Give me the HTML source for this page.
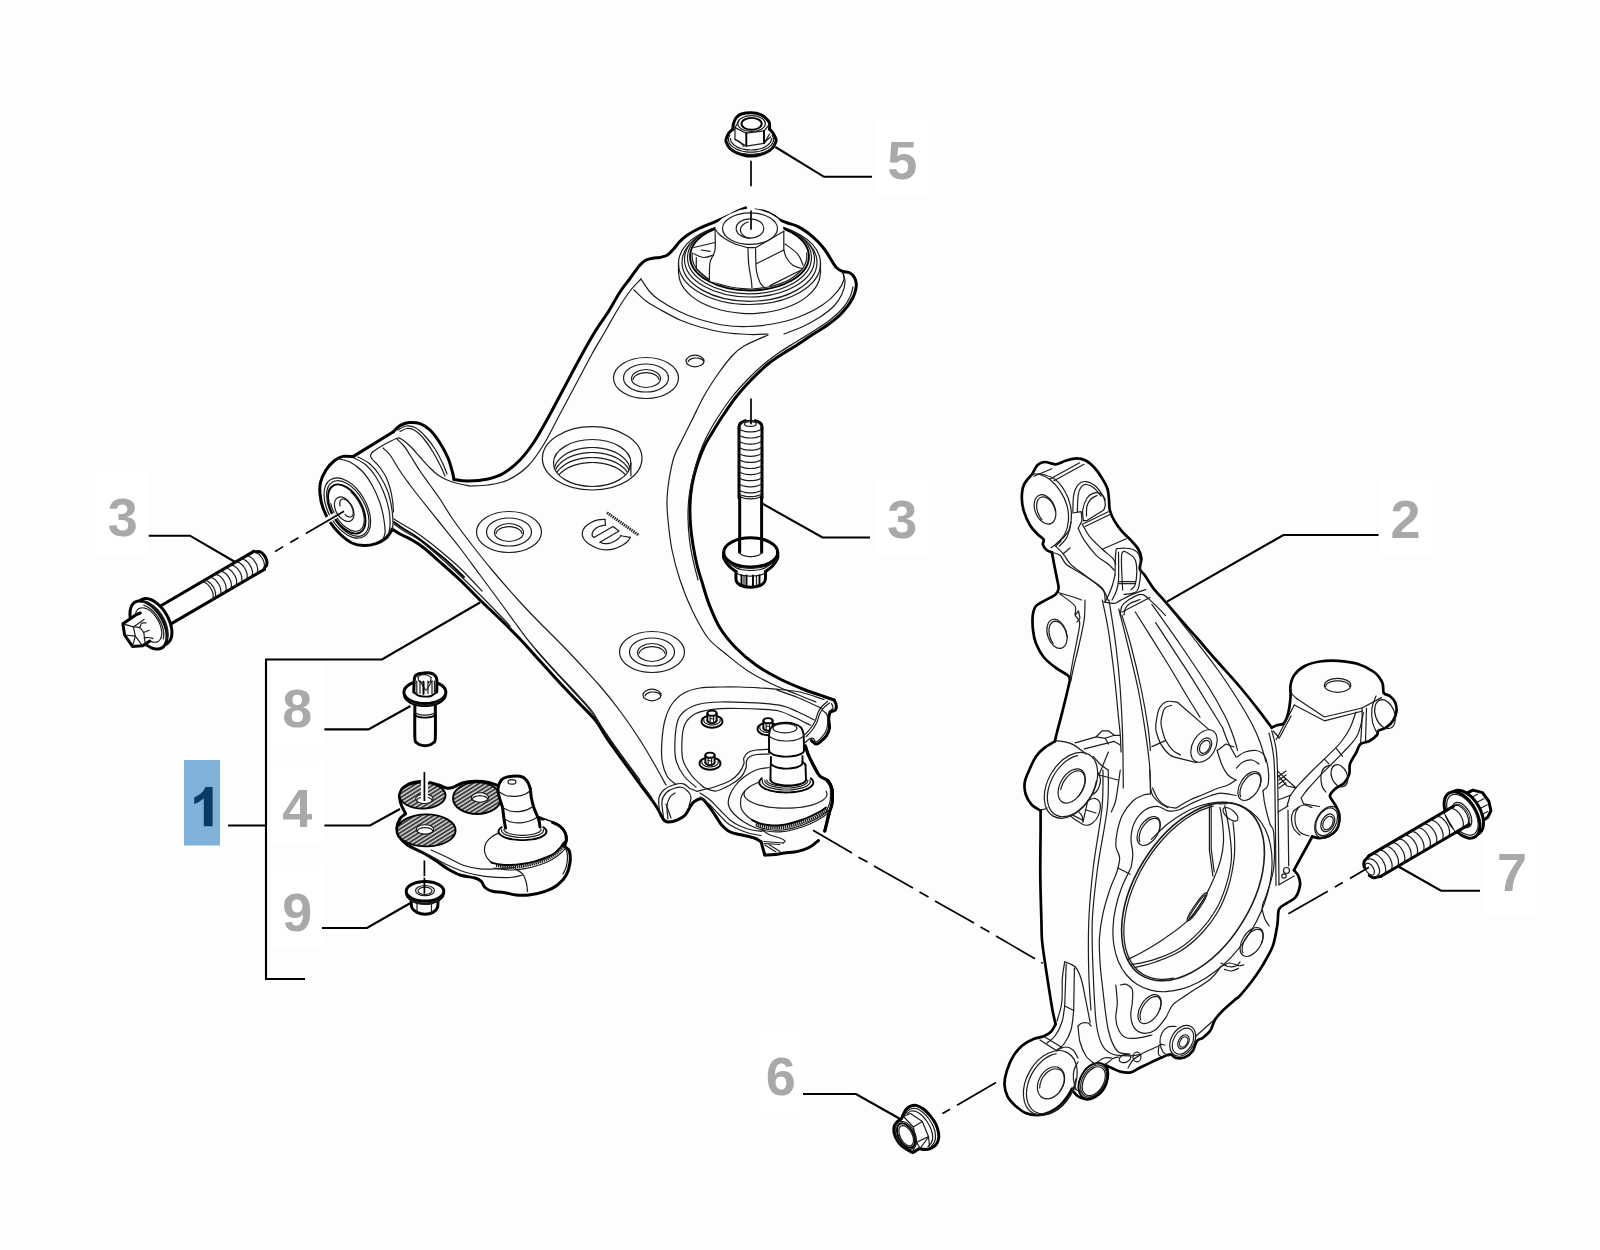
<!DOCTYPE html>
<html><head><meta charset="utf-8">
<style>
html,body{margin:0;padding:0;background:#fdfdfd;}
body{width:1600px;height:1250px;overflow:hidden;font-family:"Liberation Sans",sans-serif;}
svg{display:block;position:absolute;left:0;top:0;}
.o{fill:none;stroke:#000;stroke-width:3;stroke-linejoin:round;stroke-linecap:round;}
#p_knuckle .o{stroke-width:2.7;}
.m{fill:none;stroke:#000;stroke-width:1.9;stroke-linejoin:round;stroke-linecap:round;}
.t{fill:none;stroke:#1c1c1c;stroke-width:1.2;stroke-linejoin:round;stroke-linecap:round;}
.l{fill:none;stroke:#000;stroke-width:2.1;stroke-linejoin:miter;stroke-linecap:butt;}
.a{fill:none;stroke:#000;stroke-width:1.7;stroke-linecap:butt;}
.wf{fill:#fdfdfd;}
.n{font-family:"Liberation Sans",sans-serif;font-weight:bold;font-size:54px;fill:#a9a9a9;text-anchor:middle;}
.bx{fill:#ffffff;}
</style></head><body>
<svg width="1600" height="1250" viewBox="0 0 1600 1250">
<g id="p_labels">
<rect class="bx" x="875" y="114" width="53" height="83"/>
<rect class="bx" x="96" y="472" width="53" height="83"/>
<rect class="bx" x="875" y="474" width="53" height="83"/>
<rect class="bx" x="1379" y="474" width="53" height="83"/>
<rect class="bx" x="271" y="663" width="53" height="83"/>
<rect class="bx" x="271" y="762" width="53" height="83"/>
<rect class="bx" x="271" y="866" width="53" height="83"/>
<rect class="bx" x="1485" y="833" width="53" height="83"/>
<rect class="bx" x="754" y="1030" width="53" height="83"/>
<rect x="184" y="760" width="36" height="85.5" fill="#7fb1d9"/>
<text class="n" x="902.2" y="178.6">5</text>
<text class="n" x="122.8" y="536.4">3</text>
<text class="n" x="902.2" y="538.4">3</text>
<text class="n" x="1405.5" y="538.4">2</text>
<text class="n" x="297.3" y="727">8</text>
<text class="n" x="297.3" y="826.6">4</text>
<text class="n" x="297.3" y="931">9</text>
<text class="n" x="1512" y="891">7</text>
<text class="n" x="780.8" y="1095">6</text>
<path d="M212.6 826.3H203.8V798.2C201 800.8 197.8 802.8 194.2 804V797.2C196.2 796.5 198.4 795.2 200.7 793.4C203 791.6 204.6 789.4 205.5 787H212.6Z" fill="#083a66"/>
<g class="l">
<path d="M872 176.8H824L775.4 147"/>
<path d="M148.7 535.7H190L236 562.5"/>
<path d="M870 537.5H822.5L762.5 503.7"/>
<path d="M1378.5 535H1283.4L1167 601.6"/>
<path d="M324.4 729.4H368.5L410.5 706"/>
<path d="M324.4 825.5H370L400 809"/>
<path d="M322 928H367L410.5 903"/>
<path d="M1480 890.7H1441L1397.5 866"/>
<path d="M803 1094H856L902 1120"/>
<path d="M228 825.5H266"/>
<path d="M305 979H266V659.5H382L480 602.5"/>
</g>
</g>
<g id="p_arm">
<path class="o" d="M745.6 207.8C744.7 208.2 742.6 208.8 740 210C737.4 211.2 734 213.1 730 215C726 216.9 721 219.1 716 221.3C711 223.5 704.8 225.7 700 228C695.2 230.3 690.8 232.8 687.5 235C684.2 237.2 682.3 239 680 241.3C677.7 243.6 675.9 246.5 673.8 248.8C671.7 251.1 669.8 253.6 667.5 255C665.2 256.4 662.2 257 660 257.5C657.8 258 656.3 257.6 654 258C651.7 258.4 648.3 258.8 646 260C643.7 261.2 642.7 261.9 640 265C637.3 268.1 633.3 274 630 278.5C626.7 283 623.8 286.2 620 292C616.2 297.8 611.5 306.7 607.5 313C603.5 319.3 600.6 322.5 596 330C591.4 337.5 585.3 348.3 580 358C574.7 367.7 569.3 378 564 388C558.7 398 553 409 548 418C543 427 538.7 435 534 442C529.3 449 525 454.8 520 460C515 465.2 509.3 469.8 504 473C498.7 476.2 494 477.7 488 479C482 480.3 473.7 480.9 468 481C462.3 481.1 456.3 479.8 454 479.5"/>
<path class="o" d="M755.6 210C757 210.2 761 210.5 763.8 211.3C766.6 212.1 769.8 213.6 772.5 215C775.2 216.4 777.5 218.7 780 220C782.5 221.3 784.6 221.9 787.5 223C790.4 224.1 794.2 224.7 797.5 226.3C800.8 227.9 804.2 230 807.5 232.5C810.8 235 814.6 238.4 817.5 241.3C820.4 244.2 822.7 246.9 825 250C827.3 253.1 829.4 257.1 831.3 260C833.2 262.9 834.4 265.6 836.3 267.5C838.2 269.4 840.2 270.4 842.5 271.3C844.8 272.2 848 272 850 273C852 274 853.4 275.7 854.4 277.5C855.4 279.3 856.1 281.7 856.3 283.8C856.5 285.9 856.1 287.7 855.6 290C855.1 292.3 854.4 294.8 853 297.5C851.6 300.2 849.7 303.4 847.5 306.3C845.3 309.2 843.3 311.9 840 315C836.7 318.1 832.5 321.4 827.5 325C822.5 328.6 815.4 332.8 810 336.3C804.6 339.9 799.3 343.5 795 346.3C790.7 349.1 788.5 350.1 784 353C779.5 355.9 773.3 359.7 768 364C762.7 368.3 757.3 373.5 752 379C746.7 384.5 741 390.7 736 397C731 403.3 726 411 722 417C718 423 715 428 712 433C709 438 706.5 441.7 704 447C701.5 452.3 699 458.7 697 465C695 471.3 693.2 478.3 692 485C690.8 491.7 690.2 498.3 690 505C689.8 511.7 690 518.3 690.5 525C691 531.7 691.9 538.3 693 545C694.1 551.7 695.5 558.8 697 565C698.5 571.2 700 575.5 702 582C704 588.5 706 596.3 709 604C712 611.7 715.5 620.7 720 628C724.5 635.3 730 641.8 736 648C742 654.2 748.7 659.8 756 665C763.3 670.2 772 674.9 780 679C788 683.1 796.7 686.6 804 689.5C811.3 692.4 819 694.8 824 696.5C829 698.2 832.3 699.4 834 700"/>
<path class="o" d="M834 700C834.4 700.8 836 703.1 836.2 704.8C836.5 706.5 836.5 708.8 835.5 710C834.5 711.2 831.3 710.8 830.2 712.3C829.1 713.8 828.8 716.4 828.7 719C828.6 721.6 829.9 725.2 829.5 728C829.1 730.8 828 733.3 826.5 735.6C825 737.9 822.2 740.3 820.5 741.7C818.8 743.1 817.5 744.2 816 744C814.5 743.8 812.2 741.1 811.4 740.5"/>
<path class="o" d="M454 479.5C453.7 478.2 453.4 475.6 452.4 472C451.4 468.4 450.1 462.8 448 458C445.9 453.2 443 447.7 440 443C437 438.3 433.3 433.2 430 430C426.7 426.8 423.5 424.8 420 423.6C416.5 422.4 412.3 422.3 409 422.6C405.7 422.9 402.7 424 400 425.6C397.3 427.2 394.2 430.9 393 432"/>
<path class="o" d="M393 432L353 456.6"/>
<path class="o" d="M353 456.6C351.3 456.6 346.2 455.7 343 456.4C339.8 457.1 336.8 458.7 334 461C331.2 463.3 328.2 466.5 326 470C323.8 473.5 321.6 478 320.6 482C319.6 486 319.6 489.7 320 494C320.4 498.3 321.3 503.3 323 508C324.7 512.7 327.2 517.7 330 522C332.8 526.3 336.3 530.5 340 534C343.7 537.5 348 541.1 352 543C356 544.9 360 545.5 364 545.6C368 545.7 372.3 544.9 376 543.6C379.7 542.3 383.3 540.3 386 538C388.7 535.7 391 531.3 392 530"/>
<path class="o" d="M392 529C393.3 529.8 396.7 532.2 400 534C403.3 535.8 408 537.7 412 540C416 542.3 419.3 544.3 424 548C428.7 551.7 434 556.7 440 562C446 567.3 453.3 573.7 460 580C466.7 586.3 473.3 593.5 480 600C486.7 606.5 493.3 612.5 500 619C506.7 625.5 513.3 632 520 639C526.7 646 533.3 653.7 540 661C546.7 668.3 553.3 675.8 560 683C566.7 690.2 574 697.7 580 704C586 710.3 591.3 715 596 721C600.7 727 603.3 733.2 608 740C612.7 746.8 618.7 754.7 624 762C629.3 769.3 634.7 776.7 640 784C645.3 791.3 652.3 800.5 656 806C659.7 811.5 660.6 814.6 662 817C663.4 819.4 663.4 819.7 664.5 820.5C665.6 821.3 666.4 822.1 668.6 822C670.8 821.9 674.9 820.9 677.6 819.8C680.3 818.7 683 817.3 685 815.3C687 813.3 688.1 810 689.6 807.8C691.1 805.5 692 803.3 694 801.8C696 800.3 699.4 798.3 701.7 798.8C704 799.3 705.5 802 707.7 804.8C710 807.5 713 812 715.2 815.3C717.5 818.6 718.7 821.6 721.2 824.4C723.7 827.2 726.7 830.2 730.2 832C733.7 833.8 738.3 834 742.3 835C746.3 836 751.2 836.9 754.3 838C757.4 839.1 759.9 841.1 761 841.7"/>
<path class="o" d="M761 841.7L764.8 855"/>
<path class="o" d="M764.8 855C766.5 854.9 772 854.7 775.3 854.4C778.6 854.1 780.6 853.5 784.4 853C788.2 852.5 793.7 852.4 798 851.4C802.3 850.4 806.6 848.8 810 847C813.4 845.2 817.1 841.6 818.5 840.5"/>
<path class="o" d="M825 831C825.2 829.8 825.8 827.2 826.5 824C827.2 820.8 828.6 815.2 829.5 812C830.4 808.8 831.2 807.5 831.7 805C832.2 802.5 832.5 799.8 832.5 797C832.5 794.2 832.5 790.7 831.7 788C831 785.3 830 782.8 828 780.8C826 778.8 822 778.3 819.7 776C817.4 773.7 816.3 770.5 814.4 767C812.5 763.5 809.9 758.5 808.4 755C806.9 751.5 805.9 747.5 805.4 746"/>
</g>
<g id="p_arm2">
<path class="t" d="M641 279C642.5 281.2 646.8 288.4 650 292C653.2 295.6 655.2 297.4 660 300.6C664.8 303.8 672.5 308.3 678.8 311.3C685 314.3 690.2 316.5 697.5 318.8C704.8 321.1 714.2 323.7 722.5 325C730.8 326.3 739.2 326.7 747.5 326.5C755.8 326.3 764.2 325.5 772.5 324C780.8 322.5 789.2 320.7 797.5 317.5C805.8 314.3 815.8 309.4 822.5 305C829.2 300.6 834 295.5 837.5 291.3C841 287.1 842.9 283.2 843.8 280C844.7 276.8 843.1 273.3 843 272"/>
<path class="t" d="M634 290C636 291.8 641.7 297.8 646 301C650.3 304.2 654.3 306.3 660 309.5C665.7 312.7 673.3 317.1 680 320C686.7 322.9 692.7 324.9 700 327C707.3 329.1 715.7 331.2 724 332.5C732.3 333.8 742.7 334.2 750 334.5C757.3 334.8 765 334.1 768 334"/>
<path class="t" d="M768 335C764 336.8 750 342.5 744 346C738 349.5 736.3 351.3 732 356C727.7 360.7 722.7 367.3 718 374C713.3 380.7 708.3 388.3 704 396C699.7 403.7 695.7 412.7 692 420C688.3 427.3 685 433.8 682 440C679 446.2 676.2 450.3 674 457C671.8 463.7 670.2 472.8 669 480C667.8 487.2 667.2 493.3 667 500C666.8 506.7 667.2 511.7 668 520C668.8 528.3 670 540 672 550C674 560 676.7 570 680 580C683.3 590 687.3 600.3 692 610C696.7 619.7 702.3 630.7 708 638C713.7 645.3 719.3 648.5 726 654C732.7 659.5 740.3 666 748 671C755.7 676 764 680.2 772 684C780 687.8 788.7 691 796 694C803.3 697 812.7 700.7 816 702"/>
<path class="t" d="M853 287C852.5 288.7 851.7 293.5 850 297C848.3 300.5 846.3 304.2 843 308C839.7 311.8 835.2 316 830 320C824.8 324 817.7 328.3 812 332C806.3 335.7 801.3 338.7 796 342C790.7 345.3 785.3 348.3 780 352C774.7 355.7 769.3 359.5 764 364C758.7 368.5 753.3 373.5 748 379C742.7 384.5 737 390.7 732 397C727 403.3 722.2 410.5 718 417C713.8 423.5 710.2 429.7 707 436C703.8 442.3 701.3 448.3 699 455C696.7 461.7 694.7 469 693 476C691.3 483 689.8 490 689 497C688.2 504 687.9 510.8 688 518C688.1 525.2 688.7 533 689.5 540C690.3 547 691.6 553.3 693 560C694.4 566.7 697.2 576.7 698 580"/>
<path class="t" d="M842.5 272C842.9 273.7 845.1 278.3 845 282C844.9 285.7 843.8 290 842 294C840.2 298 837.7 302.2 834 306C830.3 309.8 825.3 313.5 820 317C814.7 320.5 808 324.2 802 327C796 329.8 787 332.8 784 334"/>
<ellipse class="t" cx="749.5" cy="263.5" rx="71" ry="41"/>
<path class="t" d="M820.5 272.5C820.2 273.9 820 278.2 818.9 281C817.9 283.8 816.4 286.6 814.4 289.2C812.4 291.8 809.8 294.3 806.9 296.6C804 298.9 800.7 301.1 797 303C793.4 304.9 789.3 306.6 785 308C780.7 309.4 776.1 310.6 771.4 311.5C766.8 312.4 761.8 313 756.9 313.3C752 313.6 747 313.6 742.1 313.3C737.2 313 732.2 312.4 727.6 311.5C722.9 310.6 718.3 309.4 714 308C709.7 306.6 705.6 304.9 702 303C698.3 301.1 695 298.9 692.1 296.6C689.2 294.3 686.6 291.8 684.6 289.2C682.6 286.6 681.1 283.8 680.1 281C679 278.2 678.8 273.9 678.5 272.5"/>
<path class="t" d="M678.5 263.5L678.5 272.5"/>
<path class="t" d="M820.5 263.5L820.5 272.5"/>
<ellipse class="t" cx="749.5" cy="262.3" rx="67.5" ry="39"/>
<ellipse class="t" cx="749.5" cy="259.5" rx="65" ry="37.5"/>
<ellipse class="t" cx="749.5" cy="257.8" rx="62" ry="36"/>
<ellipse class="m" cx="749.5" cy="256.5" rx="59.4" ry="34"/>
<path class="t" d="M806.8 252.9C806.7 254.1 807 257.8 806.5 260.2C805.9 262.6 804.9 265 803.4 267.3C802 269.5 800 271.8 797.7 273.8C795.4 275.8 792.7 277.7 789.7 279.4C786.7 281.1 783.3 282.6 779.7 283.9C776.1 285.2 772.2 286.2 768.2 287C764.2 287.8 760 288.3 755.8 288.6C751.7 288.9 747.3 288.9 743.2 288.6C739 288.3 734.8 287.8 730.8 287C726.8 286.2 722.9 285.2 719.3 283.9C715.7 282.6 712.3 281.1 709.3 279.4C706.3 277.7 703.6 275.8 701.3 273.8C699 271.8 697 269.5 695.6 267.3C694.1 265 693.1 262.6 692.5 260.2C692 257.8 692.3 254.1 692.2 252.9"/>
<path class="wf" d="M715 229L717 223L722 218.5L730 214L740 210L750 208.3L760 210L770 213.5L778 218.5L782.5 224L783.8 231L783.8 250L786.3 257.5L792.5 265L801.3 270L770 285.6L752 288.5L730 286L709.4 281L710 262.5L715 250Z"/>
<path class="t" d="M715 229C715 232.5 715.8 244.4 715 250C714.2 255.6 710.9 257.3 710 262.5C709.1 267.7 709.5 277.9 709.4 281"/>
<path class="t" d="M715 229C715.7 229.8 717.3 232.4 719 234C720.7 235.6 722.3 237.1 725 238.8C727.7 240.5 731.2 242.5 735 244C738.8 245.5 745.4 247 747.5 247.6"/>
<path class="t" d="M747.5 247.6L756 247.6L783.8 231.3"/>
<path class="t" d="M783.8 231.3L783.8 250"/>
<path class="t" d="M783.8 250L756.3 263.8"/>
<path class="t" d="M783.8 250C784.2 251.2 784.8 255 786.3 257.5C787.8 260 789.8 263.1 792.5 265C795.2 266.9 800.8 268.2 802.5 268.8"/>
<path class="t" d="M770 285.6L801.3 270"/>
<path class="t" d="M785 244C787.1 245.6 794.5 250.3 797.5 253.8C800.5 257.3 802.1 263.1 803 265"/>
<path class="t" d="M748 248.8C748.1 251.5 748.2 259.8 748.8 265C749.3 270.2 750.8 276.2 751.3 280C751.8 283.8 751.9 286.7 752 288"/>
<path class="t" d="M755.6 248.8C755.7 252.3 755.6 264.4 756.3 270C757 275.6 758.6 279.5 760 282.5C761.4 285.5 763.8 286.9 764.5 287.8"/>
<path class="t" d="M693.8 247.5L715 242.5"/>
<path class="t" d="M693.8 253.8C695.5 254.4 700.5 257.3 703.8 257.5C707.1 257.7 712.1 255.4 713.8 255"/>
<path class="t" d="M696.3 257.5L696.3 268.8L708.8 280"/>
<path class="t" d="M701.3 250L710 251.3"/>
<ellipse class="t" cx="750" cy="228.6" rx="27.5" ry="15.8"/>
<ellipse class="t" cx="750" cy="228.4" rx="13.8" ry="9.6"/>
<path class="t" d="M750.4 238.4C750 238.3 748.7 238.1 747.9 237.9C747.1 237.6 746.3 237.3 745.6 237C744.9 236.6 744.2 236.2 743.7 235.7C743.1 235.3 742.5 234.8 742.1 234.2C741.7 233.7 741.3 233.1 741.1 232.6C740.8 232 740.6 231.4 740.5 230.7C740.5 230.1 740.5 229.5 740.6 228.9C740.7 228.3 740.9 227.7 741.2 227.1C741.5 226.5 741.9 226 742.4 225.4C742.8 224.9 743.4 224.4 744 224C744.6 223.6 745.3 223.2 746.1 222.8C746.8 222.5 748 222.1 748.4 222"/>
</g>
<g id="p_arm3">
<path class="t" d="M354 458C356 459.2 362.3 461.8 366 465C369.7 468.2 373 472.3 376 477C379 481.7 381.8 487.5 384 493C386.2 498.5 388 504.7 389 510C390 515.3 390.2 520.3 390 525C389.8 529.7 388.3 535.8 388 538"/>
<path class="t" d="M358 457C360 458.2 366.3 460.8 370 464C373.7 467.2 377 471.3 380 476C383 480.7 386 486.3 388 492C390 497.7 391.2 504.8 392 510C392.8 515.2 393 519.5 393 523C393 526.5 392.2 529.7 392 531"/>
<path class="t" d="M335 460C335.7 459.8 336.5 458.7 339 459C341.5 459.3 346.2 460 350 462C353.8 464 358.3 467.2 362 471C365.7 474.8 369 479.7 372 485C375 490.3 378 497.2 380 503C382 508.8 383.2 515 384 520C384.8 525 385.3 529.5 385 533C384.7 536.5 382.5 539.7 382 541"/>
<ellipse class="t" cx="347.3" cy="508" rx="33" ry="19" transform="rotate(60 347.3 508)"/>
<ellipse class="t" cx="347.8" cy="508.5" rx="30.5" ry="17" transform="rotate(60 347.8 508.5)"/>
<ellipse class="m" cx="346.8" cy="509" rx="27" ry="15" transform="rotate(60 346.8 509)"/>
<path class="t" d="M351 491.9C351.5 492.5 353.3 494.2 354.4 495.5C355.4 496.8 356.5 498.2 357.4 499.6C358.4 501.1 359.3 502.6 360 504.2C360.8 505.7 361.5 507.3 362.1 508.9C362.7 510.4 363.1 512 363.5 513.6C363.8 515.1 364.1 516.6 364.2 518.1C364.3 519.5 364.2 520.9 364.1 522.1C363.9 523.4 363.7 524.6 363.3 525.6C362.9 526.7 362.4 527.6 361.8 528.4C361.1 529.1 360.4 529.8 359.6 530.3C358.8 530.7 357.9 531 356.9 531.2C355.9 531.3 354.9 531.3 353.8 531.1C352.7 530.9 351.5 530.6 350.3 530.1C349.2 529.6 348 528.9 346.8 528.1C345.6 527.3 344.4 526.3 343.2 525.3C342.1 524.2 340.9 523 339.8 521.7C338.8 520.4 337.7 519 336.8 517.6C335.8 516.1 334.9 514.6 334.2 513C333.4 511.5 332.7 509.9 332.1 508.3C331.5 506.8 331 504.4 330.7 503.6"/>
<ellipse class="t" cx="344.2" cy="509.2" rx="13.3" ry="8.3" transform="rotate(60 344.2 509.2)"/>
<path class="t" d="M340.1 505.9C340.1 505.6 339.9 504.7 339.8 504.1C339.8 503.6 339.8 503 339.8 502.5C339.9 502 340 501.6 340.1 501.1C340.2 500.7 340.4 500.4 340.7 500.1C340.9 499.8 341.2 499.5 341.5 499.3C341.8 499.2 342.2 499 342.5 499C342.9 498.9 343.3 499 343.8 499C344.2 499.1 344.6 499.3 345.1 499.5C345.6 499.7 346 499.9 346.5 500.3C347 500.6 347.4 501 347.9 501.4C348.4 501.8 348.8 502.3 349.2 502.9C349.7 503.4 350.1 503.9 350.5 504.5C350.8 505.1 351.2 505.7 351.5 506.3C351.8 506.9 352.1 507.6 352.3 508.2C352.6 508.8 352.8 509.5 352.9 510.1C353 510.7 353.1 511.3 353.2 511.9C353.2 512.4 353.2 513 353.2 513.5C353.1 514 353 514.4 352.9 514.9C352.8 515.3 352.6 515.6 352.3 515.9C352.1 516.2 351.8 516.5 351.5 516.7C351.2 516.8 350.8 517 350.5 517C350.1 517.1 349.7 517 349.2 517C348.8 516.9 348.4 516.7 347.9 516.5C347.4 516.3 347 516.1 346.5 515.7C346 515.4 345.3 514.8 345.1 514.6"/>
<path class="t" d="M398 430C399.3 429.3 403.2 426.4 406 426C408.8 425.6 411.8 425.8 415 427.5C418.2 429.2 421.7 432.4 425 436C428.3 439.6 432 444.3 435 449C438 453.7 441 459.8 443 464C445 468.2 446.3 472.3 447 474"/>
<path class="t" d="M400 431.5C401.2 431 404.5 428.7 407 428.5C409.5 428.3 412.2 428.8 415 430.5C417.8 432.2 421 435.4 424 439C427 442.6 430.2 447.3 433 452C435.8 456.7 439 463 441 467C443 471 444.3 474.5 445 476"/>
<path class="t" d="M470 486C467.7 485.5 460 484.1 456 483C452 481.9 449 480.8 446 479.5C443 478.2 440.7 476.9 438 475C435.3 473.1 433 471 430 468C427 465 423.3 460.7 420 457C416.7 453.3 413 448.9 410 446C407 443.1 404 440.8 402 439.5C400 438.2 400 437.7 398 438C396 438.3 393 440 390 441.5C387 443 383 445.2 380 447C377 448.8 373.3 451.6 372 452.5"/>
<path class="t" d="M372 452.5C371.8 453.1 370.4 454.8 370.5 456C370.6 457.2 371.6 458.3 372.5 459.5C373.4 460.7 374.6 461.4 376 463C377.4 464.6 379.3 466.7 381 469C382.7 471.3 384.5 473.8 386 477C387.5 480.2 388.9 484.2 390 488C391.1 491.8 391.9 496 392.5 500C393.1 504 393.3 510 393.5 512"/>
<path class="t" d="M470 486C473 485.8 481.7 486 488 485C494.3 484 501.3 483.2 508 480C514.7 476.8 522 472 528 466C534 460 538.7 452.7 544 444C549.3 435.3 554.7 424 560 414C565.3 404 570.7 394 576 384C581.3 374 587 363 592 354C597 345 601.7 337.5 606 330C610.3 322.5 614 315.5 618 309C622 302.5 626.2 296 630 291C633.8 286 639.2 281 641 279"/>
<path class="t" d="M397 439C398.2 440.2 401.8 443.3 404 446C406.2 448.7 407.3 450.8 410 455C412.7 459.2 416.7 466 420 471C423.3 476 426.7 480.3 430 485C433.3 489.7 436.3 493.5 440 499C443.7 504.5 446.7 510.3 452 518C457.3 525.7 465.3 536.3 472 545C478.7 553.7 484 560.5 492 570C500 579.5 512 593.2 520 602C528 610.8 533.3 616.2 540 623C546.7 629.8 553.3 636.2 560 643C566.7 649.8 573.3 656.8 580 664C586.7 671.2 593.3 678.2 600 686C606.7 693.8 613.3 702 620 711C626.7 720 634 730.7 640 740C646 749.3 651.7 759.5 656 767C660.3 774.5 664.3 782 666 785"/>
<path class="t" d="M383 448C384.2 449.2 387.2 451.2 390 455C392.8 458.8 396.7 466 400 471C403.3 476 406.7 480.5 410 485C413.3 489.5 415 491.7 420 498C425 504.3 433.3 514.7 440 523C446.7 531.3 453.3 539.3 460 548C466.7 556.7 473.3 566 480 575C486.7 584 494 593.8 500 602C506 610.2 510.7 616.8 516 624C521.3 631.2 526 637.7 532 645C538 652.3 545.3 660.5 552 668C558.7 675.5 565.7 683 572 690C578.3 697 584.7 703.3 590 710C595.3 716.7 599 722.7 604 730C609 737.3 614.3 745.8 620 754C625.7 762.2 632.7 771.7 638 779C643.3 786.3 649.7 794.8 652 798"/>
<path class="t" d="M394 524C395.7 525.2 400 528.5 404 531C408 533.5 413 535.5 418 539C423 542.5 428.3 547.2 434 552C439.7 556.8 445.7 562.2 452 568C458.3 573.8 465.3 580.5 472 587C478.7 593.5 485.7 600.5 492 607C498.3 613.5 507 622.8 510 626"/>
<path class="t" d="M394 519C395.3 519.8 398.7 522 402 524C405.3 526 409.7 528.2 414 531C418.3 533.8 423 537.2 428 541C433 544.8 438.3 549.2 444 554C449.7 558.8 455.7 563.8 462 570C468.3 576.2 478.7 587.5 482 591"/>
<path class="m" d="M394 522C395.7 523.2 400.3 526.6 404 529C407.7 531.4 411.7 533.5 416 536.5C420.3 539.5 425 543.1 430 547C435 550.9 440.3 555 446 560C451.7 565 461 574.2 464 577"/>
<path class="t" d="M536 650C539.3 653.7 549.3 664.8 556 672C562.7 679.2 570 686.5 576 693C582 699.5 587.3 704.7 592 711C596.7 717.3 599.3 724 604 731C608.7 738 614 744.8 620 753C626 761.2 636.7 775.5 640 780"/>
<ellipse class="t" cx="646" cy="378" rx="32.5" ry="20.5"/>
<ellipse class="t" cx="646" cy="378" rx="22.5" ry="14"/>
<ellipse class="t" cx="646" cy="378.5" rx="14.5" ry="9"/>
<path class="t" d="M633 379.5C633.1 379.3 633.3 378.5 633.6 378C633.8 377.5 634.2 376.9 634.7 376.5C635.1 376 635.6 375.6 636.3 375.2C636.9 374.8 637.5 374.4 638.3 374.1C639 373.8 639.8 373.5 640.7 373.3C641.5 373.1 642.4 372.9 643.3 372.8C644.2 372.7 645.1 372.6 646 372.6C646.9 372.6 647.8 372.7 648.7 372.8C649.6 372.9 650.5 373.1 651.3 373.3C652.2 373.5 653 373.8 653.7 374.1C654.5 374.4 655.1 374.8 655.7 375.2C656.4 375.6 656.9 376 657.3 376.5C657.8 376.9 658.2 377.5 658.4 378C658.7 378.5 658.9 379.3 659 379.5"/>
<ellipse class="t" cx="509" cy="532" rx="32.5" ry="20.5"/>
<ellipse class="t" cx="509" cy="532" rx="22.5" ry="14"/>
<ellipse class="t" cx="509" cy="532.5" rx="14.5" ry="9"/>
<path class="t" d="M496 533.5C496.1 533.3 496.3 532.5 496.6 532C496.8 531.5 497.2 530.9 497.7 530.5C498.1 530 498.6 529.6 499.3 529.2C499.9 528.8 500.5 528.4 501.3 528.1C502 527.8 502.8 527.5 503.7 527.3C504.5 527.1 505.4 526.9 506.3 526.8C507.2 526.7 508.1 526.6 509 526.6C509.9 526.6 510.8 526.7 511.7 526.8C512.6 526.9 513.5 527.1 514.3 527.3C515.2 527.5 516 527.8 516.7 528.1C517.5 528.4 518.1 528.8 518.7 529.2C519.4 529.6 519.9 530 520.3 530.5C520.8 530.9 521.2 531.5 521.4 532C521.7 532.5 521.9 533.3 522 533.5"/>
<ellipse class="t" cx="652" cy="652" rx="32.5" ry="20.5"/>
<ellipse class="t" cx="652" cy="652" rx="22.5" ry="14"/>
<ellipse class="t" cx="652" cy="652.5" rx="14.5" ry="9"/>
<path class="t" d="M639 653.5C639.1 653.3 639.3 652.5 639.6 652C639.8 651.5 640.2 650.9 640.7 650.5C641.1 650 641.6 649.6 642.3 649.2C642.9 648.8 643.5 648.4 644.3 648.1C645 647.8 645.8 647.5 646.7 647.3C647.5 647.1 648.4 646.9 649.3 646.8C650.2 646.7 651.1 646.6 652 646.6C652.9 646.6 653.8 646.7 654.7 646.8C655.6 646.9 656.5 647.1 657.3 647.3C658.2 647.5 659 647.8 659.7 648.1C660.5 648.4 661.1 648.8 661.7 649.2C662.4 649.6 662.9 650 663.3 650.5C663.8 650.9 664.2 651.5 664.4 652C664.7 652.5 664.9 653.3 665 653.5"/>
<ellipse class="t" cx="695" cy="361" rx="9" ry="5.8"/>
<path class="t" d="M688.1 361.8C688.2 361.6 688.4 361.2 688.6 360.9C688.8 360.6 689.1 360.3 689.4 360C689.7 359.7 690.1 359.5 690.5 359.2C691 359 691.4 358.8 691.9 358.6C692.4 358.5 692.9 358.3 693.5 358.2C694 358.1 694.6 358.1 695.1 358C695.7 358 696.3 358 696.9 358C697.4 358.1 698 358.1 698.5 358.2C699.1 358.3 699.6 358.5 700.1 358.6C700.6 358.8 701 359 701.5 359.2C701.9 359.5 702.3 359.7 702.6 360C702.9 360.3 703.2 360.6 703.4 360.9C703.6 361.2 703.8 361.6 703.9 361.8"/>
<ellipse class="t" cx="652" cy="695" rx="9" ry="5.8"/>
<path class="t" d="M645.1 695.8C645.2 695.6 645.4 695.2 645.6 694.9C645.8 694.6 646.1 694.3 646.4 694C646.7 693.7 647.1 693.5 647.5 693.2C648 693 648.4 692.8 648.9 692.6C649.4 692.5 649.9 692.3 650.5 692.2C651 692.1 651.6 692.1 652.1 692C652.7 692 653.3 692 653.9 692C654.4 692.1 655 692.1 655.5 692.2C656.1 692.3 656.6 692.5 657.1 692.6C657.6 692.8 658 693 658.5 693.2C658.9 693.5 659.3 693.7 659.6 694C659.9 694.3 660.2 694.6 660.4 694.9C660.6 695.2 660.8 695.6 660.9 695.8"/>
<ellipse class="t" cx="592.2" cy="458.3" rx="49.8" ry="31.7"/>
<clipPath id="bh"><ellipse cx="592.2" cy="463" rx="38.7" ry="23.5"/></clipPath>
<ellipse class="t" cx="592.2" cy="463" rx="38.7" ry="23.5"/>
<g clip-path="url(#bh)">
<path class="t" d="M554.2 471C554.3 470.2 554.5 467.7 555 466.1C555.6 464.5 556.4 462.9 557.5 461.4C558.6 460 559.9 458.5 561.5 457.2C563 455.9 564.8 454.6 566.8 453.5C568.7 452.4 570.9 451.5 573.2 450.6C575.5 449.8 578 449.2 580.5 448.7C583 448.1 585.6 447.8 588.2 447.6C590.8 447.5 593.6 447.5 596.2 447.6C598.8 447.8 601.4 448.1 603.9 448.7C606.4 449.2 608.9 449.8 611.2 450.6C613.5 451.5 615.7 452.4 617.6 453.5C619.6 454.6 621.4 455.9 622.9 457.2C624.5 458.5 625.8 460 626.9 461.4C628 462.9 628.8 464.5 629.4 466.1C629.9 467.7 630.1 470.2 630.2 471"/>
<path class="t" d="M554.2 476C554.3 475.2 554.5 472.7 555 471.1C555.6 469.5 556.4 467.9 557.5 466.4C558.6 465 559.9 463.5 561.5 462.2C563 460.9 564.8 459.6 566.8 458.5C568.7 457.4 570.9 456.5 573.2 455.6C575.5 454.8 578 454.2 580.5 453.7C583 453.1 585.6 452.8 588.2 452.6C590.8 452.5 593.6 452.5 596.2 452.6C598.8 452.8 601.4 453.1 603.9 453.7C606.4 454.2 608.9 454.8 611.2 455.6C613.5 456.5 615.7 457.4 617.6 458.5C619.6 459.6 621.4 460.9 622.9 462.2C624.5 463.5 625.8 465 626.9 466.4C628 467.9 628.8 469.5 629.4 471.1C629.9 472.7 630.1 475.2 630.2 476"/>
<path class="t" d="M554.2 481C554.3 480.2 554.5 477.7 555 476.1C555.6 474.5 556.4 472.9 557.5 471.4C558.6 470 559.9 468.5 561.5 467.2C563 465.9 564.8 464.6 566.8 463.5C568.7 462.4 570.9 461.5 573.2 460.6C575.5 459.8 578 459.2 580.5 458.7C583 458.1 585.6 457.8 588.2 457.6C590.8 457.5 593.6 457.5 596.2 457.6C598.8 457.8 601.4 458.1 603.9 458.7C606.4 459.2 608.9 459.8 611.2 460.6C613.5 461.5 615.7 462.4 617.6 463.5C619.6 464.6 621.4 465.9 622.9 467.2C624.5 468.5 625.8 470 626.9 471.4C628 472.9 628.8 474.5 629.4 476.1C629.9 477.7 630.1 480.2 630.2 481"/>
<path class="t" d="M554.2 486C554.3 485.2 554.5 482.7 555 481.1C555.6 479.5 556.4 477.9 557.5 476.4C558.6 475 559.9 473.5 561.5 472.2C563 470.9 564.8 469.6 566.8 468.5C568.7 467.4 570.9 466.5 573.2 465.6C575.5 464.8 578 464.2 580.5 463.7C583 463.1 585.6 462.8 588.2 462.6C590.8 462.5 593.6 462.5 596.2 462.6C598.8 462.8 601.4 463.1 603.9 463.7C606.4 464.2 608.9 464.8 611.2 465.6C613.5 466.5 615.7 467.4 617.6 468.5C619.6 469.6 621.4 470.9 622.9 472.2C624.5 473.5 625.8 475 626.9 476.4C628 477.9 628.8 479.5 629.4 481.1C629.9 482.7 630.1 485.2 630.2 486"/>
</g>
<path class="t" d="M630.9 463L630.9 476"/>
<path class="t" d="M605 519.3C603.8 519.4 600.3 519.3 598 519.8C595.7 520.3 593.2 521.3 591 522.5C588.8 523.7 586.5 525.3 585 527C583.5 528.7 582.5 530.6 582.3 532.5C582 534.4 582.4 536.6 583.5 538.5C584.6 540.4 586.6 542.3 589 544C591.4 545.7 595.2 547.5 598 548.5C600.8 549.5 603.3 549.8 606 549.8C608.7 549.8 611.3 549.5 614 548.8C616.7 548.1 619.8 546.7 622 545.5C624.2 544.3 626.1 542.9 627.5 541.5C628.9 540.1 629.8 538 630.3 537.3"/>
<path class="t" d="M630.3 537.3L622 536L621 535.5"/>
<path class="t" d="M621 535.5C620.6 536 619.7 537.5 618.5 538.5C617.3 539.5 615.6 540.7 614 541.5C612.4 542.3 610.8 543 609 543.3C607.2 543.6 604.2 543.6 603 543.5C601.8 543.4 602 542.7 601.5 542.5C601 542.3 600.2 542.3 600 542.3"/>
<path class="t" d="M600 542.3L619 531L613 526.5L594 537.5L592.3 536"/>
<path class="t" d="M592.3 536C592.3 535.5 591.9 534.1 592.3 533C592.7 531.9 593.4 530.6 594.5 529.5C595.6 528.4 597.2 527.2 599 526.5C600.8 525.8 604.4 525.2 605.5 525"/>
<path class="t" d="M605.5 525L605 519.3"/>
<path d="M607 512.6L639 535.4" style="fill:none;stroke:#2a2a2a;stroke-width:3;stroke-dasharray:1.5 0.8"/>
</g>
<g id="p_arm4">
<path class="t" d="M824 699.5C820 698.2 807.3 693.7 800 692C792.7 690.3 786.7 690.2 780 689.5C773.3 688.8 766.7 688.4 760 688C753.3 687.6 746.7 687.2 740 687C733.3 686.8 726.7 686.8 720 687C713.3 687.2 706 687 700 688C694 689 688.7 690.3 684 693C679.3 695.7 675.2 699.5 672 704C668.8 708.5 666.7 714 665 720C663.3 726 662.5 733.3 662 740C661.5 746.7 661.2 754 662 760C662.8 766 664.7 771.9 667 776C669.3 780.1 674.5 783.1 676 784.5"/>
<path class="t" d="M814.2 720C811.5 718.6 803 714.2 797.7 711.8C792.4 709.4 788.9 707.2 782.6 705.8C776.3 704.4 767.1 703.8 760 703.2C752.9 702.6 746.7 702.5 740 702.3C733.3 702.1 726.7 701.7 720 702C713.3 702.3 705.7 702.7 700 704C694.3 705.3 689.7 707.3 686 710C682.3 712.7 679.8 715 678 720C676.2 725 675.3 733.3 675 740C674.7 746.7 674.5 754 676 760C677.5 766 680.7 771.5 684 776C687.3 780.5 694 785.2 696 787"/>
<path class="t" d="M810.5 725.3C807.7 723.9 799.2 719.4 793.9 717C788.6 714.6 784.5 712.3 778.9 711C773.2 709.7 766.5 709.6 760 709.2C753.5 708.8 746.7 708.6 740 708.5C733.3 708.4 725.7 708.3 720 708.6C714.3 708.9 710.3 709.5 706 710.5C701.7 711.5 697.5 712.2 694 714.5C690.5 716.8 687 719.8 685 724C683 728.2 682.3 734 682 740C681.7 746 681.3 754 683 760C684.7 766 688.5 771.4 692 776C695.5 780.6 702 785.6 704 787.5"/>
<path class="t" d="M697 791.3C700 790.5 709.5 788.5 715 786.8C720.5 785 726 783.1 730 780.8C734 778.5 736.7 775.8 739 773C741.3 770.2 743 766.5 743.8 764C744.6 761.5 743.1 759.9 743.8 758C744.5 756.1 746 753.8 748 752.5C750 751.2 752.5 750.5 756 750C759.5 749.5 766.8 749.5 769 749.4"/>
<path class="t" d="M704 787.5C706 788.1 711.7 791.4 716 791C720.3 790.6 725.8 787.3 730 785C734.2 782.7 738.3 779.8 741 777C743.7 774.2 745.1 770.7 746 768C746.9 765.3 745.8 762.9 746.5 761C747.2 759.1 748.2 757.6 750 756.5C751.8 755.4 753.7 754.9 757 754.5C760.3 754.1 767.8 754.1 770 754"/>
<path class="t" d="M660 814C659.8 811.5 658.1 802.8 658.8 798.8C659.5 794.8 661.4 792.2 664 789.8C666.6 787.4 671.3 785.5 674.6 784.5C677.9 783.5 681.1 783.2 683.6 783.8C686.1 784.4 687.4 787 689.6 788.3C691.8 789.5 695.8 790.8 697 791.3"/>
<path class="t" d="M663.5 817C663.2 814.3 661.5 805.1 662 801C662.5 796.9 664.3 794.7 666.5 792.5C668.7 790.3 672.3 788.8 675 788C677.7 787.2 680.3 786.9 682.5 787.5C684.7 788.1 686.6 789.9 688 791.5C689.4 793.1 690.8 794.6 691 797C691.2 799.4 689.3 804.5 689 806"/>
<path class="t" d="M668 819C667.8 816.8 666.7 809.7 667 806C667.3 802.3 668.7 799.2 670 797C671.3 794.8 674.2 793.7 675 793"/>
<path class="t" d="M666 804L671 818"/>
<path class="t" d="M776.6 690C780.1 691.2 790.1 694.4 797.7 697.5C805.4 700.6 818.4 706.9 822.5 708.8"/>
<path class="t" d="M827.7 701.3C826.7 702.2 823.3 704.6 821.7 706.5C820.1 708.4 819.1 710 818 712.5C816.9 715 816.3 718.9 815 721.6C813.7 724.4 811.6 726.9 810 729C808.4 731.1 806 733.5 805.2 734.4"/>
<path class="t" d="M829.5 703C828.5 703.9 824.9 706.4 823.3 708.2C821.6 710 820.7 711.5 819.6 714C818.5 716.5 818 720.2 816.6 723C815.2 725.8 813.2 728.8 811.5 731C809.8 733.2 807.1 735.6 806.2 736.5"/>
<path class="t" d="M831.5 703.5C831.8 704.2 833.4 706.7 833 708C832.6 709.3 829.7 710.9 829 711.5"/>
<path class="t" d="M822.5 710.3C823.2 711 826.1 712.5 827 714.8C827.9 717 828 720.9 827.7 723.8C827.5 726.7 826.8 729.5 825.5 732C824.2 734.5 821.8 737.2 820.2 738.9C818.6 740.5 816.8 742 815.7 741.9C814.6 741.8 814.5 739 813.5 738.5C812.5 738 811.1 738.2 809.7 738.9C808.3 739.6 806 742 805.2 742.6"/>
<path class="t" d="M769 767.5C766.8 767.9 760.2 768.4 756 770C751.8 771.6 747.5 774.3 744 777C740.5 779.7 737.4 782.8 735 786C732.6 789.2 730.6 792.8 729.5 796C728.4 799.2 727.8 802 728.5 805C729.2 808 731.4 811.2 734 814C736.6 816.8 740.3 819.7 744 822C747.7 824.3 752.7 826.7 756 828C759.3 829.3 762.7 829.7 764 830"/>
<path class="t" d="M700 793C701.7 794.2 706.7 797.2 710 800C713.3 802.8 716.7 806.7 720 810C723.3 813.3 726.7 817.3 730 820C733.3 822.7 736.3 824.3 740 826C743.7 827.7 748.3 829.1 752 830C755.7 830.9 760.3 831.2 762 831.5"/>
<path class="t" d="M700 797C701.5 798.2 706 801.2 709 804C712 806.8 714.8 810.2 718 813.5C721.2 816.8 724.5 820.8 728 823.5C731.5 826.2 735.3 827.8 739 829.5C742.7 831.2 746.3 832.5 750 833.5C753.7 834.5 759.2 835.2 761 835.5"/>
<ellipse class="m" cx="712" cy="721.5" rx="10.5" ry="6.2"/>
<path class="t" d="M720.1 719.5C720.1 719.7 720.2 720.2 720.2 720.5C720.2 720.8 720.1 721.2 719.9 721.5C719.8 721.8 719.5 722.1 719.3 722.4C719 722.7 718.7 723 718.3 723.3C717.9 723.5 717.5 723.7 717 723.9C716.5 724.2 716 724.3 715.5 724.5C714.9 724.6 714.4 724.7 713.8 724.8C713.2 724.9 712.6 724.9 712 724.9C711.4 724.9 710.8 724.9 710.2 724.8C709.6 724.7 709.1 724.6 708.5 724.5C708 724.3 707.5 724.2 707 723.9C706.5 723.7 706.1 723.5 705.7 723.3C705.3 723 705 722.7 704.7 722.4C704.5 722.1 704.2 721.8 704.1 721.5C703.9 721.2 703.8 720.8 703.8 720.5C703.8 720.2 703.9 719.7 703.9 719.5"/>
<path class="wf" d="M707.4 713.5L716.6 713.5L716.6 721.5L707.4 721.5Z"/>
<ellipse class="m" cx="712" cy="713.2" rx="4.6" ry="2.6"/>
<path class="m" d="M707.4 713.2L707.4 720.5"/>
<path class="m" d="M716.6 713.2L716.6 720.5"/>
<path class="m" d="M716.6 720.5C716.6 720.6 716.6 720.9 716.5 721C716.4 721.2 716.3 721.4 716.2 721.6C716.1 721.7 715.9 721.9 715.7 722C715.5 722.2 715.3 722.3 715.1 722.4C714.8 722.6 714.6 722.7 714.3 722.8C714 722.8 713.7 722.9 713.4 723C713.1 723 712.8 723.1 712.5 723.1C712.2 723.1 711.8 723.1 711.5 723.1C711.2 723.1 710.9 723 710.6 723C710.3 722.9 710 722.8 709.7 722.8C709.4 722.7 709.2 722.6 708.9 722.4C708.7 722.3 708.5 722.2 708.3 722C708.1 721.9 707.9 721.7 707.8 721.6C707.7 721.4 707.6 721.2 707.5 721C707.4 720.9 707.4 720.6 707.4 720.5"/>
<path class="t" d="M710.2 715.7L710.2 722.6"/>
<path class="t" d="M713.6 715.7L713.6 722.6"/>
<path class="t" d="M710.2 718.5L713.6 719"/>
<ellipse class="m" cx="710" cy="763.5" rx="10.5" ry="6.2"/>
<path class="t" d="M718.1 761.5C718.1 761.7 718.2 762.2 718.2 762.5C718.2 762.8 718.1 763.2 717.9 763.5C717.8 763.8 717.5 764.1 717.3 764.4C717 764.7 716.7 765 716.3 765.3C715.9 765.5 715.5 765.7 715 765.9C714.5 766.2 714 766.3 713.5 766.5C712.9 766.6 712.4 766.7 711.8 766.8C711.2 766.9 710.6 766.9 710 766.9C709.4 766.9 708.8 766.9 708.2 766.8C707.6 766.7 707.1 766.6 706.5 766.5C706 766.3 705.5 766.2 705 765.9C704.5 765.7 704.1 765.5 703.7 765.3C703.3 765 703 764.7 702.7 764.4C702.5 764.1 702.2 763.8 702.1 763.5C701.9 763.2 701.8 762.8 701.8 762.5C701.8 762.2 701.9 761.7 701.9 761.5"/>
<path class="wf" d="M705.4 755.5L714.6 755.5L714.6 763.5L705.4 763.5Z"/>
<ellipse class="m" cx="710" cy="755.2" rx="4.6" ry="2.6"/>
<path class="m" d="M705.4 755.2L705.4 762.5"/>
<path class="m" d="M714.6 755.2L714.6 762.5"/>
<path class="m" d="M714.6 762.5C714.6 762.6 714.6 762.9 714.5 763C714.4 763.2 714.3 763.4 714.2 763.6C714.1 763.7 713.9 763.9 713.7 764C713.5 764.2 713.3 764.3 713.1 764.4C712.8 764.6 712.6 764.7 712.3 764.8C712 764.8 711.7 764.9 711.4 765C711.1 765 710.8 765.1 710.5 765.1C710.2 765.1 709.8 765.1 709.5 765.1C709.2 765.1 708.9 765 708.6 765C708.3 764.9 708 764.8 707.7 764.8C707.4 764.7 707.2 764.6 706.9 764.4C706.7 764.3 706.5 764.2 706.3 764C706.1 763.9 705.9 763.7 705.8 763.6C705.7 763.4 705.6 763.2 705.5 763C705.4 762.9 705.4 762.6 705.4 762.5"/>
<path class="t" d="M708.2 757.7L708.2 764.6"/>
<path class="t" d="M711.6 757.7L711.6 764.6"/>
<path class="t" d="M708.2 760.5L711.6 761"/>
<ellipse class="m" cx="768" cy="729" rx="10.5" ry="6.2"/>
<path class="t" d="M776.1 727C776.1 727.2 776.2 727.7 776.2 728C776.2 728.3 776.1 728.7 775.9 729C775.8 729.3 775.5 729.6 775.3 729.9C775 730.2 774.7 730.5 774.3 730.8C773.9 731 773.5 731.2 773 731.4C772.5 731.7 772 731.8 771.5 732C770.9 732.1 770.4 732.2 769.8 732.3C769.2 732.4 768.6 732.4 768 732.4C767.4 732.4 766.8 732.4 766.2 732.3C765.6 732.2 765.1 732.1 764.5 732C764 731.8 763.5 731.7 763 731.4C762.5 731.2 762.1 731 761.7 730.8C761.3 730.5 761 730.2 760.7 729.9C760.5 729.6 760.2 729.3 760.1 729C759.9 728.7 759.8 728.3 759.8 728C759.8 727.7 759.9 727.2 759.9 727"/>
<path class="wf" d="M763.4 721L772.6 721L772.6 729L763.4 729Z"/>
<ellipse class="m" cx="768" cy="720.7" rx="4.6" ry="2.6"/>
<path class="m" d="M763.4 720.7L763.4 728"/>
<path class="m" d="M772.6 720.7L772.6 728"/>
<path class="m" d="M772.6 728C772.6 728.1 772.6 728.4 772.5 728.5C772.4 728.7 772.3 728.9 772.2 729.1C772.1 729.2 771.9 729.4 771.7 729.5C771.5 729.7 771.3 729.8 771.1 729.9C770.8 730.1 770.6 730.2 770.3 730.3C770 730.3 769.7 730.4 769.4 730.5C769.1 730.5 768.8 730.6 768.5 730.6C768.2 730.6 767.8 730.6 767.5 730.6C767.2 730.6 766.9 730.5 766.6 730.5C766.3 730.4 766 730.3 765.7 730.3C765.4 730.2 765.2 730.1 764.9 729.9C764.7 729.8 764.5 729.7 764.3 729.5C764.1 729.4 763.9 729.2 763.8 729.1C763.7 728.9 763.6 728.7 763.5 728.5C763.4 728.4 763.4 728.1 763.4 728"/>
<path class="t" d="M766.2 723.2L766.2 730.1"/>
<path class="t" d="M769.6 723.2L769.6 730.1"/>
<path class="t" d="M766.2 726L769.6 726.5"/>
<path class="wf" d="M740.5 803C740.2 800.2 740.8 797.5 742 795C743.2 792.5 745.7 790 748 788C750.3 786 753 784.4 756 783C759 781.6 761 780.5 766 779.5C771 778.5 779.3 777.1 786 777C792.7 776.9 800.7 779.4 806 779C811.3 778.6 814.7 774.5 818 774.5C821.3 774.5 823.8 777.1 826 779C828.2 780.9 830.6 782.5 831.5 786C832.4 789.5 832.1 796 831.5 800C830.9 804 830.2 807.2 828 810C825.8 812.8 822.7 814.9 818 817C813.3 819.1 806.3 821.2 800 822.5C793.7 823.8 786 824.8 780 825C774 825.2 768.7 824.8 764 824C759.3 823.2 755.3 822 752 820C748.7 818 745.9 814.8 744 812C742.1 809.2 740.8 805.8 740.5 803Z"/>
<path class="t" d="M756 822C754.7 821.2 750.3 819 748 817C745.7 815 743.2 812.3 742 810C740.8 807.7 740.5 805.5 740.5 803C740.5 800.5 740.8 797.5 742 795C743.2 792.5 745.3 790.1 748 788C750.7 785.9 754.7 783.8 758 782.5C761.3 781.2 766.3 780.4 768 780"/>
<path class="t" d="M826 781C826.7 782 829.2 784.7 830 787C830.8 789.3 830.5 792.5 830.5 795C830.5 797.5 830.6 799.5 830 802C829.4 804.5 827.5 808.7 827 810"/>
<path class="t" d="M826.1 791C826.2 791.5 827 793 827 794C827 795 826.7 796 826.1 797C825.5 797.9 824.6 798.9 823.4 799.8C822.2 800.7 820.8 801.6 819.1 802.3C817.4 803.1 815.4 803.9 813.3 804.6C811.1 805.2 808.7 805.8 806.2 806.3C803.8 806.8 801.1 807.2 798.3 807.5C795.6 807.8 792.7 808 789.8 808.1C787 808.2 784 808.2 781.2 808.1C778.3 808 775.4 807.8 772.7 807.5C769.9 807.2 767.2 806.8 764.8 806.3C762.3 805.8 759.9 805.2 757.7 804.6C755.6 803.9 753.6 803.1 751.9 802.3C750.2 801.6 748.8 800.7 747.6 799.8C746.4 798.9 745.5 797.9 744.9 797C744.3 796 744 795 744 794C744 793 744.8 791.5 744.9 791"/>
<path class="m" d="M752 820C753.3 820.6 757 822.6 760 823.5C763 824.4 766.7 825 770 825.3C773.3 825.6 776.7 825.6 780 825.3C783.3 825 786.7 824.3 790 823.5C793.3 822.7 796.7 821.7 800 820.5C803.3 819.3 806.7 818 810 816.5C813.3 815 817.3 813 820 811.5C822.7 810 825 808.2 826 807.5"/>
<path d="M756 823.5C757.3 823.9 761.3 825.4 764 826C766.7 826.6 769 827.1 772 827.3C775 827.5 778.7 827.6 782 827.3C785.3 827 788.7 826.3 792 825.5C795.3 824.7 798.7 823.7 802 822.5C805.3 821.3 808.7 820.1 812 818.5C815.3 816.9 819.5 814.6 822 813C824.5 811.4 826.2 809.7 827 809" style="fill:none;stroke:#1a1a1a;stroke-width:3.6;stroke-dasharray:1.4 0.7"/>
<path class="t" d="M756 826C757.3 826.5 761.3 828 764 828.7C766.7 829.4 769 829.8 772 830C775 830.2 778.7 830.3 782 830C785.3 829.7 788.7 829.1 792 828.3C795.3 827.5 798.7 826.4 802 825.2C805.3 824 808.7 822.6 812 821C815.3 819.4 819.3 817.2 822 815.5C824.7 813.8 827 811.8 828 811"/>
<path class="t" d="M760 829.5C761.7 829.8 766.3 831.1 770 831.5C773.7 831.9 778.3 832 782 831.7C785.7 831.5 788.7 830.8 792 830C795.3 829.2 798.7 828.2 802 827C805.3 825.8 808.7 824.6 812 823C815.3 821.4 819.2 819.2 822 817.5C824.8 815.8 827.4 813.8 828.5 813"/>
<path class="t" d="M762 830C763.3 830.8 767 833.7 770 835C773 836.3 777.5 837 780 838C782.5 839 784.5 840.2 785 841C785.5 841.8 783.3 842.7 783 843"/>
<path class="t" d="M783 843L764 841.5"/>
<path class="t" d="M764 843.5L780 844.5"/>
<path class="t" d="M765 845L776 852"/>
<path class="t" d="M769 844.5L780 851.5"/>
<path class="t" d="M826.5 811C826.8 812.2 828.1 815.5 828 818C827.9 820.5 826.6 823.8 826 826C825.4 828.2 824.8 830.2 824.5 831"/>
<path class="wf" d="M813.3 782.5C813.1 782.9 813 784.3 812.4 785.1C811.8 785.9 810.8 786.8 809.7 787.5C808.5 788.2 807 789 805.4 789.6C803.7 790.2 801.8 790.7 799.8 791.2C797.8 791.6 795.5 791.9 793.3 792.2C791 792.4 788.6 792.5 786.3 792.5C784 792.5 781.6 792.4 779.3 792.2C777.1 791.9 774.8 791.6 772.8 791.2C770.8 790.7 768.9 790.2 767.2 789.6C765.6 789 764.1 788.2 762.9 787.5C761.8 786.8 760.8 785.9 760.2 785.1C759.6 784.3 759.3 783.4 759.3 782.5C759.3 781.6 759.6 780.7 760.2 779.9C760.8 779.1 761.8 778.2 762.9 777.5C764.1 776.8 765.6 776 767.2 775.4C768.9 774.8 770.8 774.3 772.8 773.8C774.8 773.4 777.1 773.1 779.3 772.8C781.6 772.6 784 772.5 786.3 772.5C788.6 772.5 791 772.6 793.3 772.8C795.5 773.1 797.8 773.4 799.8 773.8C801.8 774.3 803.7 774.8 805.4 775.4C807 776 808.5 776.8 809.7 777.5C810.8 778.2 811.8 779.1 812.4 779.9C813 780.7 813.1 782.1 813.3 782.5C813.5 782.9 813.5 782.1 813.3 782.5Z"/>
<path class="m" d="M810.8 778.3C811.1 778.6 812.2 779.6 812.6 780.3C813 780.9 813.3 781.7 813.3 782.4C813.3 783.1 813.1 783.8 812.8 784.5C812.4 785.1 811.8 785.8 811.1 786.5C810.3 787.1 809.4 787.7 808.3 788.3C807.2 788.9 805.9 789.4 804.5 789.9C803.1 790.4 801.5 790.8 799.9 791.1C798.3 791.5 796.5 791.8 794.7 792C792.9 792.2 791 792.4 789.1 792.4C787.3 792.5 785.3 792.5 783.5 792.4C781.6 792.4 779.7 792.2 777.9 792C776.1 791.8 774.3 791.5 772.7 791.1C771.1 790.8 769.5 790.4 768.1 789.9C766.7 789.4 765.4 788.9 764.3 788.3C763.2 787.7 762.3 787.1 761.5 786.5C760.8 785.8 760.2 785.1 759.8 784.5C759.5 783.8 759.3 783.1 759.3 782.4C759.3 781.7 759.6 780.9 760 780.3C760.4 779.6 761.5 778.6 761.8 778.3"/>
<path class="t" d="M809.9 780C810 780.3 810.4 781.3 810.3 781.9C810.2 782.5 809.9 783.1 809.5 783.7C809 784.3 808.4 784.9 807.6 785.4C806.8 786 805.8 786.5 804.7 787C803.6 787.4 802.3 787.9 800.9 788.2C799.5 788.6 798 788.9 796.4 789.2C794.9 789.5 793.2 789.7 791.5 789.8C789.8 789.9 788 790 786.3 790C784.6 790 782.8 789.9 781.1 789.8C779.4 789.7 777.7 789.5 776.2 789.2C774.6 788.9 773.1 788.6 771.7 788.2C770.3 787.9 769 787.4 767.9 787C766.8 786.5 765.8 786 765 785.4C764.2 784.9 763.6 784.3 763.1 783.7C762.7 783.1 762.4 782.5 762.3 781.9C762.2 781.3 762.6 780.3 762.7 780"/>
<path class="t" d="M807.7 780.2C807.7 780.4 807.8 781.2 807.6 781.8C807.4 782.3 807 782.8 806.5 783.3C805.9 783.8 805.2 784.3 804.3 784.7C803.5 785.2 802.4 785.6 801.3 786C800.2 786.3 798.9 786.7 797.6 786.9C796.2 787.2 794.8 787.4 793.3 787.6C791.8 787.8 790.2 787.9 788.7 788C787.1 788 785.5 788 783.9 788C782.4 787.9 780.8 787.8 779.3 787.6C777.8 787.4 776.4 787.2 775 786.9C773.7 786.7 772.4 786.3 771.3 786C770.2 785.6 769.1 785.2 768.3 784.7C767.4 784.3 766.7 783.8 766.1 783.3C765.6 782.8 765.2 782.3 765 781.8C764.8 781.2 764.9 780.4 764.9 780.2"/>
<path class="t" d="M805.8 780C805.7 780.2 805.7 780.9 805.4 781.3C805.1 781.7 804.7 782.2 804.1 782.6C803.6 783 802.9 783.3 802.1 783.7C801.3 784.1 800.4 784.4 799.3 784.7C798.3 785 797.2 785.2 796 785.5C794.9 785.7 793.6 785.9 792.3 786C791 786.1 789.7 786.2 788.3 786.3C787 786.3 785.6 786.3 784.3 786.3C782.9 786.2 781.6 786.1 780.3 786C779 785.9 777.7 785.7 776.5 785.5C775.4 785.2 774.3 785 773.3 784.7C772.2 784.4 771.3 784.1 770.5 783.7C769.7 783.3 769 783 768.5 782.6C767.9 782.2 767.5 781.7 767.2 781.3C766.9 780.9 766.9 780.2 766.8 780"/>
<path class="wf" d="M769.1 735L770.5 728.5L776 724.2L785 722.8L794 723.8L801 727.5L803.7 734.4L804 750L802.5 757L802.5 762L805 765L806 781L798 784.6L788 785.8L778 784.8L770.5 781L770.6 766L771 757L769.1 752.4Z"/>
<path class="m" d="M769.1 752.4C769.1 749.5 768.9 739 769.1 735C769.3 731 769.4 730.3 770.5 728.5C771.6 726.7 773.6 725.2 776 724.2C778.4 723.2 782 722.9 785 722.8C788 722.7 791.3 723 794 723.8C796.7 724.6 799.4 725.7 801 727.5C802.6 729.3 803.2 733.2 803.7 734.4"/>
<path class="m" d="M803.7 734.4L804 750"/>
<ellipse class="t" cx="784.9" cy="728.3" rx="12" ry="4.6"/>
<path class="t" d="M803.7 734.5C803.6 734.7 803.6 735.4 803.3 735.9C803.1 736.3 802.7 736.7 802.2 737.1C801.7 737.6 801.1 738 800.4 738.3C799.7 738.7 798.9 739 798 739.3C797.1 739.6 796.1 739.9 795 740.1C794 740.4 792.9 740.5 791.7 740.7C790.6 740.8 789.4 740.9 788.2 741C787 741 785.8 741 784.6 741C783.4 740.9 782.2 740.8 781.1 740.7C779.9 740.5 778.8 740.4 777.8 740.1C776.7 739.9 775.7 739.6 774.8 739.3C773.9 739 773.1 738.7 772.4 738.3C771.7 738 771.1 737.6 770.6 737.1C770.1 736.7 769.7 736.3 769.5 735.9C769.2 735.4 769.2 734.7 769.1 734.5"/>
<path class="m" d="M804 750.1C803.9 750.3 804 751 803.8 751.4C803.5 751.9 803.2 752.3 802.7 752.7C802.2 753.1 801.6 753.6 800.9 753.9C800.2 754.3 799.3 754.6 798.4 754.9C797.5 755.2 796.4 755.5 795.3 755.8C794.2 756 793.1 756.2 791.8 756.3C790.6 756.4 789.4 756.5 788.1 756.6C786.8 756.6 785.5 756.6 784.3 756.6C783 756.5 781.8 756.4 780.6 756.2C779.4 756.1 778.2 755.9 777.1 755.6C776.1 755.4 775.1 755.1 774.2 754.8C773.3 754.5 772.4 754.1 771.8 753.7C771.1 753.4 770.5 752.9 770.1 752.5C769.6 752.1 769.3 751.7 769.2 751.2C769 750.8 769.1 750.1 769.1 749.9"/>
<path class="m" d="M771 757L770.8 765"/>
<path class="m" d="M802.5 756L802.5 762"/>
<path class="m" d="M802.6 762.3C802.5 762.5 802.6 763.2 802.4 763.6C802.2 764 801.9 764.5 801.4 764.9C801 765.3 800.4 765.7 799.8 766C799.1 766.4 798.4 766.7 797.5 767C796.7 767.3 795.7 767.6 794.7 767.8C793.7 768 792.6 768.2 791.6 768.3C790.5 768.4 789.3 768.5 788.1 768.6C787 768.6 785.8 768.6 784.7 768.6C783.5 768.5 782.4 768.4 781.3 768.2C780.2 768.1 779.2 767.9 778.2 767.7C777.2 767.4 776.3 767.2 775.5 766.8C774.7 766.5 773.9 766.2 773.3 765.8C772.7 765.5 772 764.8 771.8 764.7"/>
<path class="m" d="M770.6 766L770.5 780"/>
<path class="m" d="M805.5 765L806 780"/>
<path class="m" d="M802.5 762C802.8 762.2 804 763 804.5 763.5C805 764 805.3 764.8 805.5 765"/>
<path class="m" d="M806 779.5C805.9 779.7 805.9 780.3 805.6 780.7C805.4 781.2 805 781.6 804.5 781.9C804 782.3 803.3 782.7 802.6 783C801.9 783.4 801 783.7 800.1 784C799.2 784.2 798.2 784.5 797.1 784.7C796 784.9 794.9 785.1 793.7 785.2C792.5 785.3 791.3 785.4 790.1 785.5C788.8 785.5 787.6 785.5 786.3 785.5C785.1 785.4 783.9 785.3 782.7 785.2C781.5 785.1 780.4 784.9 779.3 784.7C778.2 784.5 777.2 784.2 776.3 784C775.4 783.7 774.5 783.4 773.8 783C773.1 782.7 772.4 782.3 771.9 781.9C771.4 781.6 771 781.2 770.8 780.7C770.5 780.3 770.5 779.7 770.4 779.5"/>
<path class="o" d="M805.4 746C805.9 747.5 806.9 751.5 808.4 755C809.9 758.5 812.5 763.5 814.4 767C816.3 770.5 817.4 773.7 819.7 776C822 778.3 826 778.8 828 780.8C830 782.8 831 785.3 831.7 788C832.5 790.7 832.5 794.2 832.5 797C832.5 799.8 832.2 802.5 831.7 805C831.2 807.5 830.4 808.8 829.5 812C828.6 815.2 827.3 820.8 826.5 824C825.7 827.2 824.9 829.8 824.6 831"/>
</g>
<g id="p_knuckle">
<path class="o" d="M1032.3 474C1033.2 472.5 1035.5 467 1037.6 465C1039.7 463 1042 462.1 1045 462C1048 461.9 1052.1 464.6 1055.6 464.3C1059.1 464.1 1062.7 461.5 1066.2 460.5C1069.7 459.5 1073.5 458.3 1076.7 458.3C1080 458.3 1082.7 458.9 1085.7 460.5C1088.7 462.1 1091.9 465 1094.7 468C1097.5 471 1100.2 475.1 1102.3 478.6C1104.4 482.1 1106.4 485.5 1107.5 489C1108.6 492.5 1108.6 496.1 1109 499.6C1109.4 503.1 1108.9 506.5 1109.8 510C1110.7 513.5 1112.3 517.2 1114.3 520.7C1116.3 524.2 1119 528 1121.8 531.2C1124.5 534.5 1128 537.2 1130.8 540.2C1133.5 543.2 1136.5 546.2 1138.3 549.2C1140.1 552.2 1141.2 555 1141.4 558.3C1141.7 561.6 1139.3 566 1139.8 568.8C1140.3 571.5 1142.1 571.5 1144.4 574.8C1146.7 578 1149.9 583.8 1153.4 588.3C1156.9 592.8 1160.9 596.7 1165.4 601.9C1169.9 607.1 1175.2 613.5 1180.5 619.5C1185.8 625.5 1191.1 631.2 1197 638C1202.9 644.8 1208.8 651.8 1216 660C1223.2 668.2 1233 678.7 1240 687C1247 695.3 1252.9 702.8 1258.2 709.6C1263.5 716.4 1269.5 724.7 1271.7 727.7"/>
<path class="o" d="M1271.7 727.7C1272.5 727.3 1274.2 726.1 1276.2 725.4C1278.2 724.6 1281.8 725.3 1283.8 723.2C1285.8 721.1 1287.2 716.9 1288.3 712.6C1289.4 708.3 1290.1 702.1 1290.5 697.6C1290.9 693.1 1289.9 689.4 1290.5 685.6C1291.1 681.8 1291.9 678.3 1294.3 675C1296.7 671.7 1300.5 668.2 1304.8 666C1309 663.8 1314.3 662.4 1319.8 661.5C1325.3 660.6 1331.6 660.4 1337.9 660.8C1344.2 661.2 1351.4 661.9 1357.4 663.8C1363.4 665.7 1369.8 668.9 1374 672C1378.2 675.1 1380.7 679.1 1382.3 682.6C1383.9 686.1 1382.5 690.8 1383.8 693C1385 695.2 1387.9 694.5 1389.8 696C1391.7 697.5 1393.9 699.5 1395 702C1396.1 704.5 1396.8 708 1396.5 711C1396.2 714 1395.2 717.2 1393.5 720C1391.8 722.8 1388.5 725.9 1386 727.7C1383.5 729.5 1380 729.5 1378.5 730.7C1377 731.9 1378.5 733.3 1377 735C1375.5 736.7 1372.2 739.5 1369.5 741C1366.8 742.5 1362.8 742 1360.5 744C1358.2 746 1357.8 749.7 1356 753C1354.2 756.3 1351.1 760.2 1350 763.8C1348.9 767.3 1350.2 771 1349.2 774.3C1348.2 777.5 1346 781 1343.9 783.3C1341.8 785.5 1338.4 786.3 1336.4 787.8C1334.4 789.3 1333 790.8 1331.9 792.3C1330.8 793.8 1329.5 794.5 1330 796.5C1330.5 798.5 1333.5 801.8 1334.9 804.4C1336.3 807 1337.8 809.1 1338.6 811.9C1339.3 814.6 1339.8 817.9 1339.4 820.9C1339 823.9 1338.2 827.4 1336.4 829.9C1334.7 832.4 1331.7 834.5 1328.9 835.9C1326.1 837.3 1322.6 838.1 1319.8 838.2C1317 838.3 1313.5 836.8 1312.3 836.5"/>
<path class="o" d="M1312.3 836.5L1294 870.2"/>
<path class="o" d="M1294 870.2C1294.8 871.2 1297.5 873.7 1298.5 876.2C1299.5 878.7 1300.5 881.8 1300 885.3C1299.5 888.8 1297.8 894.3 1295.5 897.3C1293.2 900.3 1289.2 901.3 1286.5 903.3C1283.8 905.3 1280.5 905.8 1279 909.3C1277.5 912.8 1278.4 918.4 1277.4 924.4C1276.4 930.4 1275 939.4 1273 945.4C1271 951.4 1267.4 956.7 1265.4 960.5C1263.4 964.3 1263.2 964.6 1261 968C1258.8 971.4 1255.5 976.4 1252 981C1248.5 985.6 1242.9 992.4 1240 995.6C1237.1 998.8 1237.5 997.5 1234.6 1000C1231.7 1002.5 1225.9 1007.4 1222.6 1010.7C1219.3 1014 1217 1016.5 1215 1019.7C1213 1023 1212.5 1027.2 1210.5 1030.2C1208.5 1033.2 1205.2 1035.9 1203 1037.7C1200.8 1039.5 1198.8 1038.5 1197 1040.8C1195.2 1043.1 1194.5 1048.5 1192.5 1051.3C1190.5 1054 1187.8 1056.2 1185 1057.3C1182.2 1058.4 1178.5 1058.5 1176 1058C1173.5 1057.5 1172.3 1054.4 1170 1054.3C1167.7 1054.2 1165.7 1055.9 1162.4 1057.3C1159.1 1058.7 1154.2 1060.8 1150.4 1062.6C1146.6 1064.3 1143.1 1066.2 1139.8 1067.8C1136.5 1069.4 1134 1071.7 1130.8 1072.3C1127.5 1072.9 1123.5 1072.3 1120.3 1071.6C1117 1070.8 1113.8 1068.9 1111.3 1067.8C1108.8 1066.7 1106.3 1065.3 1105.3 1064.8"/>
<path class="o" d="M1105.3 1064.8C1105.7 1065.5 1107.1 1067 1107.5 1069.3C1107.9 1071.5 1108.1 1075 1107.5 1078.3C1106.9 1081.6 1105.7 1085.9 1103.8 1088.9C1101.9 1091.9 1099 1094.7 1096.2 1096.4C1093.4 1098.2 1090.2 1099.4 1087.2 1099.4C1084.2 1099.4 1080.5 1097.6 1078.2 1096.4C1076 1095.2 1074.7 1093.2 1073.7 1092C1072.7 1090.8 1072.3 1089.4 1072 1088.9"/>
<path class="o" d="M1072 1088.9C1071.3 1090.2 1069.7 1093.7 1067.7 1096.4C1065.7 1099.2 1063 1102.8 1060 1105.4C1057 1108 1053.3 1110.6 1049.6 1112.2C1045.9 1113.8 1041.6 1115.1 1037.6 1115.2C1033.6 1115.3 1029.4 1114.6 1025.6 1113C1021.8 1111.4 1018 1108.2 1015 1105.4C1012 1102.6 1009.2 1099.9 1007.5 1096.4C1005.8 1092.9 1004.6 1088.7 1004.5 1084.4C1004.4 1080.1 1005.3 1075.6 1006.8 1070.8C1008.3 1066 1010.9 1060 1013.5 1055.8C1016.1 1051.5 1019.4 1048.1 1022.6 1045.3C1025.8 1042.5 1029.5 1040.7 1033 1039.2C1036.5 1037.7 1040.6 1037.5 1043.6 1036.2C1046.6 1035 1049 1033.7 1051 1031.7C1053 1029.7 1054.8 1025.5 1055.6 1024.2"/>
<path class="o" d="M1055.6 1024.2C1055.1 1022 1053.6 1016 1052.6 1010.7C1051.6 1005.4 1050.9 1000.6 1049.6 992.6C1048.3 984.6 1046.3 971.4 1045 962.6C1043.7 953.8 1042.6 947 1042 940C1041.4 933 1041.7 931.2 1041.4 920.4C1041.1 909.6 1040.4 890.4 1040.3 875.3C1040.2 860.2 1040.5 840.8 1040.6 830C1040.6 819.2 1040.6 813.8 1040.6 810.6"/>
<path class="o" d="M1040.6 810.6C1039.1 809.6 1034.1 807.4 1031.6 804.6C1029.1 801.8 1026.7 797.8 1025.6 794C1024.5 790.2 1024.2 786 1024.8 782C1025.4 778 1027.4 774.3 1029.3 770C1031.2 765.7 1033.4 760.2 1036 756.4C1038.6 752.6 1041.8 749.9 1045 747.4C1048.2 744.9 1053.2 742.4 1054.9 741.4"/>
<path class="o" d="M1054.9 741.4C1055.2 739.9 1055.9 736.8 1057 732.3C1058.1 727.8 1060.2 720.3 1061.7 714.3C1063.2 708.3 1064.8 702 1066.2 696.2C1067.6 690.4 1069.4 682.5 1070 679.7"/>
<path class="o" d="M1070 679.7C1069.6 679 1070.1 677.2 1067.7 675.2C1065.3 673.2 1059.6 670.7 1055.6 667.7C1051.6 664.7 1046.9 661 1043.6 657C1040.3 653 1037.8 648.1 1036 643.6C1034.2 639.1 1033.5 634.8 1033 630C1032.5 625.2 1032.3 619 1032.8 615C1033.3 611 1034 608.4 1036 606C1038 603.6 1041.7 602.3 1045 600.4C1048.3 598.5 1053.3 596.4 1055.6 594.4C1057.9 592.4 1058.3 590.8 1058.6 588.3C1058.8 585.8 1057.8 583.3 1057.1 579.3C1056.3 575.3 1055 568.8 1054.1 564.3C1053.2 559.8 1052.3 554.3 1051.9 552.3"/>
<path class="o" d="M1051.9 552.3C1051 551.9 1048.1 551.3 1046.6 550C1045.1 548.7 1043.4 546.5 1042.9 544.7C1042.4 543 1044.5 541.2 1043.6 539.5C1042.7 537.8 1039.9 536.6 1037.6 534.2C1035.3 531.8 1032.3 529 1030 525.2C1027.7 521.5 1025.4 516.2 1024 511.7C1022.6 507.2 1021.8 502.5 1021.8 498C1021.8 493.5 1022.2 488.6 1024 484.6C1025.8 480.6 1030.9 475.8 1032.3 474"/>
</g>
<g id="p_knuckle2">
<path class="t" d="M1032.3 474C1033.6 474.1 1037.1 473.6 1040 474.5C1042.9 475.4 1046.3 476.6 1049.6 479.3C1052.9 482 1057.1 486.2 1060 490.6C1062.9 495 1065.6 500.6 1067 505.6C1068.4 510.6 1068.8 515.9 1068.4 520.7C1068 525.5 1066.6 530.5 1064.7 534.2C1062.8 538 1059.3 541 1057 543.2C1054.7 545.5 1052 547 1051 547.7"/>
<path class="t" d="M1039 473.5C1041.5 474.3 1049.7 475.6 1054 478.5C1058.3 481.4 1062 486.4 1064.7 491C1067.5 495.6 1069.5 500.8 1070.5 506C1071.5 511.2 1071.6 516.8 1071 522C1070.4 527.2 1068.9 533 1067 537C1065.1 541 1060.8 544.5 1059.5 546"/>
<ellipse class="t" cx="1045" cy="509.4" rx="15.3" ry="9.9" transform="rotate(68 1045 509.4)"/>
<path class="t" d="M1041.9 519.5C1041.6 519.1 1040.7 518 1040.2 517.3C1039.7 516.5 1039.2 515.6 1038.8 514.7C1038.4 513.8 1038 512.9 1037.7 512C1037.4 511 1037.1 510.1 1037 509.2C1036.8 508.2 1036.7 507.3 1036.7 506.4C1036.6 505.5 1036.7 504.6 1036.8 503.8C1036.9 503 1037.1 502.2 1037.3 501.5C1037.6 500.8 1037.9 500.1 1038.2 499.5C1038.6 499 1039 498.5 1039.5 498.1C1040 497.7 1040.5 497.4 1041.1 497.2C1041.7 497 1042.3 496.8 1042.9 496.8C1043.5 496.8 1044.2 496.9 1044.9 497.1C1045.5 497.3 1046.2 497.6 1046.9 497.9C1047.5 498.3 1048.2 498.8 1048.9 499.3C1049.5 499.9 1050.1 500.5 1050.7 501.2C1051.3 501.9 1051.9 502.7 1052.4 503.5C1052.9 504.3 1053.4 505.1 1053.8 506C1054.2 506.9 1054.5 507.9 1054.8 508.8C1055.1 509.7 1055.4 511.1 1055.5 511.6"/>
<path class="t" d="M1033.8 476.3L1051.9 468.8"/>
<path class="t" d="M1049.6 479.3L1079.7 462.8"/>
<path class="t" d="M1054 480.8L1084 464.3"/>
<path class="t" d="M1072.9 511.6C1073 508.9 1072.8 499.6 1073.7 495.1C1074.6 490.6 1076.2 486.9 1078.2 484.6C1080.2 482.4 1082.7 481.2 1085.7 481.6C1088.7 482 1092.9 483.8 1096.2 486.8C1099.5 489.8 1103.8 497.5 1105.3 499.6"/>
<path class="t" d="M1077.4 510C1077.5 507.5 1077.6 498.9 1078.2 495C1078.8 491.1 1079.8 488.6 1081.2 486.8C1082.6 485.1 1084.4 484.3 1086.5 484.5C1088.6 484.7 1091.6 486.1 1094 488C1096.4 489.9 1099.8 494.7 1101 496"/>
<path class="t" d="M1083.5 520.7C1083.4 518.9 1082.1 513.8 1082.7 510C1083.3 506.2 1085.2 500.9 1087.2 498C1089.2 495.1 1092.2 493.4 1094.7 492.9C1097.2 492.4 1100.5 493.1 1102.3 495C1104.1 496.9 1105 501.5 1105.3 504C1105.5 506.5 1104 509 1103.8 510"/>
<path class="t" d="M1103.8 510L1086.5 520.7L1083.5 520.7"/>
<path class="t" d="M1086.5 516C1086.6 514.3 1086.2 508.8 1087 506C1087.8 503.2 1089.3 500.8 1091 499C1092.7 497.2 1096 496.1 1097 495.5"/>
<path class="t" d="M1083.5 523.7L1108.3 511.7"/>
<path class="t" d="M1085 526.5L1110 514.5"/>
<path class="t" d="M1072.2 513L1081.2 511.7L1082 520.7L1078.2 528.2"/>
<path class="t" d="M1077.4 510L1077.6 512.3"/>
<path class="t" d="M1078.2 528.2C1079.2 530.2 1081.2 535.7 1084.2 540.2C1087.2 544.7 1092.2 551.3 1096.2 555.3C1100.2 559.3 1105.3 561.8 1108.3 564.3C1111.3 566.8 1113.3 569.3 1114.3 570.3"/>
<path class="t" d="M1082 523.7C1083.4 526 1086.8 533 1090.2 537.2C1093.6 541.5 1098.5 545.7 1102.3 549.2C1106.1 552.7 1110.5 555.8 1112.8 558.3C1115 560.8 1115.3 563.3 1115.8 564.3"/>
<path class="t" d="M1051.9 552.3C1053.2 552.8 1057.6 553.3 1060 555.3C1062.4 557.3 1063.2 561.5 1066.2 564.3C1069.2 567 1074.2 569.3 1078.2 571.8C1082.2 574.3 1086.2 576.5 1090.2 579.3C1094.2 582 1099.3 584.8 1102.3 588.3C1105.3 591.8 1107.3 598.4 1108.3 600.4"/>
<path class="t" d="M1055.6 546.2C1056.9 547.5 1060.7 550.8 1063.2 553.8C1065.7 556.8 1067.2 560.8 1070.7 564.3C1074.2 567.8 1080 571.5 1084.2 574.8C1088.5 578 1092.9 581 1096.2 583.8C1099.5 586.6 1102.3 588.4 1103.8 591.4C1105.3 594.4 1105 600.1 1105.3 601.9"/>
<path class="t" d="M1057 543.2C1058.2 542.2 1062 539.2 1064 537C1066 534.8 1067.8 532.5 1069 530C1070.2 527.5 1070.7 523.3 1071 522"/>
<path class="t" d="M1102.3 549.2L1126.3 538.7"/>
<path class="t" d="M1055.6 546.2L1061 541"/>
<path class="t" d="M1063.2 553.8L1070 548"/>
<path class="t" d="M1115 575C1115.1 571.2 1115.2 556.7 1115.8 552.3C1116.4 547.9 1116 549 1118.8 548.5C1121.5 548 1128.9 548.1 1132.3 549.2C1135.7 550.3 1137.7 551.8 1139.1 555.3C1140.5 558.8 1140.7 564.8 1140.6 570.3C1140.5 575.8 1139.4 584.5 1138.3 588.3C1137.2 592.1 1136.2 591.9 1133.8 592.9C1131.4 593.9 1125.6 594.1 1124 594.4"/>
<path class="t" d="M1122.6 590C1122.5 584 1120.6 559.9 1121.8 554C1123 548.1 1127.8 553.5 1130 554.5C1132.2 555.5 1134.2 557.1 1135.3 560C1136.4 562.9 1136.8 567.8 1136.8 572C1136.8 576.2 1136 582.1 1135 585C1134 587.9 1131.7 588.8 1131 589.5"/>
<path class="t" d="M1115 575C1114.6 576.7 1113.5 581.8 1112.5 585C1111.5 588.2 1110.2 591.3 1109 594C1107.8 596.7 1106.1 599.8 1105.5 601"/>
<path class="t" d="M1118.5 552C1118.5 556.7 1118.9 573.3 1118.5 580C1118.1 586.7 1117.1 588.7 1116 592C1114.9 595.3 1112.7 598.7 1112 600"/>
<path class="t" d="M1118.5 581.6L1136 581.6"/>
<path class="t" d="M1118.5 583.6L1135.5 583.6"/>
<path class="t" d="M1103.8 601.9C1105.5 602.1 1111.5 603.6 1114.3 603.4C1117 603.1 1117.3 601.9 1120.3 600.4C1123.3 598.9 1128 596.2 1132.3 594.4C1136.6 592.6 1143.7 590.3 1146 589.5"/>
<path class="t" d="M1120.3 615.4C1120.5 613.9 1120.5 608.9 1121.8 606.4C1123 603.9 1124.5 602.4 1127.8 600.4C1131.1 598.4 1137.4 594.1 1141.4 594.4C1145.4 594.6 1147.9 598.4 1151.9 601.9C1155.9 605.4 1163.2 613.1 1165.4 615.4"/>
<path class="t" d="M1124 615C1124.2 613.8 1124.5 609.9 1125.5 608C1126.5 606.1 1127.6 604.9 1130 603.5C1132.4 602.1 1138.3 600.2 1140 599.5"/>
<path class="t" d="M1122 612L1150 597.5"/>
<ellipse class="t" cx="1057" cy="633.8" rx="15" ry="9.5" transform="rotate(72 1057 633.8)"/>
<path class="t" d="M1053.2 643.4C1053 643 1052.2 641.9 1051.7 641.1C1051.3 640.3 1050.8 639.4 1050.5 638.5C1050.1 637.6 1049.8 636.7 1049.6 635.7C1049.4 634.8 1049.2 633.8 1049.1 632.9C1049 632 1048.9 631.1 1049 630.2C1049 629.3 1049.1 628.4 1049.2 627.6C1049.4 626.8 1049.6 626.1 1049.9 625.4C1050.2 624.7 1050.5 624.1 1050.9 623.6C1051.3 623 1051.8 622.6 1052.3 622.2C1052.8 621.9 1053.3 621.6 1053.9 621.4C1054.4 621.3 1055.1 621.2 1055.7 621.2C1056.3 621.3 1056.9 621.4 1057.6 621.6C1058.2 621.9 1058.8 622.2 1059.5 622.6C1060.1 623 1060.7 623.5 1061.3 624.1C1061.9 624.7 1062.5 625.3 1063 626.1C1063.5 626.8 1064 627.6 1064.5 628.4C1064.9 629.3 1065.3 630.1 1065.7 631C1066 631.9 1066.3 632.9 1066.5 633.8C1066.7 634.8 1066.9 636.2 1067 636.6"/>
<path class="t" d="M1060 594C1062.5 596 1072.5 602.5 1075 606C1077.5 609.5 1074.4 612.2 1075.2 615C1076 617.8 1079.4 618.4 1079.7 622.6C1080 626.8 1078.1 633.8 1077 640C1075.9 646.2 1074.2 653.7 1073 660C1071.8 666.3 1070.5 675 1070 678"/>
<path class="t" d="M1085 600C1084.9 603.2 1085.2 612 1084.2 619.5C1083.2 627 1080.8 636.9 1079 645C1077.2 653.1 1074.9 661.8 1073.5 668C1072.1 674.2 1071 679.7 1070.5 682"/>
<path class="t" d="M1058 592.5L1075 597.5L1081.5 600"/>
<path class="t" d="M1075.2 615L1078.5 611L1080 618L1077 622"/>
<path class="t" d="M1102.3 600C1103.3 605 1106.3 617.5 1108.3 630C1110.3 642.5 1112.5 660.2 1114.3 675.2C1116 690.2 1117.8 710.3 1118.8 720.3C1119.8 730.3 1119.9 730 1120.3 735.3C1120.7 740.6 1120.9 749.2 1121 752"/>
<path class="t" d="M1109 600C1110.1 607.5 1113.9 630 1115.8 645C1117.7 660 1119.2 675 1120.3 690C1121.4 705 1122.1 719 1122.6 735.3C1123.1 751.6 1123.2 779.2 1123.3 788"/>
<path class="t" d="M1118.8 609C1120.3 615 1124.5 631.5 1127.8 645C1131 658.5 1135.3 675 1138.3 690C1141.3 705 1144 722.7 1145.9 735.3C1147.8 747.9 1148.8 756.6 1149.6 765.4C1150.3 774.2 1150.3 784.2 1150.4 788"/>
<path class="t" d="M1121.8 615C1123.3 620 1127.5 632.5 1130.8 645C1134.1 657.5 1138.5 676.2 1141.4 690C1144.3 703.8 1146.6 717.7 1148.1 727.8C1149.6 737.9 1150 746.6 1150.4 750.4"/>
<path class="t" d="M1135.3 612C1140.3 620 1156.6 645.7 1165.4 660C1174.2 674.3 1182.2 688.2 1188 697.7C1193.8 707.2 1198 714 1200 717.3"/>
<path class="t" d="M1155.6 622.6C1161 630.9 1178.8 657.9 1188 672.2C1197.2 686.5 1204.7 699 1210.5 708.3C1216.3 717.6 1220.6 724.5 1222.6 727.8"/>
<path class="t" d="M1151.9 604.5C1156.7 611.2 1170.7 630.7 1180.5 645C1190.3 659.3 1203 678.2 1210.5 690.2C1218 702.2 1221.8 709.8 1225.6 717.3C1229.3 724.8 1231 729.8 1233 735.3C1235 740.8 1236.8 747.9 1237.6 750.4"/>
<path class="t" d="M1165.4 601.9C1169.8 607.6 1183.2 624.6 1192 636C1200.8 647.4 1210.3 659.3 1218 670C1225.7 680.7 1232.3 691 1238 700C1243.7 709 1248.3 717 1252 724C1255.7 731 1257.7 735.7 1260 742C1262.3 748.3 1265 758.7 1266 762"/>
<path class="t" d="M1177.4 702.3C1175.7 702.2 1170 700.5 1167 701.5C1164 702.5 1161.2 705.2 1159.4 708.3C1157.6 711.4 1157 717.3 1156.4 720.3C1155.8 723.2 1155.8 724 1155.8 726C1155.8 728 1155.5 729.2 1156.4 732.3C1157.3 735.4 1158.7 740.6 1161 744.4C1163.3 748.2 1166.8 752.6 1170 755C1173.2 757.4 1178.8 758 1180.5 758.6"/>
<path class="t" d="M1171.4 705.3C1170.3 705.8 1166.3 706.3 1164.7 708.3C1163.1 710.3 1162.3 714.9 1161.7 717.3C1161.1 719.7 1161 720.8 1161 722.5C1161 724.2 1161 724.9 1161.7 727.8C1162.4 730.7 1163.5 736 1165.4 739.8C1167.3 743.6 1170.4 747.9 1172.9 750.4C1175.4 752.9 1179.2 754.1 1180.5 754.9"/>
<path class="t" d="M1177.4 702.3L1209 729.6"/>
<path class="t" d="M1180.5 758.6L1196.5 762.6"/>
<ellipse class="t" cx="1204" cy="746" rx="17.5" ry="11.4" transform="rotate(-60 1204 746)"/>
<ellipse class="t" cx="1204.6" cy="746.6" rx="9.3" ry="6.3" transform="rotate(-60 1204.6 746.6)"/>
<ellipse class="t" cx="1204.8" cy="746.8" rx="7" ry="4.6" transform="rotate(-60 1204.8 746.8)"/>
<path class="t" d="M1151.9 746.6L1165.4 740.6"/>
<ellipse class="t" cx="1071" cy="785.3" rx="35.6" ry="23" transform="rotate(-60 1071 785.3)"/>
<path class="t" d="M1096.5 780.6C1096.2 781.7 1095.5 785 1094.8 787.2C1094 789.4 1093.1 791.6 1092.1 793.7C1091 795.8 1089.8 797.9 1088.4 799.9C1087.1 801.8 1085.6 803.7 1084.1 805.4C1082.5 807.1 1080.9 808.6 1079.2 810C1077.5 811.4 1075.7 812.6 1074 813.5C1072.2 814.5 1070.4 815.3 1068.7 815.8C1066.9 816.3 1065.2 816.6 1063.5 816.7C1061.9 816.8 1060.3 816.6 1058.8 816.2C1057.3 815.8 1055.9 815.1 1054.6 814.3C1053.4 813.4 1052.3 812.4 1051.3 811.1C1050.4 809.8 1049.6 808.4 1048.9 806.8C1048.3 805.1 1047.9 803.3 1047.6 801.5C1047.4 799.6 1047.3 797.5 1047.4 795.4C1047.6 793.4 1047.9 791.2 1048.4 789C1048.9 786.8 1049.6 784.6 1050.4 782.4C1051.3 780.2 1052.3 778.1 1053.4 776C1054.6 773.9 1055.9 771.9 1057.3 770C1058.7 768.1 1060.3 766.4 1061.9 764.8C1063.5 763.2 1065.2 761.7 1066.9 760.5C1068.7 759.3 1070.4 758.2 1072.2 757.4C1074 756.5 1076.6 755.9 1077.5 755.6"/>
<ellipse class="t" cx="1071.7" cy="786" rx="18.6" ry="11.5" transform="rotate(-60 1071.7 786)"/>
<path class="t" d="M1060.8 789.6C1060.9 789.1 1061.3 787.4 1061.7 786.3C1062 785.2 1062.5 784.1 1063 783C1063.6 782 1064.2 780.9 1064.9 779.9C1065.5 778.9 1066.3 777.9 1067 777.1C1067.8 776.2 1068.6 775.4 1069.5 774.6C1070.3 773.9 1071.2 773.3 1072 772.8C1072.9 772.2 1073.8 771.8 1074.6 771.5C1075.5 771.2 1076.3 771 1077.1 770.9C1077.9 770.8 1078.7 770.9 1079.4 771C1080.2 771.2 1080.9 771.4 1081.5 771.8C1082.1 772.2 1082.6 772.7 1083.1 773.3C1083.5 773.8 1083.9 774.5 1084.2 775.3C1084.5 776.1 1084.8 776.9 1084.9 777.9C1085 778.8 1085.1 779.8 1085 780.8C1084.9 781.8 1084.8 782.9 1084.6 784C1084.3 785.1 1084 786.2 1083.6 787.3C1083.2 788.4 1082.7 789.5 1082.1 790.6C1081.6 791.7 1080.9 792.7 1080.3 793.7C1079.6 794.7 1078.4 796 1078.1 796.5"/>
<path class="t" d="M1055.3 740.6C1056.9 740.8 1062 741.1 1065 741.8C1068 742.5 1070.5 743.2 1073.2 744.6C1075.9 746 1079.2 748.7 1081.3 750.3C1083.4 751.9 1085.2 753.4 1086 754"/>
<path class="t" d="M1041 810C1041.7 809.8 1044 809.3 1045 809C1046 808.7 1046.7 808.2 1047 808"/>
<path class="t" d="M1075.2 742.9L1096.2 736.8L1102.3 730.8L1108.3 730.8L1114.3 735.3L1120.3 735.3"/>
<path class="t" d="M1084.2 748.9L1114.3 741.4"/>
<path class="t" d="M1096.2 736.8L1105.3 738.3L1114.3 735.3"/>
<path class="t" d="M1114.3 741.4L1120.3 745"/>
<path class="t" d="M1105.3 738.3L1108.3 744"/>
<path class="t" d="M1093.2 756.4C1094.3 757.7 1097.5 761.7 1100 764C1102.5 766.3 1106.7 769 1108 770"/>
<path class="t" d="M1108.3 752L1099 775L1118 780"/>
<path class="t" d="M1087.8 800.7C1088.9 800.3 1092.3 797.9 1094.3 798.3C1096.3 798.7 1099.3 800.4 1100 803.2C1100.7 806.1 1099.8 812 1098.4 815.4C1097.1 818.8 1094.2 821.9 1091.9 823.5C1089.6 825.1 1087.4 825.7 1084.6 825C1081.8 824.3 1077.1 820.9 1074.8 819.4C1072.5 817.9 1071.4 816.7 1070.7 816.2"/>
<path class="t" d="M1087.8 800.7L1083 821.8"/>
<path class="t" d="M1085.4 809.7L1096 813"/>
<path class="t" d="M1073.2 815.4L1083 820.2"/>
<path class="t" d="M1078 811C1078.7 811.8 1081.2 814.2 1082 816C1082.8 817.8 1082.8 820.8 1083 821.8"/>
<path class="t" d="M1097.5 772C1098 773.2 1100.2 776.5 1100.5 779C1100.8 781.5 1099.8 784.8 1099 787C1098.2 789.2 1097.2 790.7 1096 792C1094.8 793.3 1092.7 794.5 1092 795"/>
</g>
<g id="p_knuckle3">
<ellipse class="t" cx="1193" cy="891.7" rx="98.3" ry="58.1" transform="rotate(-58.4 1193 891.7)" style="stroke-width:1.6"/>
<path class="t" d="M1173.8 978C1171.5 978.3 1164.6 979.6 1160.3 979.4C1156.1 979.2 1152 978.4 1148.3 976.9C1144.6 975.5 1141.2 973.4 1138.2 970.7C1135.3 968.1 1132.7 964.8 1130.6 961.1C1128.5 957.4 1126.9 953.1 1125.7 948.5C1124.6 943.9 1124 938.7 1123.8 933.4C1123.7 928 1124.1 922.3 1125 916.5C1125.9 910.6 1127.3 904.5 1129.1 898.5C1131 892.4 1133.3 886.2 1136.1 880.2C1138.8 874.2 1142.1 868.1 1145.6 862.4C1149.1 856.7 1153 851.1 1157.1 846C1161.3 840.8 1165.7 835.9 1170.3 831.5C1174.9 827.2 1179.7 823.1 1184.5 819.7C1189.3 816.3 1194.3 813.4 1199.1 811.1C1203.9 808.8 1211 806.8 1213.4 806"/>
<path class="t" d="M1151.4 839.3C1153.9 836.9 1161.4 829.1 1166.6 824.8C1171.9 820.4 1177.5 816.6 1183.1 813.4C1188.6 810.3 1194.3 807.7 1199.9 805.8C1205.4 804 1211.1 802.8 1216.4 802.3C1221.7 801.8 1227 802.1 1231.8 803C1236.7 804 1241.4 805.6 1245.5 807.9C1249.7 810.2 1253.5 813.3 1256.8 816.8C1260.1 820.4 1263 824.7 1265.3 829.3C1267.5 834 1269.3 839.3 1270.4 844.8C1271.6 850.4 1272.1 856.5 1272.1 862.7C1272.1 868.9 1271.4 875.5 1270.2 882C1269 888.6 1267.2 895.4 1264.9 902C1262.6 908.7 1259.6 915.4 1256.3 921.8C1253 928.3 1249 934.6 1244.8 940.5C1240.6 946.4 1235.9 952.1 1231.1 957.3C1226.2 962.4 1220.9 967.2 1215.5 971.3C1210.2 975.4 1204.6 979.1 1199 982C1193.4 984.9 1187.7 987.3 1182.1 988.9C1176.6 990.5 1171 991.4 1165.8 991.7C1160.5 991.9 1155.3 991.4 1150.6 990.2C1145.9 989 1141.3 987.1 1137.3 984.6C1133.3 982 1129.6 978.8 1126.5 975C1123.3 971.2 1120.7 966.8 1118.6 961.9C1116.5 957.1 1115 951.7 1114 946C1113.1 940.3 1112.7 934.1 1113 927.8C1113.2 921.5 1114 914.9 1115.5 908.3C1116.9 901.7 1118.9 894.8 1121.4 888.2C1123.9 881.6 1129 871.8 1130.5 868.5"/>
<path class="t" d="M1224.8 805.6C1225.6 810.1 1228.5 823.9 1229.6 832.8C1230.7 841.7 1232 850.4 1231.4 859.2C1230.8 868 1228.6 877.1 1226 885.6C1223.4 894.1 1220 902.7 1215.6 910.3C1211.2 917.9 1205.9 924.9 1199.7 931.4C1193.5 937.9 1186.2 944.3 1178.6 949C1171 953.7 1161.9 957 1154 959.6C1146.1 962.2 1134.8 964 1131 964.9"/>
<path class="t" d="M1233 822C1233.3 825 1234.4 833.8 1234.6 840C1234.8 846.2 1235 851.8 1234 859.5C1233 867.2 1231.2 877.8 1228.5 886.5C1225.8 895.2 1222.4 903.8 1218 911.5C1213.6 919.2 1208.2 926.4 1202 933C1195.8 939.6 1188.2 946.2 1180.5 951C1172.8 955.8 1163.1 959.2 1155.5 962C1147.9 964.8 1138.4 966.6 1135 967.5"/>
<path class="t" d="M1220 807.3C1220.4 810.1 1222 818.3 1222.6 824C1223.2 829.7 1223.8 835.7 1223.5 841.6C1223.2 847.5 1222.4 853 1220.8 859.2C1219.2 865.4 1216.7 871.9 1213.8 878.6C1210.9 885.4 1207.6 892.7 1203.2 899.7C1198.8 906.7 1193.9 914.3 1187.4 920.8C1181 927.2 1172.1 933.1 1164.5 938.4C1156.9 943.7 1147.8 949 1141.6 952.5C1135.4 956 1129.8 958.4 1127.5 959.6"/>
<path class="t" d="M1209.4 804.6L1209.4 850.4L1212.9 876"/>
<path class="t" d="M1211.2 804.4L1211.2 849L1214.2 872"/>
<ellipse class="t" cx="1197.1" cy="906.8" rx="17" ry="2.7" transform="rotate(-55.4 1197.1 906.8)"/>
<ellipse class="t" cx="1197.1" cy="906.8" rx="14" ry="1.4" transform="rotate(-55.4 1197.1 906.8)"/>
<ellipse class="t" cx="1230.5" cy="814.3" rx="9.2" ry="4.4" transform="rotate(40 1230.5 814.3)"/>
<path class="t" d="M1219 804L1227 803.6"/>
<ellipse class="t" cx="1148.7" cy="831" rx="16" ry="9.4" transform="rotate(-58 1148.7 831)"/>
<path class="t" d="M1139.9 841.7C1139.8 841.4 1139.4 840.5 1139.3 839.8C1139.2 839 1139.1 838.2 1139.2 837.4C1139.2 836.6 1139.3 835.7 1139.5 834.8C1139.7 833.9 1139.9 833 1140.3 832C1140.6 831.1 1141 830.2 1141.5 829.3C1141.9 828.4 1142.4 827.4 1143 826.6C1143.6 825.7 1144.2 824.9 1144.9 824.1C1145.5 823.4 1146.2 822.6 1146.9 822C1147.6 821.4 1148.4 820.8 1149.1 820.3C1149.8 819.8 1150.6 819.4 1151.3 819.1C1152 818.8 1152.7 818.5 1153.4 818.4C1154.1 818.3 1154.8 818.3 1155.4 818.3C1156 818.4 1156.6 818.6 1157.1 818.8C1157.6 819.1 1158 819.5 1158.4 819.9C1158.8 820.4 1159.1 820.9 1159.4 821.5C1159.7 822.1 1159.8 822.8 1159.9 823.5C1160 824.3 1160.1 825.1 1160 825.9C1160 826.8 1159.8 827.7 1159.6 828.6C1159.4 829.5 1158.9 830.9 1158.8 831.3"/>
<ellipse class="t" cx="1249.5" cy="786" rx="16" ry="9.4" transform="rotate(-58 1249.5 786)"/>
<path class="t" d="M1240.7 796.7C1240.6 796.4 1240.2 795.5 1240.1 794.8C1240 794 1239.9 793.2 1240 792.4C1240 791.6 1240.1 790.7 1240.3 789.8C1240.5 788.9 1240.7 788 1241.1 787C1241.4 786.1 1241.8 785.2 1242.3 784.3C1242.7 783.4 1243.2 782.4 1243.8 781.6C1244.4 780.7 1245 779.9 1245.7 779.1C1246.3 778.4 1247 777.6 1247.7 777C1248.4 776.4 1249.2 775.8 1249.9 775.3C1250.6 774.8 1251.4 774.4 1252.1 774.1C1252.8 773.8 1253.5 773.5 1254.2 773.4C1254.9 773.3 1255.6 773.3 1256.2 773.3C1256.8 773.4 1257.4 773.6 1257.9 773.8C1258.4 774.1 1258.8 774.5 1259.2 774.9C1259.6 775.4 1259.9 775.9 1260.2 776.5C1260.5 777.1 1260.6 777.8 1260.7 778.5C1260.8 779.3 1260.9 780.1 1260.8 780.9C1260.8 781.8 1260.6 782.7 1260.4 783.6C1260.2 784.5 1259.7 785.9 1259.6 786.3"/>
<ellipse class="t" cx="1251.7" cy="942" rx="16" ry="9.4" transform="rotate(-58 1251.7 942)"/>
<path class="t" d="M1242.9 952.7C1242.8 952.4 1242.4 951.5 1242.3 950.8C1242.2 950 1242.1 949.2 1242.2 948.4C1242.2 947.6 1242.3 946.7 1242.5 945.8C1242.7 944.9 1242.9 944 1243.3 943C1243.6 942.1 1244 941.2 1244.5 940.3C1244.9 939.4 1245.4 938.4 1246 937.6C1246.6 936.7 1247.2 935.9 1247.9 935.1C1248.5 934.4 1249.2 933.6 1249.9 933C1250.6 932.4 1251.4 931.8 1252.1 931.3C1252.8 930.8 1253.6 930.4 1254.3 930.1C1255 929.8 1255.7 929.5 1256.4 929.4C1257.1 929.3 1257.8 929.3 1258.4 929.3C1259 929.4 1259.6 929.6 1260.1 929.8C1260.6 930.1 1261 930.5 1261.4 930.9C1261.8 931.4 1262.1 931.9 1262.4 932.5C1262.7 933.1 1262.8 933.8 1262.9 934.5C1263 935.3 1263.1 936.1 1263 936.9C1263 937.8 1262.8 938.7 1262.6 939.6C1262.4 940.5 1261.9 941.9 1261.8 942.3"/>
<ellipse class="t" cx="1149.6" cy="1009.2" rx="16" ry="9.4" transform="rotate(-58 1149.6 1009.2)"/>
<path class="t" d="M1140.8 1019.9C1140.7 1019.6 1140.3 1018.7 1140.2 1018C1140.1 1017.2 1140 1016.4 1140.1 1015.6C1140.1 1014.8 1140.2 1013.9 1140.4 1013C1140.6 1012.1 1140.8 1011.2 1141.2 1010.2C1141.5 1009.3 1141.9 1008.4 1142.4 1007.5C1142.8 1006.6 1143.3 1005.6 1143.9 1004.8C1144.5 1003.9 1145.1 1003.1 1145.8 1002.3C1146.4 1001.6 1147.1 1000.8 1147.8 1000.2C1148.5 999.6 1149.3 999 1150 998.5C1150.7 998 1151.5 997.6 1152.2 997.3C1152.9 997 1153.6 996.7 1154.3 996.6C1155 996.5 1155.7 996.5 1156.3 996.5C1156.9 996.6 1157.5 996.8 1158 997C1158.5 997.3 1158.9 997.7 1159.3 998.1C1159.7 998.6 1160 999.1 1160.3 999.7C1160.6 1000.3 1160.7 1001 1160.8 1001.7C1160.9 1002.5 1161 1003.3 1160.9 1004.1C1160.9 1005 1160.7 1005.9 1160.5 1006.8C1160.3 1007.7 1159.8 1009.1 1159.7 1009.5"/>
<path class="t" d="M1236 795.5C1233.5 795.1 1225.1 793.2 1220.8 793.2C1216.5 793.2 1215 794.2 1210.3 795.8C1205.6 797.4 1198 800.5 1192.7 802.9C1187.4 805.3 1182.7 808.7 1178.6 810C1174.5 811.3 1171.5 811.4 1168 810.8C1164.5 810.2 1161.3 806.5 1157.5 806.4C1153.7 806.3 1148.8 807.4 1145 810C1141.2 812.6 1136.9 817.6 1134.6 822.3C1132.3 827 1131.3 832.7 1131 838C1130.7 843.3 1132.8 849 1132.8 854C1132.8 859 1131.3 865.7 1131 868"/>
<path class="t" d="M1120.3 985C1121.3 984.9 1124.3 983.6 1126.3 984.4C1128.3 985.2 1131.3 986.5 1132.3 989.6C1133.3 992.7 1132.5 998.8 1132.3 1003C1132 1007.2 1130.5 1011 1130.8 1015C1131 1019 1131.8 1024.2 1133.8 1027.2C1135.8 1030.2 1139.4 1032.7 1142.9 1033.2C1146.4 1033.7 1151.2 1032.7 1154.9 1030.2C1158.7 1027.7 1162.4 1022.5 1165.4 1018.2C1168.4 1014 1169.2 1008.7 1173 1004.7C1176.8 1000.7 1181.8 998.3 1188 994C1194.2 989.7 1205 983.6 1210.5 979C1216 974.4 1219.1 968.7 1220.8 966.6"/>
<path class="t" d="M1220.8 966.6C1222.3 966 1226.6 963.1 1229.6 963C1232.5 962.9 1236.2 965.4 1238.5 965.7C1240.8 966 1242.8 965 1243.7 964.9"/>
<path class="t" d="M1224.4 969.3C1225.6 969.6 1229.1 971.2 1231.4 971C1233.8 970.8 1237.3 968.8 1238.5 968.3"/>
<path class="t" d="M1115.8 985C1116 988 1117.3 997.5 1117.3 1003C1117.3 1008.5 1115.5 1013.7 1115.8 1018.2C1116 1022.7 1117 1027 1118.8 1030.2C1120.5 1033.5 1122.8 1036.5 1126.3 1037.7C1129.8 1039 1135.5 1038.2 1139.8 1037.7C1144.1 1037.2 1150 1035.5 1152 1035"/>
<path class="t" d="M1150.4 794C1149.2 794.2 1146.3 793.8 1143.4 795C1140.5 796.2 1136.3 797.6 1132.8 801C1129.3 804.4 1124.9 809.9 1122.3 815.2C1119.7 820.5 1118 827.5 1117 832.8C1116 838.1 1115.6 842.9 1116 847C1116.4 851.1 1119.4 853.4 1119.6 857.5C1119.8 861.6 1118.6 866.2 1117 871.5C1115.4 876.8 1112.3 882 1110 889C1107.7 896 1104.7 905.6 1102.9 913.8C1101.1 922 1099.9 929.9 1099.4 938.4C1099 946.9 1099.7 957.1 1100.2 964.9C1100.7 972.7 1101 974.1 1102.3 985C1103.6 995.9 1105.8 1019 1108.3 1030C1110.8 1041 1113.7 1047 1117.3 1051C1120.9 1055 1127.9 1053.5 1130 1054"/>
<path class="t" d="M1117.9 868L1130.2 874.2"/>
<path class="t" d="M1108.3 770C1108.1 776.4 1109.1 791.9 1107.3 808.2C1105.5 824.5 1100.1 849.2 1097.6 868C1095.1 886.8 1093 903.2 1092.3 920.8C1091.6 938.4 1092.5 956.7 1093.2 973.7C1093.9 990.7 1094.7 1010.8 1096.2 1022.7C1097.7 1034.6 1099.5 1040 1102.3 1045.3C1105.1 1050.6 1108 1052.5 1112.8 1054.3C1117.5 1056 1126 1055.8 1130.8 1055.8C1135.6 1055.8 1139.6 1054.5 1141.4 1054.3"/>
<path class="t" d="M1103 770C1102.8 776.3 1103.6 791.7 1102 808C1100.4 824.3 1095.4 849.2 1093.2 868C1091 886.8 1089.5 903.2 1088.8 920.8C1088.1 938.4 1088.4 958.8 1088.8 973.7C1089.2 988.6 1090.6 1004 1091 1010"/>
<path class="t" d="M1120.3 770C1119.5 775 1117.3 793 1115.8 800C1114.3 807 1112 810 1111.3 812"/>
<path class="t" d="M1149.6 770C1149.8 772.5 1150.4 781 1150.5 785C1150.6 789 1150.4 792.5 1150.4 794"/>
<path class="t" d="M1152.5 788C1153.4 789.8 1155.8 796 1158 799C1160.2 802 1163 804.5 1166 806C1169 807.5 1174.3 807.7 1176 808"/>
<path class="t" d="M1150.4 788C1150.8 789.3 1151.4 793.5 1153 796C1154.6 798.5 1157.5 801.1 1160 803C1162.5 804.9 1166.7 806.8 1168 807.5"/>
<path class="t" d="M1176 808C1178.3 806.7 1185.7 802.2 1190 800C1194.3 797.8 1197.7 796.8 1202 795C1206.3 793.2 1211.7 790.7 1216 789C1220.3 787.3 1224.7 786.5 1228 785C1231.3 783.5 1234.7 780.8 1236 780"/>
<path class="t" d="M1263 790.6C1263.3 792.9 1263.7 799 1264.9 804.6C1266.1 810.2 1268.5 819.3 1270 824C1271.5 828.7 1273.1 825.5 1273.7 832.8C1274.3 840.1 1274.9 857.7 1273.7 868C1272.5 878.3 1268.5 887.9 1266.6 894.4C1264.7 900.9 1262.5 902.7 1262.2 906.8C1261.9 910.9 1263.7 915.8 1264.9 919C1266.1 922.2 1268.6 924.8 1269.3 926"/>
<path class="t" d="M1271.7 730.7C1272.5 733.9 1275.2 741.8 1276.2 750C1277.2 758.2 1277.2 757.5 1277.7 780C1278.2 802.5 1278.8 867.3 1279 884.8"/>
<path class="t" d="M1269 733C1269.7 736.2 1272 744.2 1273 752C1274 759.8 1274.3 757.8 1274.8 780C1275.3 802.2 1275.8 867.9 1276 885.5"/>
<path class="t" d="M1288 810L1288.7 865.7"/>
<path class="t" d="M1279 884.8L1294 876"/>
<ellipse class="t" cx="1286.5" cy="870.5" rx="3" ry="3"/>
<ellipse class="t" cx="1284" cy="876" rx="2.2" ry="2.2"/>
<path class="t" d="M1237 757C1238.3 756.2 1241.8 753.1 1245 752C1248.2 750.9 1252.8 750 1256 750.5C1259.2 751 1262 752.1 1264 755C1266 757.9 1267.3 763 1268 768C1268.7 773 1268.8 781.2 1268 785C1267.2 788.8 1263.8 789.7 1263 790.6"/>
<path class="t" d="M1236.5 768C1237.6 767 1240.4 763.3 1243 762C1245.6 760.7 1249.3 759.7 1252 760C1254.7 760.3 1257.8 763.3 1259 764"/>
<path class="t" d="M1217 750C1217.8 752.5 1220.2 760.8 1222 765C1223.8 769.2 1225.7 772.5 1228 775C1230.3 777.5 1234.7 779.2 1236 780"/>
<path class="t" d="M1222.6 727.8C1223.5 730.2 1225.8 737.1 1228 742C1230.2 746.9 1234.7 754.5 1236 757"/>
<path class="t" d="M1218 750L1226 744L1234 747"/>
</g>
<g id="p_knuckle4">
<path class="t" d="M1290.5 688C1290.8 689 1290.9 692.2 1292 694C1293.1 695.8 1296.4 698.2 1297.3 699"/>
<path class="t" d="M1297.3 699L1324.4 717L1362 708L1381.5 697.6"/>
<path class="t" d="M1294.3 705L1324.4 720.8L1362.7 711"/>
<ellipse class="t" cx="1337.6" cy="685.3" rx="13.2" ry="7"/>
<path class="t" d="M1325.6 686.6C1325.6 686.4 1325.7 685.8 1325.9 685.4C1326 685 1326.3 684.6 1326.6 684.2C1327 683.9 1327.4 683.5 1327.9 683.2C1328.4 682.9 1329 682.6 1329.6 682.3C1330.2 682 1330.9 681.8 1331.6 681.6C1332.3 681.4 1333.1 681.2 1333.9 681.1C1334.7 681 1335.5 680.9 1336.3 680.8C1337.2 680.8 1338 680.8 1338.9 680.8C1339.7 680.9 1340.5 681 1341.3 681.1C1342.1 681.2 1342.9 681.4 1343.6 681.6C1344.3 681.8 1345 682 1345.6 682.3C1346.2 682.6 1346.8 682.9 1347.3 683.2C1347.8 683.5 1348.2 683.9 1348.6 684.2C1348.9 684.6 1349.2 685 1349.3 685.4C1349.5 685.8 1349.6 686.4 1349.6 686.6"/>
<ellipse class="t" cx="1385" cy="714.2" rx="15" ry="9.6" transform="rotate(70 1385 714.2)"/>
<path class="t" d="M1376 696C1375.3 698 1372.6 703.7 1372 708C1371.4 712.3 1371.7 717.8 1372.5 722C1373.3 726.2 1376.2 731.2 1377 733"/>
<path class="t" d="M1276.2 739.7L1294.3 705"/>
<path class="t" d="M1273.2 731L1279.3 738L1291 716"/>
<path class="t" d="M1295.8 787.8C1298.5 785 1306.2 776.8 1312 771C1317.8 765.2 1325.6 758 1330.4 753.2C1335.2 748.4 1337.7 746.2 1341 742C1344.3 737.8 1347.5 733 1350 728C1352.5 723 1355 714.7 1356 712"/>
<path class="t" d="M1306.3 790.8C1308.5 788.3 1313.8 782.1 1319.8 775.8C1325.8 769.5 1336.1 760 1342.4 753.2C1348.7 746.4 1353.9 742 1357.4 735.2C1360.9 728.4 1362.5 716.4 1363.5 712.6"/>
<path class="t" d="M1362 708C1362 710 1362.2 714 1362 720C1361.8 726 1360.8 740 1360.5 744"/>
<path class="t" d="M1366.5 708L1365.5 741"/>
<path class="t" d="M1277.7 771.3C1278.9 772.4 1282 775.2 1285 778C1288 780.8 1294 786.2 1295.8 787.8"/>
<path class="t" d="M1336.4 748.7L1342.4 756.2"/>
<path class="t" d="M1324.4 759.2L1328.9 763.8"/>
<ellipse class="t" cx="1339.4" cy="775.8" rx="11.5" ry="7.8" transform="rotate(68 1339.4 775.8)"/>
<path class="t" d="M1331 765C1329.8 765.5 1325.7 766.2 1324 768C1322.3 769.8 1321.3 773 1321 776C1320.7 779 1321.2 783.3 1322 786C1322.8 788.7 1325.3 791 1326 792"/>
<ellipse class="t" cx="1327.4" cy="822.4" rx="17" ry="11.2" transform="rotate(-62 1327.4 822.4)"/>
<ellipse class="t" cx="1327.8" cy="822.8" rx="9.4" ry="6.2" transform="rotate(-62 1327.8 822.8)"/>
<ellipse class="t" cx="1328" cy="823" rx="7.2" ry="4.6" transform="rotate(-62 1328 823)"/>
<ellipse class="t" cx="1326.6" cy="821.8" rx="14.8" ry="9.6" transform="rotate(-62 1326.6 821.8)"/>
<path class="t" d="M1312 807.5C1310.7 807.1 1306.3 804.9 1304 805C1301.7 805.1 1299.5 806.2 1298 808C1296.5 809.8 1295.3 813 1295 816C1294.7 819 1295 823.2 1296 826C1297 828.8 1298.8 831.3 1301 833C1303.2 834.7 1307.7 835.5 1309 836"/>
<path class="t" d="M1299 807C1298 807.8 1294.2 809.8 1293 812C1291.8 814.2 1291.3 817.2 1291.5 820C1291.7 822.8 1292.6 826.5 1294 829C1295.4 831.5 1299 834 1300 835"/>
<path class="t" d="M1319.5 806.5L1303.5 803.8"/>
<path class="t" d="M1295.8 787.8L1290 796L1287 806"/>
<path class="t" d="M1306.3 790.8L1301 798L1303.5 803.8"/>
<path class="t" d="M1278 800L1291 795"/>
<path class="t" d="M1278 812L1288 806"/>
<path class="t" d="M1277.5 775L1287 786L1295.8 787.8"/>
<path class="t" d="M1279 776L1286 771"/>
<path class="t" d="M1279 780L1286 775"/>
<path class="t" d="M1279 784L1286 779"/>
<path class="t" d="M1279 788L1286 783"/>
<ellipse class="t" cx="1050.3" cy="1083" rx="34.8" ry="23.7" transform="rotate(-60 1050.3 1083)"/>
<path class="t" d="M1075.9 1078.9C1075.6 1080 1075 1083.2 1074.3 1085.4C1073.7 1087.5 1072.8 1089.7 1071.7 1091.8C1070.7 1093.8 1069.5 1095.9 1068.2 1097.8C1066.9 1099.7 1065.4 1101.5 1063.9 1103.1C1062.4 1104.8 1060.7 1106.3 1059 1107.6C1057.4 1108.9 1055.6 1110.1 1053.8 1111C1052.1 1111.9 1050.2 1112.6 1048.5 1113.1C1046.7 1113.6 1045 1113.8 1043.3 1113.9C1041.6 1113.9 1040 1113.7 1038.5 1113.2C1036.9 1112.8 1035.5 1112.1 1034.2 1111.3C1032.9 1110.4 1031.8 1109.3 1030.8 1108C1029.8 1106.8 1028.9 1105.3 1028.3 1103.7C1027.6 1102.1 1027.1 1100.3 1026.8 1098.4C1026.5 1096.6 1026.4 1094.5 1026.5 1092.5C1026.6 1090.4 1026.8 1088.3 1027.3 1086.1C1027.8 1084 1028.4 1081.8 1029.2 1079.7C1030 1077.5 1031 1075.4 1032.1 1073.4C1033.3 1071.4 1034.6 1069.4 1035.9 1067.6C1037.3 1065.7 1038.9 1064 1040.5 1062.5C1042 1060.9 1043.8 1059.5 1045.5 1058.3C1047.2 1057.2 1049 1056.2 1050.8 1055.4C1052.5 1054.6 1055.2 1054 1056.1 1053.7"/>
<ellipse class="t" cx="1051" cy="1082.8" rx="17.1" ry="12.2" transform="rotate(-60 1051 1082.8)"/>
<path class="t" d="M1039.7 1088C1039.8 1087.5 1039.8 1086 1040 1084.9C1040.2 1083.9 1040.4 1082.9 1040.8 1081.9C1041.1 1080.8 1041.6 1079.8 1042.1 1078.8C1042.6 1077.9 1043.2 1076.9 1043.8 1076C1044.5 1075.1 1045.2 1074.3 1045.9 1073.5C1046.7 1072.8 1047.5 1072.1 1048.3 1071.5C1049.1 1070.9 1050 1070.4 1050.8 1070C1051.7 1069.6 1052.6 1069.2 1053.4 1069C1054.3 1068.8 1055.1 1068.7 1055.9 1068.8C1056.7 1068.8 1057.5 1068.9 1058.3 1069.1C1059 1069.3 1059.7 1069.7 1060.4 1070.1C1061 1070.6 1061.6 1071.1 1062.1 1071.7C1062.6 1072.3 1063 1073.1 1063.3 1073.8C1063.6 1074.6 1063.9 1075.5 1064.1 1076.4C1064.2 1077.3 1064.3 1078.2 1064.3 1079.2C1064.3 1080.2 1064.1 1081.2 1063.9 1082.3C1063.7 1083.3 1063.4 1084.3 1063.1 1085.3C1062.7 1086.4 1062.2 1087.4 1061.7 1088.3C1061.2 1089.3 1060.2 1090.7 1059.9 1091.1"/>
<path class="t" d="M1043.6 1036.2L1062 1047.5"/>
<path class="t" d="M1040 1040L1057 1051"/>
<ellipse class="m" cx="1093.2" cy="1080.8" rx="19.3" ry="12.8" transform="rotate(-60 1093.2 1080.8)"/>
<ellipse class="t" cx="1093.6" cy="1081" rx="17.3" ry="11.2" transform="rotate(-60 1093.6 1081)"/>
<ellipse class="t" cx="1093.8" cy="1081.2" rx="15.6" ry="9.9" transform="rotate(-60 1093.8 1081.2)"/>
<path class="t" d="M1078 1062C1077.3 1063.3 1074.8 1067 1074 1070C1073.2 1073 1073.2 1076.8 1073.5 1080C1073.8 1083.2 1075.6 1087.5 1076 1089"/>
<path class="t" d="M1072.5 1088L1081 1092"/>
<path class="t" d="M1064.7 961.8C1066.5 962.7 1072.5 964.1 1075.2 967C1078 969.9 1079.5 973.5 1081.2 979C1083 984.5 1084.2 992.7 1085.7 1000C1087.2 1007.3 1089.5 1018.9 1090.2 1022.7"/>
<path class="t" d="M1064.7 961.8C1064.3 964.4 1062.9 970.7 1062.4 977.6C1061.9 984.5 1062.6 995.8 1061.7 1003C1060.8 1010.2 1057.8 1018 1057 1021"/>
<path class="t" d="M1066.2 964L1064.7 1006L1073.7 1010.5L1074.4 968"/>
<path class="t" d="M1064.7 1006C1064.2 1008.7 1063.6 1017 1062 1022C1060.4 1027 1057.5 1032.5 1055 1036C1052.5 1039.5 1048.3 1041.8 1047 1043"/>
<path class="t" d="M1073.7 1010.5C1073.2 1013.8 1072.6 1024.4 1071 1030C1069.4 1035.6 1066.3 1040.7 1064 1044C1061.7 1047.3 1058.2 1049 1057 1050"/>
<path class="t" d="M1057 1050C1058.5 1049.5 1063.3 1047 1066 1047C1068.7 1047 1071 1048.2 1073 1050C1075 1051.8 1077.2 1056.7 1078 1058"/>
<path class="t" d="M1078 1026C1078.7 1025.5 1080.3 1023.5 1082 1023C1083.7 1022.5 1086.5 1022.5 1088 1023C1089.5 1023.5 1090.5 1025.5 1091 1026"/>
<path class="t" d="M1078 1026C1078.3 1028.7 1078.7 1037 1080 1042C1081.3 1047 1083.5 1052.3 1086 1056C1088.5 1059.7 1093.5 1062.7 1095 1064"/>
<path class="t" d="M1095 1064C1096.5 1063 1101.2 1059 1104 1058C1106.8 1057 1110.7 1058 1112 1058"/>
<ellipse class="t" cx="1182.7" cy="1040.8" rx="16.5" ry="11.5" transform="rotate(-60 1182.7 1040.8)"/>
<ellipse class="t" cx="1183" cy="1041.2" rx="14" ry="9.4" transform="rotate(-60 1183 1041.2)"/>
<ellipse class="t" cx="1183.5" cy="1041.8" rx="7.6" ry="5" transform="rotate(-60 1183.5 1041.8)"/>
<ellipse class="t" cx="1183.7" cy="1042" rx="5.6" ry="3.6" transform="rotate(-60 1183.7 1042)"/>
<path class="t" d="M1176 1026.5C1174.7 1026.6 1170.3 1025.9 1168 1027C1165.7 1028.1 1163.3 1030.5 1162 1033C1160.7 1035.5 1159.8 1038.8 1160 1042C1160.2 1045.2 1161.5 1049.7 1163 1052C1164.5 1054.3 1168 1055.3 1169 1056"/>
<path class="t" d="M1165 1045C1164.1 1045 1160.6 1043.5 1159.5 1045C1158.4 1046.5 1158.1 1052 1158.5 1054C1158.9 1056 1161.4 1056.5 1162 1057"/>
<path class="t" d="M1158.5 1046L1142 1053.5"/>
<path class="t" d="M1196 1036L1214 1020"/>
<path class="t" d="M1141.4 1054.3C1140 1055.2 1135.2 1057.7 1133 1060C1130.8 1062.3 1128.8 1066.7 1128 1068"/>
<ellipse class="t" cx="1125" cy="1058.5" rx="6" ry="3.8" transform="rotate(-20 1125 1058.5)"/>
<ellipse class="t" cx="1137" cy="1057" rx="4" ry="4.8"/>
<path class="t" d="M1105.3 1064.8C1106.6 1063.8 1110.7 1059.8 1113 1058.5C1115.3 1057.2 1118 1057.2 1119 1057"/>
<path class="t" d="M1221 963C1222.2 963.6 1225.5 966 1228 966.5C1230.5 967 1234 966.8 1236 966C1238 965.2 1239.3 962.7 1240 962"/>
</g>
<g id="p_small">
<path class="wf" d="M150.2 612L253.8 551.4L256.7 551.8L257.9 551.5L259.3 551.6L260.9 552.3L262.4 553.4L263.9 555L265.2 556.8L266.1 558.8L266.8 560.9L267 562.8L266.8 564.5L266.3 565.8L265.3 566.7L264.3 569.4L160.7 629.9Z"/>
<path class="o" d="M150.2 612L253.8 551.4"/>
<path class="o" d="M160.7 629.9L264.3 569.4"/>
<path class="o" d="M253.8 551.4C254.2 551.5 256 551.8 256.7 551.8C257.3 551.8 257.4 551.5 257.9 551.5C258.3 551.4 258.8 551.5 259.3 551.6C259.8 551.8 260.4 552 260.9 552.3C261.4 552.6 261.9 553 262.4 553.4C262.9 553.9 263.4 554.4 263.9 555C264.3 555.6 264.8 556.2 265.2 556.8C265.5 557.5 265.9 558.2 266.1 558.8C266.4 559.5 266.6 560.2 266.8 560.9C266.9 561.5 267 562.2 267 562.8C267 563.4 267 564 266.8 564.5C266.7 565 266.5 565.4 266.3 565.8C266 566.2 265.7 566.1 265.3 566.7C265 567.3 264.4 568.9 264.3 569.4"/>
<path class="t" d="M253.8 552.5C254 552.5 254.8 552.4 255.4 552.5C256 552.6 256.6 552.9 257.2 553.2C257.8 553.5 258.5 554 259.1 554.5C259.7 555 260.3 555.6 260.8 556.3C261.4 556.9 261.9 557.7 262.4 558.5C262.8 559.2 263.2 560.1 263.5 560.9C263.8 561.7 264.1 562.5 264.2 563.3C264.4 564 264.4 564.8 264.4 565.5C264.4 566.2 264.3 566.9 264.1 567.4C263.9 568 263.4 568.6 263.3 568.9"/>
<path class="t" d="M203.1 581.1C203.3 581 204 580.6 204.6 580.6C205.1 580.6 205.7 580.6 206.3 580.8C206.9 581 207.6 581.2 208.2 581.6C208.8 582 209.5 582.5 210.1 583C210.7 583.5 211.3 584.2 211.8 584.9C212.4 585.6 212.9 586.3 213.4 587.1C213.8 587.9 214.2 588.7 214.5 589.5C214.9 590.3 215.1 591.2 215.3 592C215.5 592.8 215.6 593.6 215.6 594.3C215.6 595 215.5 595.7 215.4 596.3C215.2 597 215 597.5 214.7 597.9C214.4 598.4 213.8 598.8 213.6 599"/>
<path class="t" d="M208.4 578C208.6 577.9 209.3 577.6 209.8 577.5C210.4 577.5 211 577.5 211.6 577.7C212.2 577.9 212.8 578.2 213.4 578.5C214.1 578.9 214.7 579.4 215.3 579.9C215.9 580.5 216.5 581.1 217.1 581.8C217.6 582.5 218.2 583.2 218.6 584C219.1 584.8 219.5 585.6 219.8 586.4C220.1 587.3 220.4 588.1 220.6 588.9C220.8 589.7 220.9 590.5 220.9 591.2C220.9 592 220.8 592.7 220.7 593.3C220.5 593.9 220.3 594.4 220 594.9C219.7 595.3 219 595.8 218.8 595.9"/>
<path class="t" d="M213.6 574.9C213.9 574.8 214.6 574.5 215.1 574.4C215.6 574.4 216.2 574.5 216.8 574.6C217.4 574.8 218.1 575.1 218.7 575.5C219.3 575.8 220 576.3 220.6 576.8C221.2 577.4 221.8 578 222.4 578.7C222.9 579.4 223.4 580.2 223.9 580.9C224.3 581.7 224.8 582.6 225.1 583.4C225.4 584.2 225.7 585 225.8 585.8C226 586.6 226.1 587.4 226.1 588.2C226.1 588.9 226.1 589.6 225.9 590.2C225.8 590.8 225.5 591.3 225.2 591.8C224.9 592.2 224.3 592.7 224.1 592.9"/>
<path class="t" d="M218.9 571.8C219.1 571.7 219.8 571.4 220.4 571.4C220.9 571.3 221.5 571.4 222.1 571.6C222.7 571.7 223.4 572 224 572.4C224.6 572.7 225.3 573.2 225.9 573.8C226.5 574.3 227.1 575 227.6 575.6C228.2 576.3 228.7 577.1 229.2 577.9C229.6 578.6 230 579.5 230.3 580.3C230.7 581.1 230.9 582 231.1 582.7C231.3 583.5 231.4 584.3 231.4 585.1C231.4 585.8 231.3 586.5 231.2 587.1C231 587.7 230.8 588.3 230.5 588.7C230.2 589.2 229.6 589.6 229.4 589.8"/>
<path class="t" d="M224.2 568.7C224.4 568.7 225.1 568.3 225.6 568.3C226.2 568.2 226.8 568.3 227.4 568.5C228 568.6 228.6 568.9 229.2 569.3C229.9 569.7 230.5 570.1 231.1 570.7C231.7 571.2 232.3 571.9 232.9 572.6C233.4 573.2 234 574 234.4 574.8C234.9 575.6 235.3 576.4 235.6 577.2C235.9 578 236.2 578.9 236.4 579.7C236.6 580.5 236.7 581.3 236.7 582C236.7 582.7 236.6 583.4 236.5 584C236.3 584.6 236.1 585.2 235.8 585.6C235.5 586.1 234.8 586.5 234.6 586.7"/>
<path class="t" d="M229.4 565.7C229.7 565.6 230.4 565.3 230.9 565.2C231.4 565.2 232 565.2 232.6 565.4C233.2 565.6 233.9 565.9 234.5 566.2C235.1 566.6 235.8 567.1 236.4 567.6C237 568.2 237.6 568.8 238.2 569.5C238.7 570.2 239.2 570.9 239.7 571.7C240.1 572.5 240.6 573.3 240.9 574.1C241.2 574.9 241.5 575.8 241.6 576.6C241.8 577.4 241.9 578.2 241.9 578.9C241.9 579.6 241.9 580.3 241.7 581C241.6 581.6 241.3 582.1 241 582.6C240.7 583 240.1 583.4 239.9 583.6"/>
<path class="t" d="M234.7 562.6C234.9 562.5 235.6 562.2 236.2 562.1C236.7 562.1 237.3 562.2 237.9 562.3C238.5 562.5 239.2 562.8 239.8 563.1C240.4 563.5 241.1 564 241.7 564.5C242.3 565.1 242.9 565.7 243.4 566.4C244 567.1 244.5 567.9 245 568.6C245.4 569.4 245.8 570.2 246.1 571.1C246.5 571.9 246.7 572.7 246.9 573.5C247.1 574.3 247.2 575.1 247.2 575.8C247.2 576.6 247.1 577.3 247 577.9C246.8 578.5 246.6 579 246.3 579.5C246 579.9 245.4 580.4 245.2 580.5"/>
<path class="t" d="M240 559.5C240.2 559.4 240.9 559.1 241.4 559.1C242 559 242.6 559.1 243.2 559.2C243.8 559.4 244.4 559.7 245 560.1C245.7 560.4 246.3 560.9 246.9 561.5C247.5 562 248.1 562.6 248.7 563.3C249.2 564 249.8 564.8 250.2 565.6C250.7 566.3 251.1 567.2 251.4 568C251.7 568.8 252 569.6 252.2 570.4C252.4 571.2 252.5 572 252.5 572.8C252.5 573.5 252.4 574.2 252.3 574.8C252.1 575.4 251.9 576 251.6 576.4C251.3 576.9 250.6 577.3 250.4 577.5"/>
<path class="t" d="M245.2 556.4C245.5 556.4 246.2 556 246.7 556C247.2 555.9 247.8 556 248.4 556.2C249 556.3 249.7 556.6 250.3 557C250.9 557.4 251.6 557.8 252.2 558.4C252.8 558.9 253.4 559.6 254 560.3C254.5 560.9 255 561.7 255.5 562.5C255.9 563.3 256.4 564.1 256.7 564.9C257 565.7 257.3 566.6 257.4 567.4C257.6 568.2 257.7 569 257.7 569.7C257.7 570.4 257.7 571.1 257.5 571.7C257.4 572.3 257.1 572.9 256.8 573.3C256.5 573.8 255.9 574.2 255.7 574.4"/>
<path class="t" d="M200.7 582.5C200.9 582.4 201.6 582.1 202.1 582C202.7 582 203.3 582 203.9 582.2C204.5 582.4 205.1 582.7 205.8 583C206.4 583.4 207 583.9 207.6 584.4C208.3 585 208.9 585.6 209.4 586.3C210 587 210.5 587.7 210.9 588.5C211.4 589.3 211.8 590.1 212.1 590.9C212.5 591.7 212.7 592.6 212.9 593.4C213.1 594.2 213.2 595 213.2 595.7C213.2 596.4 213.1 597.1 213 597.8C212.8 598.4 212.6 598.9 212.3 599.4C212 599.8 211.4 600.3 211.2 600.4"/>
<path class="wf" d="M166.4 614.5C166.9 615.4 168.3 617.9 169 619.6C169.7 621.3 170.3 623.1 170.8 624.8C171.3 626.5 171.6 628.2 171.8 629.8C171.9 631.4 172 633 171.9 634.4C171.7 635.9 171.5 637.2 171.1 638.4C170.6 639.6 170.1 640.7 169.4 641.6C168.7 642.5 167.9 643.2 167 643.7C166.1 644.3 165 644.6 163.9 644.8C162.8 644.9 161.6 644.9 160.4 644.7C159.1 644.5 157.8 644 156.5 643.4C155.2 642.8 153.8 642 152.5 641.1C151.2 640.1 149.8 639 148.6 637.8C147.3 636.5 146.1 635.1 145 633.6C143.8 632.2 142.7 630.6 141.8 628.9C140.8 627.3 140 625.6 139.2 623.8C138.5 622.1 137.9 620.4 137.4 618.7C137 617 136.6 615.2 136.5 613.6C136.3 612 136.2 610.4 136.4 609C136.5 607.6 136.8 606.2 137.2 605C137.6 603.8 138.1 602.7 138.8 601.9C139.5 601 140.3 600.2 141.2 599.7C142.2 599.2 143.2 598.8 144.3 598.7C145.4 598.5 146.6 598.5 147.9 598.8C149.1 599 150.4 599.4 151.7 600C153.1 600.6 154.4 601.4 155.7 602.4C157 603.3 158.4 604.4 159.6 605.7C160.9 606.9 162.1 608.3 163.3 609.8C164.4 611.3 165.9 613.7 166.4 614.5C167 615.3 166 613.7 166.4 614.5Z"/>
<path class="o" d="M137.2 604.8C137.6 604.2 138.5 602.2 139.4 601.2C140.2 600.3 141.3 599.5 142.5 599.1C143.7 598.7 145.1 598.5 146.5 598.6C147.9 598.7 149.5 599.1 151.1 599.7C152.6 600.4 154.2 601.3 155.8 602.4C157.4 603.5 159 604.9 160.4 606.5C161.9 608 163.3 609.8 164.6 611.6C165.9 613.5 167.1 615.5 168 617.5C169 619.5 169.9 621.7 170.5 623.7C171.1 625.7 171.5 627.8 171.8 629.7C172 631.6 172 633.5 171.8 635.2C171.6 636.8 171.1 638.4 170.5 639.7C169.9 641 169.1 642.1 168.1 642.9C167.2 643.7 166 644.3 164.7 644.6C163.5 644.9 161.3 644.7 160.6 644.7"/>
<path class="wf" d="M161.3 617.5C161.8 618.4 163.2 621 164 622.8C164.7 624.6 165.4 626.4 165.8 628.2C166.3 630 166.7 631.7 166.9 633.4C167 635.1 167.1 636.7 166.9 638.2C166.8 639.7 166.5 641.1 166.1 642.4C165.7 643.6 165.1 644.7 164.4 645.6C163.7 646.6 162.8 647.3 161.9 647.9C160.9 648.4 159.8 648.8 158.7 649C157.5 649.1 156.3 649.1 155 648.9C153.7 648.6 152.3 648.2 151 647.6C149.6 646.9 148.2 646.1 146.8 645.1C145.5 644.1 144.1 643 142.8 641.7C141.5 640.4 140.2 638.9 139 637.4C137.8 635.9 136.7 634.2 135.7 632.5C134.7 630.8 133.8 629 133 627.2C132.3 625.4 131.6 623.6 131.2 621.8C130.7 620 130.3 618.3 130.1 616.6C130 614.9 129.9 613.3 130.1 611.8C130.2 610.3 130.5 608.9 130.9 607.6C131.3 606.4 131.9 605.3 132.6 604.4C133.3 603.4 134.2 602.7 135.1 602.1C136.1 601.6 137.2 601.2 138.3 601C139.5 600.9 140.7 600.9 142 601.1C143.3 601.4 144.7 601.8 146 602.4C147.4 603.1 148.8 603.9 150.2 604.9C151.5 605.9 152.9 607 154.2 608.3C155.5 609.6 156.8 611.1 158 612.6C159.2 614.1 160.8 616.7 161.3 617.5C161.9 618.3 160.9 616.6 161.3 617.5Z"/>
<path class="o" d="M161.3 617.5C162.3 619.2 163.2 621 164 622.8C164.7 624.6 165.4 626.4 165.8 628.2C166.3 630 166.7 631.7 166.9 633.4C167 635.1 167.1 636.7 166.9 638.2C166.8 639.7 166.5 641.1 166.1 642.4C165.7 643.6 165.1 644.7 164.4 645.6C163.7 646.6 162.8 647.3 161.9 647.9C160.9 648.4 159.8 648.8 158.7 649C157.5 649.1 156.3 649.1 155 648.9C153.7 648.6 152.3 648.2 151 647.6C149.6 646.9 148.2 646.1 146.8 645.1C145.5 644.1 144.1 643 142.8 641.7C141.5 640.4 140.2 638.9 139 637.4C137.8 635.9 136.7 634.2 135.7 632.5C134.7 630.8 133.8 629 133 627.2C132.3 625.4 131.6 623.6 131.2 621.8C130.7 620 130.3 618.3 130.1 616.6C130 614.9 129.9 613.3 130.1 611.8C130.2 610.3 130.5 608.9 130.9 607.6C131.3 606.4 131.9 605.3 132.6 604.4C133.3 603.4 134.2 602.7 135.1 602.1C136.1 601.6 137.2 601.2 138.3 601C139.5 600.9 140.7 600.9 142 601.1C143.3 601.4 144.7 601.8 146 602.4C147.4 603.1 148.8 603.9 150.2 604.9C151.5 605.9 152.9 607 154.2 608.3C155.5 609.6 156.8 611.1 158 612.6C159.2 614.1 160.3 615.8 161.3 617.5Z"/>
<path class="t" d="M140.9 602C141.6 602.1 143.6 602.1 145 602.5C146.4 602.9 148 603.5 149.4 604.4C150.9 605.3 152.4 606.4 153.9 607.7C155.3 609 156.7 610.5 158 612.1C159.3 613.7 160.6 615.5 161.6 617.3C162.7 619.1 163.7 621.1 164.4 623C165.2 624.9 165.8 626.9 166.2 628.8C166.6 630.7 166.9 632.6 166.9 634.3C166.9 636 166.8 637.7 166.4 639.1C166.1 640.5 165.1 642.3 164.8 642.9"/>
<path class="t" d="M143.3 601.6C144.1 601.7 146.2 601.9 147.7 602.4C149.2 603 150.8 603.8 152.4 604.9C153.9 605.9 155.5 607.3 156.9 608.8C158.4 610.2 159.8 612 161.1 613.8C162.3 615.6 163.5 617.6 164.4 619.6C165.4 621.5 166.2 623.6 166.8 625.6C167.4 627.6 167.8 629.7 167.9 631.5C168.1 633.4 168.1 635.2 167.8 636.8C167.5 638.4 166.6 640.3 166.4 641"/>
<path class="t" d="M143.7 605.2C144.4 605.5 146.4 606.2 147.7 607C149.1 607.8 150.5 608.9 151.8 610C153.1 611.2 154.4 612.6 155.6 614.1C156.8 615.6 158 617.2 158.9 618.9C159.9 620.6 160.8 622.4 161.5 624.1C162.2 625.9 162.8 627.7 163.2 629.5C163.5 631.2 163.8 632.9 163.8 634.5C163.8 636.1 163.4 638.2 163.3 638.9"/>
<path class="t" d="M139.3 630.4C139 629.6 137.7 627.4 137.1 625.9C136.6 624.5 136.1 622.9 135.8 621.4C135.4 620 135.3 618.5 135.2 617.2C135.2 615.9 135.3 614.6 135.6 613.5C135.9 612.4 136.3 611.4 136.9 610.5C137.4 609.7 138.1 609.1 138.9 608.6C139.7 608.1 140.6 607.8 141.6 607.8C142.6 607.7 143.7 607.8 144.8 608.1C145.9 608.4 147.1 608.9 148.2 609.6C149.4 610.3 150.6 611.2 151.7 612.1C152.8 613.1 153.9 614.3 154.9 615.6C155.9 616.8 156.9 618.2 157.7 619.6C158.5 621 159.3 622.6 159.9 624.1C160.4 625.5 160.9 627.1 161.2 628.6C161.6 630 161.7 631.5 161.8 632.8C161.8 634.1 161.7 635.4 161.4 636.5C161.1 637.6 160.7 638.6 160.1 639.5C159.6 640.3 158.9 640.9 158.1 641.4C157.3 641.9 156.4 642.2 155.4 642.2C154.4 642.3 153.3 642.2 152.2 641.9C151.1 641.6 149.9 641.1 148.8 640.4C147.6 639.7 146.4 638.8 145.3 637.9C144.2 636.9 143.1 635.7 142.1 634.4C141.1 633.2 139.8 631 139.3 630.4"/>
<path class="wf" d="M140.3 613L135.7 614.9L122.9 623.8L124.6 635L132.5 646.4L142.6 645.8L149.8 641.1L150.2 624Z"/>
<path class="o" d="M140.3 613L135.7 614.9L122.9 623.8L124.6 635L132.5 646.4L142.6 645.8L149.8 641.1"/>
<path class="t" d="M122.9 623.8L133.4 626.9L144.1 619.5"/>
<path class="t" d="M124.6 635L135.3 636.2L133.4 626.9"/>
<path class="t" d="M135.3 636.2L142.6 645.8"/>
<path class="t" d="M132.5 646.4L135.3 636.2"/>
<path class="t" d="M133.4 626.9C134.4 627 138 626.9 139.7 627.8C141.4 628.7 142.8 630.8 143.6 632.5C144.4 634.2 144.3 636.9 144.4 637.8"/>
<path class="t" d="M144.4 637.8C145.2 637.8 147.4 637.4 148.9 637.5C150.3 637.7 152.3 638.4 153 638.6"/>
<path class="t" d="M143.6 632.5L149.3 630.3"/>
<path class="t" d="M144.4 637.8L145.6 645.8"/>
<path class="t" d="M139.7 627.8C140 627 140.6 624 141.7 623.2C142.7 622.4 145.4 623 146.1 622.9"/>
<path class="wf" d="M723.7 552.4L726 545L733 540.3L743 537.9L758 537.9L768 540.3L775.5 545L777.7 552.4L777.7 559L772 566.5L765.5 572L765.5 582L760 586L750 587.2L741 586L736 582L736 572L729.5 566.5L723.7 559Z"/>
<path class="wf" d="M739 427L741 422.5L746 420.3L755 420.3L760 422.5L762 427L762 556L739 556Z"/>
<path class="o" d="M739 498L739 428"/>
<path class="o" d="M762 428L762 498"/>
<path class="o" d="M739 428C739.1 427.4 739.1 425.5 739.6 424.5C740.1 423.5 740.8 422.8 741.8 422.2C742.8 421.6 744.9 420.9 745.5 420.7"/>
<path class="o" d="M755.3 420.7C755.9 420.9 758.2 421.6 759.2 422.2C760.2 422.8 760.9 423.5 761.4 424.5C761.9 425.5 761.9 427.4 762 428"/>
<ellipse class="t" cx="750.4" cy="424" rx="6" ry="2.4"/>
<path class="t" d="M741.5 423.8C741.6 423.7 741.9 423.2 742.2 422.9C742.5 422.6 742.9 422.3 743.4 422C743.8 421.8 744.3 421.6 744.8 421.4C745.3 421.1 745.9 421 746.5 420.8C747.1 420.7 747.8 420.6 748.4 420.5C749.1 420.4 749.7 420.4 750.4 420.4C751.1 420.4 751.7 420.4 752.4 420.5C753 420.6 753.7 420.7 754.3 420.8C754.9 421 755.5 421.1 756 421.4C756.5 421.6 757 421.8 757.4 422C757.9 422.3 758.3 422.6 758.6 422.9C758.9 423.2 759.2 423.7 759.3 423.8"/>
<path class="t" d="M762 427.5C762 427.7 761.9 428.1 761.7 428.4C761.6 428.7 761.3 429 761 429.3C760.7 429.6 760.3 429.8 759.8 430.1C759.3 430.3 758.8 430.6 758.2 430.8C757.6 431 756.9 431.2 756.2 431.3C755.5 431.5 754.7 431.6 754 431.7C753.2 431.8 752.4 431.8 751.6 431.9C750.8 431.9 750 431.9 749.2 431.9C748.4 431.8 747.6 431.8 746.8 431.7C746.1 431.6 745.3 431.5 744.6 431.3C743.9 431.2 743.2 431 742.6 430.8C742 430.6 741.5 430.3 741 430.1C740.5 429.8 740.1 429.6 739.8 429.3C739.5 429 739.2 428.7 739.1 428.4C738.9 428.1 738.8 427.7 738.8 427.5"/>
<path class="t" d="M762 433.6C762 433.8 761.9 434.2 761.7 434.5C761.6 434.8 761.3 435.1 761 435.4C760.7 435.7 760.3 435.9 759.8 436.2C759.3 436.4 758.8 436.7 758.2 436.9C757.6 437.1 756.9 437.3 756.2 437.4C755.5 437.6 754.7 437.7 754 437.8C753.2 437.9 752.4 437.9 751.6 438C750.8 438 750 438 749.2 438C748.4 437.9 747.6 437.9 746.8 437.8C746.1 437.7 745.3 437.6 744.6 437.4C743.9 437.3 743.2 437.1 742.6 436.9C742 436.7 741.5 436.4 741 436.2C740.5 435.9 740.1 435.7 739.8 435.4C739.5 435.1 739.2 434.8 739.1 434.5C738.9 434.2 738.8 433.8 738.8 433.6"/>
<path class="t" d="M762 439.7C762 439.9 761.9 440.3 761.7 440.6C761.6 440.9 761.3 441.2 761 441.5C760.7 441.8 760.3 442 759.8 442.3C759.3 442.5 758.8 442.8 758.2 443C757.6 443.2 756.9 443.4 756.2 443.5C755.5 443.7 754.7 443.8 754 443.9C753.2 444 752.4 444 751.6 444.1C750.8 444.1 750 444.1 749.2 444.1C748.4 444 747.6 444 746.8 443.9C746.1 443.8 745.3 443.7 744.6 443.5C743.9 443.4 743.2 443.2 742.6 443C742 442.8 741.5 442.5 741 442.3C740.5 442 740.1 441.8 739.8 441.5C739.5 441.2 739.2 440.9 739.1 440.6C738.9 440.3 738.8 439.9 738.8 439.7"/>
<path class="t" d="M762 445.8C762 446 761.9 446.4 761.7 446.7C761.6 447 761.3 447.3 761 447.6C760.7 447.9 760.3 448.1 759.8 448.4C759.3 448.6 758.8 448.9 758.2 449.1C757.6 449.3 756.9 449.5 756.2 449.6C755.5 449.8 754.7 449.9 754 450C753.2 450.1 752.4 450.1 751.6 450.2C750.8 450.2 750 450.2 749.2 450.2C748.4 450.1 747.6 450.1 746.8 450C746.1 449.9 745.3 449.8 744.6 449.6C743.9 449.5 743.2 449.3 742.6 449.1C742 448.9 741.5 448.6 741 448.4C740.5 448.1 740.1 447.9 739.8 447.6C739.5 447.3 739.2 447 739.1 446.7C738.9 446.4 738.8 446 738.8 445.8"/>
<path class="t" d="M762 451.9C762 452.1 761.9 452.5 761.7 452.8C761.6 453.1 761.3 453.4 761 453.7C760.7 454 760.3 454.2 759.8 454.5C759.3 454.7 758.8 455 758.2 455.2C757.6 455.4 756.9 455.6 756.2 455.7C755.5 455.9 754.7 456 754 456.1C753.2 456.2 752.4 456.2 751.6 456.3C750.8 456.3 750 456.3 749.2 456.3C748.4 456.2 747.6 456.2 746.8 456.1C746.1 456 745.3 455.9 744.6 455.7C743.9 455.6 743.2 455.4 742.6 455.2C742 455 741.5 454.7 741 454.5C740.5 454.2 740.1 454 739.8 453.7C739.5 453.4 739.2 453.1 739.1 452.8C738.9 452.5 738.8 452.1 738.8 451.9"/>
<path class="t" d="M762 458C762 458.2 761.9 458.6 761.7 458.9C761.6 459.2 761.3 459.5 761 459.8C760.7 460.1 760.3 460.3 759.8 460.6C759.3 460.8 758.8 461.1 758.2 461.3C757.6 461.5 756.9 461.7 756.2 461.8C755.5 462 754.7 462.1 754 462.2C753.2 462.3 752.4 462.3 751.6 462.4C750.8 462.4 750 462.4 749.2 462.4C748.4 462.3 747.6 462.3 746.8 462.2C746.1 462.1 745.3 462 744.6 461.8C743.9 461.7 743.2 461.5 742.6 461.3C742 461.1 741.5 460.8 741 460.6C740.5 460.3 740.1 460.1 739.8 459.8C739.5 459.5 739.2 459.2 739.1 458.9C738.9 458.6 738.8 458.2 738.8 458"/>
<path class="t" d="M762 464.1C762 464.3 761.9 464.7 761.7 465C761.6 465.3 761.3 465.6 761 465.9C760.7 466.2 760.3 466.4 759.8 466.7C759.3 466.9 758.8 467.2 758.2 467.4C757.6 467.6 756.9 467.8 756.2 467.9C755.5 468.1 754.7 468.2 754 468.3C753.2 468.4 752.4 468.4 751.6 468.5C750.8 468.5 750 468.5 749.2 468.5C748.4 468.4 747.6 468.4 746.8 468.3C746.1 468.2 745.3 468.1 744.6 467.9C743.9 467.8 743.2 467.6 742.6 467.4C742 467.2 741.5 466.9 741 466.7C740.5 466.4 740.1 466.2 739.8 465.9C739.5 465.6 739.2 465.3 739.1 465C738.9 464.7 738.8 464.3 738.8 464.1"/>
<path class="t" d="M762 470.2C762 470.4 761.9 470.8 761.7 471.1C761.6 471.4 761.3 471.7 761 472C760.7 472.3 760.3 472.5 759.8 472.8C759.3 473 758.8 473.3 758.2 473.5C757.6 473.7 756.9 473.9 756.2 474C755.5 474.2 754.7 474.3 754 474.4C753.2 474.5 752.4 474.5 751.6 474.6C750.8 474.6 750 474.6 749.2 474.6C748.4 474.5 747.6 474.5 746.8 474.4C746.1 474.3 745.3 474.2 744.6 474C743.9 473.9 743.2 473.7 742.6 473.5C742 473.3 741.5 473 741 472.8C740.5 472.5 740.1 472.3 739.8 472C739.5 471.7 739.2 471.4 739.1 471.1C738.9 470.8 738.8 470.4 738.8 470.2"/>
<path class="t" d="M762 476.3C762 476.5 761.9 476.9 761.7 477.2C761.6 477.5 761.3 477.8 761 478.1C760.7 478.4 760.3 478.6 759.8 478.9C759.3 479.1 758.8 479.4 758.2 479.6C757.6 479.8 756.9 480 756.2 480.1C755.5 480.3 754.7 480.4 754 480.5C753.2 480.6 752.4 480.6 751.6 480.7C750.8 480.7 750 480.7 749.2 480.7C748.4 480.6 747.6 480.6 746.8 480.5C746.1 480.4 745.3 480.3 744.6 480.1C743.9 480 743.2 479.8 742.6 479.6C742 479.4 741.5 479.1 741 478.9C740.5 478.6 740.1 478.4 739.8 478.1C739.5 477.8 739.2 477.5 739.1 477.2C738.9 476.9 738.8 476.5 738.8 476.3"/>
<path class="t" d="M762 482.4C762 482.6 761.9 483 761.7 483.3C761.6 483.6 761.3 483.9 761 484.2C760.7 484.5 760.3 484.7 759.8 485C759.3 485.2 758.8 485.5 758.2 485.7C757.6 485.9 756.9 486.1 756.2 486.2C755.5 486.4 754.7 486.5 754 486.6C753.2 486.7 752.4 486.7 751.6 486.8C750.8 486.8 750 486.8 749.2 486.8C748.4 486.7 747.6 486.7 746.8 486.6C746.1 486.5 745.3 486.4 744.6 486.2C743.9 486.1 743.2 485.9 742.6 485.7C742 485.5 741.5 485.2 741 485C740.5 484.7 740.1 484.5 739.8 484.2C739.5 483.9 739.2 483.6 739.1 483.3C738.9 483 738.8 482.6 738.8 482.4"/>
<path class="t" d="M762 488.5C762 488.7 761.9 489.1 761.7 489.4C761.6 489.7 761.3 490 761 490.3C760.7 490.6 760.3 490.8 759.8 491.1C759.3 491.3 758.8 491.6 758.2 491.8C757.6 492 756.9 492.2 756.2 492.3C755.5 492.5 754.7 492.6 754 492.7C753.2 492.8 752.4 492.8 751.6 492.9C750.8 492.9 750 492.9 749.2 492.9C748.4 492.8 747.6 492.8 746.8 492.7C746.1 492.6 745.3 492.5 744.6 492.3C743.9 492.2 743.2 492 742.6 491.8C742 491.6 741.5 491.3 741 491.1C740.5 490.8 740.1 490.6 739.8 490.3C739.5 490 739.2 489.7 739.1 489.4C738.9 489.1 738.8 488.7 738.8 488.5"/>
<path class="t" d="M761.8 492.5C761.8 492.6 761.7 493.1 761.6 493.4C761.4 493.7 761.1 493.9 760.8 494.2C760.5 494.5 760.1 494.7 759.6 495C759.2 495.2 758.6 495.4 758 495.6C757.4 495.8 756.8 496 756.1 496.1C755.4 496.3 754.7 496.4 753.9 496.5C753.2 496.6 752.4 496.6 751.6 496.7C750.8 496.7 750 496.7 749.2 496.7C748.4 496.6 747.6 496.6 746.9 496.5C746.1 496.4 745.4 496.3 744.7 496.1C744 496 743.4 495.8 742.8 495.6C742.2 495.4 741.6 495.2 741.2 495C740.7 494.7 740.3 494.5 740 494.2C739.7 493.9 739.4 493.7 739.2 493.4C739.1 493.1 739 492.6 739 492.5"/>
<path class="t" d="M761.4 494.8C761.4 494.9 761.3 495.4 761.2 495.6C761 495.9 760.8 496.2 760.4 496.4C760.1 496.7 759.7 496.9 759.3 497.2C758.9 497.4 758.3 497.6 757.8 497.8C757.2 498 756.6 498.1 755.9 498.3C755.2 498.4 754.5 498.5 753.8 498.6C753.1 498.7 752.3 498.7 751.5 498.8C750.8 498.8 750 498.8 749.3 498.8C748.5 498.7 747.7 498.7 747 498.6C746.3 498.5 745.6 498.4 744.9 498.3C744.2 498.1 743.6 498 743 497.8C742.5 497.6 741.9 497.4 741.5 497.2C741.1 496.9 740.7 496.7 740.4 496.4C740 496.2 739.8 495.9 739.6 495.6C739.5 495.4 739.4 494.9 739.4 494.8"/>
<path class="o" d="M739.7 497L739.7 552"/>
<path class="o" d="M761.6 497L761.6 552"/>
<ellipse class="o" cx="750.7" cy="552.4" rx="27" ry="14.6"/>
<path class="o" d="M723.7 552.4C723.7 553.4 723 556.2 723.9 558.5C724.8 560.8 727 563.8 729 566C731 568.2 734.8 570.6 736 571.5"/>
<path class="o" d="M777.7 552.4C777.7 553.4 778.4 556.2 777.5 558.5C776.6 560.8 774.5 563.8 772.5 566C770.5 568.2 766.7 570.6 765.5 571.5"/>
<path class="t" d="M777 558.4C776.8 558.8 776.3 560.1 775.6 560.8C774.9 561.6 774 562.4 773 563.1C771.9 563.8 770.6 564.5 769.2 565.1C767.8 565.6 766.3 566.2 764.6 566.6C763 567 761.2 567.4 759.3 567.7C757.5 567.9 755.5 568.1 753.6 568.2C751.7 568.3 749.7 568.3 747.8 568.2C745.9 568.1 743.9 567.9 742.1 567.7C740.2 567.4 738.4 567 736.8 566.6C735.1 566.2 733.6 565.6 732.2 565.1C730.8 564.5 729.5 563.8 728.4 563.1C727.4 562.4 726.5 561.6 725.8 560.8C725.1 560.1 724.6 558.8 724.4 558.4"/>
<path class="t" d="M769.5 564.9C769.2 565.2 768.3 566.1 767.5 566.6C766.7 567.1 765.8 567.6 764.7 568.1C763.7 568.5 762.5 568.9 761.2 569.2C760 569.6 758.6 569.8 757.2 570C755.9 570.2 754.4 570.4 752.9 570.4C751.5 570.5 749.9 570.5 748.5 570.4C747 570.4 745.5 570.2 744.2 570C742.8 569.8 741.4 569.6 740.2 569.2C738.9 568.9 737.7 568.5 736.7 568.1C735.6 567.6 734.7 567.1 733.9 566.6C733.1 566.1 732.2 565.2 731.9 564.9"/>
<path class="wf" d="M740 540L761.4 540L761.4 552L757 555.5L750.5 556.6L744 555.5L740 552Z"/>
<path class="o" d="M739.7 538L739.7 552"/>
<path class="o" d="M761.6 538L761.6 552"/>
<path class="t" d="M761.6 552C761.6 552.2 761.5 552.6 761.4 553C761.2 553.3 761 553.6 760.6 553.9C760.3 554.2 759.9 554.4 759.5 554.7C759.1 555 758.5 555.2 758 555.4C757.4 555.6 756.8 555.8 756.1 556C755.4 556.1 754.7 556.3 754 556.4C753.3 556.5 752.5 556.5 751.7 556.6C751 556.6 750.2 556.6 749.5 556.6C748.7 556.5 747.9 556.5 747.2 556.4C746.5 556.3 745.8 556.1 745.1 556C744.4 555.8 743.8 555.6 743.2 555.4C742.7 555.2 742.1 555 741.7 554.7C741.3 554.4 740.9 554.2 740.6 553.9C740.2 553.6 740 553.3 739.8 553C739.7 552.6 739.6 552.2 739.6 552"/>
<path class="o" d="M736 571.5C736 573.1 735.6 578.8 736.3 581C737 583.2 737.7 584 740 585C742.3 586 746.7 587.1 750 587.2C753.3 587.3 757.5 586.5 760 585.5C762.5 584.5 764.1 583.3 765 581C765.9 578.7 765.4 573.1 765.5 571.5"/>
<path class="t" d="M765.5 571.5C765.4 571.7 765.4 572.1 765.2 572.5C765 572.8 764.6 573.1 764.2 573.4C763.8 573.7 763.3 573.9 762.7 574.2C762.1 574.5 761.4 574.7 760.6 574.9C759.8 575.1 759 575.3 758.1 575.5C757.2 575.6 756.2 575.8 755.3 575.9C754.3 576 753.3 576 752.2 576.1C751.2 576.1 750.2 576.1 749.2 576.1C748.1 576 747.1 576 746.1 575.9C745.2 575.8 744.2 575.6 743.3 575.5C742.4 575.3 741.6 575.1 740.8 574.9C740 574.7 739.3 574.5 738.7 574.2C738.1 573.9 737.6 573.7 737.2 573.4C736.8 573.1 736.4 572.8 736.2 572.5C736 572.1 736 571.7 735.9 571.5"/>
<path class="m" d="M741.5 575.5L741.5 585.5"/>
<path class="m" d="M746.5 575.5L746.5 585.5"/>
<path class="m" d="M753 575.5L753 585.5"/>
<path class="m" d="M759.5 575.5L759.5 585.5"/>
<path class="t" d="M744 576L744 586"/>
<path class="t" d="M756.5 576L756.5 586"/>
<path class="wf" d="M1458.6 797.3L1472.9 790.1L1482.5 792.6L1488.9 801.5L1490.9 810.8L1487.7 817.3L1477 824.8L1465.5 813Z"/>
<path class="o" d="M1458.6 797.3L1472.9 790.1L1482.5 792.6L1488.9 801.5L1490.9 810.8L1487.7 817.3L1477 824.8"/>
<path class="t" d="M1474.3 818.2L1487.8 811.5"/>
<path class="t" d="M1471.3 813L1487.3 804.8"/>
<path class="t" d="M1467.7 807L1483.8 798.7"/>
<path class="t" d="M1464.2 801L1477.6 794.2"/>
<path class="wf" d="M1368.1 856.4L1457.8 803.8L1469.7 824.2L1380 876.8L1377.8 876.9L1376.2 877.4L1374.4 877.2L1372.5 876.4L1370.5 874.9L1368.7 873L1367.1 870.7L1365.8 868.2L1365 865.6L1364.7 863.2L1365 861.1L1365.7 859.4L1366.8 858.3Z"/>
<path class="o" d="M1368.9 855.9L1454.3 805.8"/>
<path class="o" d="M1380.9 876.3L1470.6 823.7"/>
<path class="o" d="M1368.9 855.9C1368.4 856.5 1366.5 858.8 1365.8 859.5C1365.1 860.2 1365.1 860 1364.8 860.4C1364.5 860.8 1364.3 861.2 1364.1 861.7C1364 862.2 1363.9 862.7 1363.8 863.3C1363.8 863.9 1363.8 864.6 1363.9 865.2C1364 865.9 1364.2 866.9 1364.3 867.3"/>
<path class="o" d="M1369.3 875.4C1369.6 875.5 1370.3 876.2 1370.8 876.5C1371.3 876.8 1371.8 877.1 1372.3 877.3C1372.8 877.5 1373.3 877.6 1373.7 877.7C1374.2 877.8 1374.7 877.8 1375.1 877.7C1375.5 877.6 1375.3 877.5 1376.2 877.3C1377.2 877 1380.1 876.5 1380.9 876.3"/>
<path class="t" d="M1372.9 867.3C1373.2 867.9 1373.5 868.5 1373.8 869.1C1374 869.7 1374.2 870.4 1374.3 871C1374.3 871.6 1374.4 872.2 1374.3 872.7C1374.2 873.2 1374.1 873.6 1373.9 874C1373.7 874.3 1373.4 874.6 1373.1 874.8C1372.7 875 1372.3 875.1 1371.9 875.1C1371.5 875.1 1371 875 1370.5 874.9C1370.1 874.7 1369.6 874.4 1369.1 874C1368.6 873.6 1368.1 873.2 1367.7 872.7C1367.3 872.2 1366.9 871.6 1366.5 871C1366.2 870.4 1365.9 869.8 1365.6 869.2C1365.4 868.5 1365.3 867.9 1365.2 867.3C1365.1 866.7 1365.1 866.1 1365.1 865.6C1365.2 865.1 1365.3 864.7 1365.5 864.3C1365.8 863.9 1366 863.6 1366.4 863.5C1366.7 863.3 1367.1 863.2 1367.5 863.2C1367.9 863.2 1368.4 863.3 1368.9 863.4C1369.4 863.6 1369.9 863.9 1370.3 864.3C1370.8 864.6 1371.3 865.1 1371.7 865.6C1372.1 866.1 1372.6 866.7 1372.9 867.3Z"/>
<path class="t" d="M1368.1 859.4C1368.4 859.3 1368.9 858.9 1369.4 858.8C1369.9 858.7 1370.4 858.7 1371 858.9C1371.5 859 1372.1 859.2 1372.7 859.5C1373.3 859.8 1373.9 860.2 1374.5 860.7C1375.1 861.2 1375.6 861.8 1376.2 862.4C1376.7 863.1 1377.2 863.8 1377.6 864.5C1378 865.2 1378.4 866 1378.7 866.8C1379 867.5 1379.2 868.3 1379.4 869.1C1379.5 869.8 1379.6 870.5 1379.6 871.2C1379.6 871.9 1379.5 872.5 1379.3 873C1379.1 873.6 1378.9 874.1 1378.6 874.4C1378.3 874.8 1377.6 875.1 1377.4 875.3"/>
<path class="t" d="M1371.5 854.4C1371.8 854.3 1372.6 853.9 1373.2 853.9C1373.8 853.8 1374.5 853.9 1375.2 854.1C1375.8 854.3 1376.6 854.6 1377.3 855C1378 855.4 1378.7 856 1379.4 856.6C1380.1 857.2 1380.8 858 1381.4 858.7C1382.1 859.5 1382.7 860.4 1383.2 861.2C1383.7 862.1 1384.2 863.1 1384.5 864C1384.9 864.9 1385.2 865.9 1385.4 866.8C1385.6 867.7 1385.7 868.6 1385.7 869.4C1385.7 870.2 1385.7 871 1385.5 871.7C1385.3 872.4 1385.1 873.1 1384.7 873.6C1384.4 874.1 1383.7 874.6 1383.4 874.8"/>
<path class="t" d="M1377.9 850.7C1378.2 850.6 1379 850.2 1379.6 850.2C1380.2 850.1 1380.9 850.2 1381.5 850.4C1382.2 850.5 1383 850.9 1383.7 851.3C1384.4 851.7 1385.1 852.2 1385.8 852.9C1386.5 853.5 1387.2 854.2 1387.8 855C1388.4 855.8 1389 856.6 1389.6 857.5C1390.1 858.4 1390.5 859.3 1390.9 860.3C1391.3 861.2 1391.6 862.1 1391.8 863C1392 863.9 1392.1 864.9 1392.1 865.7C1392.1 866.5 1392 867.3 1391.9 868C1391.7 868.7 1391.4 869.3 1391.1 869.8C1390.8 870.3 1390 870.8 1389.8 871"/>
<path class="t" d="M1384.3 846.9C1384.5 846.8 1385.3 846.5 1385.9 846.4C1386.6 846.4 1387.2 846.4 1387.9 846.6C1388.6 846.8 1389.3 847.1 1390 847.5C1390.8 848 1391.5 848.5 1392.2 849.1C1392.9 849.7 1393.6 850.5 1394.2 851.2C1394.8 852 1395.4 852.9 1395.9 853.8C1396.5 854.6 1396.9 855.6 1397.3 856.5C1397.7 857.4 1398 858.4 1398.2 859.3C1398.4 860.2 1398.5 861.1 1398.5 861.9C1398.5 862.8 1398.4 863.6 1398.3 864.2C1398.1 864.9 1397.8 865.6 1397.5 866.1C1397.1 866.6 1396.4 867.1 1396.2 867.3"/>
<path class="t" d="M1390.7 843.2C1390.9 843.1 1391.7 842.7 1392.3 842.7C1392.9 842.6 1393.6 842.7 1394.3 842.9C1395 843.1 1395.7 843.4 1396.4 843.8C1397.1 844.2 1397.9 844.8 1398.6 845.4C1399.3 846 1400 846.7 1400.6 847.5C1401.2 848.3 1401.8 849.1 1402.3 850C1402.8 850.9 1403.3 851.8 1403.7 852.8C1404 853.7 1404.3 854.6 1404.5 855.6C1404.7 856.5 1404.9 857.4 1404.9 858.2C1404.9 859 1404.8 859.8 1404.6 860.5C1404.5 861.2 1404.2 861.8 1403.9 862.3C1403.5 862.8 1402.8 863.3 1402.6 863.5"/>
<path class="t" d="M1397 839.4C1397.3 839.3 1398.1 839 1398.7 838.9C1399.3 838.9 1400 838.9 1400.7 839.1C1401.4 839.3 1402.1 839.6 1402.8 840.1C1403.5 840.5 1404.3 841 1405 841.6C1405.6 842.2 1406.3 843 1407 843.7C1407.6 844.5 1408.2 845.4 1408.7 846.3C1409.2 847.1 1409.7 848.1 1410.1 849C1410.4 849.9 1410.7 850.9 1410.9 851.8C1411.1 852.7 1411.2 853.6 1411.3 854.4C1411.3 855.3 1411.2 856.1 1411 856.8C1410.9 857.4 1410.6 858.1 1410.2 858.6C1409.9 859.1 1409.2 859.6 1409 859.8"/>
<path class="t" d="M1403.4 835.7C1403.7 835.6 1404.5 835.2 1405.1 835.2C1405.7 835.1 1406.4 835.2 1407.1 835.4C1407.7 835.6 1408.5 835.9 1409.2 836.3C1409.9 836.7 1410.6 837.3 1411.3 837.9C1412 838.5 1412.7 839.2 1413.3 840C1414 840.8 1414.6 841.6 1415.1 842.5C1415.6 843.4 1416.1 844.3 1416.4 845.3C1416.8 846.2 1417.1 847.2 1417.3 848.1C1417.5 849 1417.6 849.9 1417.6 850.7C1417.7 851.5 1417.6 852.3 1417.4 853C1417.2 853.7 1417 854.3 1416.6 854.8C1416.3 855.3 1415.6 855.8 1415.4 856"/>
<path class="t" d="M1409.8 831.9C1410.1 831.9 1410.9 831.5 1411.5 831.4C1412.1 831.4 1412.8 831.4 1413.4 831.6C1414.1 831.8 1414.9 832.1 1415.6 832.6C1416.3 833 1417 833.5 1417.7 834.1C1418.4 834.8 1419.1 835.5 1419.7 836.3C1420.4 837 1421 837.9 1421.5 838.8C1422 839.7 1422.4 840.6 1422.8 841.5C1423.2 842.5 1423.5 843.4 1423.7 844.3C1423.9 845.2 1424 846.1 1424 847C1424 847.8 1424 848.6 1423.8 849.3C1423.6 850 1423.4 850.6 1423 851.1C1422.7 851.6 1422 852.1 1421.7 852.3"/>
<path class="t" d="M1416.2 828.2C1416.5 828.1 1417.3 827.7 1417.9 827.7C1418.5 827.6 1419.1 827.7 1419.8 827.9C1420.5 828.1 1421.2 828.4 1422 828.8C1422.7 829.2 1423.4 829.8 1424.1 830.4C1424.8 831 1425.5 831.7 1426.1 832.5C1426.7 833.3 1427.3 834.2 1427.9 835C1428.4 835.9 1428.8 836.9 1429.2 837.8C1429.6 838.7 1429.9 839.7 1430.1 840.6C1430.3 841.5 1430.4 842.4 1430.4 843.2C1430.4 844 1430.3 844.8 1430.2 845.5C1430 846.2 1429.7 846.8 1429.4 847.3C1429.1 847.9 1428.3 848.4 1428.1 848.6"/>
<path class="t" d="M1422.6 824.5C1422.8 824.4 1423.6 824 1424.2 823.9C1424.9 823.9 1425.5 824 1426.2 824.1C1426.9 824.3 1427.6 824.7 1428.3 825.1C1429.1 825.5 1429.8 826 1430.5 826.6C1431.2 827.3 1431.9 828 1432.5 828.8C1433.1 829.5 1433.7 830.4 1434.2 831.3C1434.7 832.2 1435.2 833.1 1435.6 834C1436 835 1436.3 835.9 1436.5 836.8C1436.7 837.7 1436.8 838.6 1436.8 839.5C1436.8 840.3 1436.7 841.1 1436.6 841.8C1436.4 842.5 1436.1 843.1 1435.8 843.6C1435.4 844.1 1434.7 844.6 1434.5 844.8"/>
<path class="t" d="M1428.9 820.7C1429.2 820.6 1430 820.2 1430.6 820.2C1431.2 820.1 1431.9 820.2 1432.6 820.4C1433.3 820.6 1434 820.9 1434.7 821.3C1435.4 821.7 1436.2 822.3 1436.9 822.9C1437.6 823.5 1438.3 824.3 1438.9 825C1439.5 825.8 1440.1 826.7 1440.6 827.5C1441.1 828.4 1441.6 829.4 1442 830.3C1442.3 831.2 1442.6 832.2 1442.8 833.1C1443 834 1443.2 834.9 1443.2 835.7C1443.2 836.5 1443.1 837.3 1442.9 838C1442.8 838.7 1442.5 839.3 1442.2 839.9C1441.8 840.4 1441.1 840.9 1440.9 841.1"/>
<path class="t" d="M1435.3 817C1435.6 816.9 1436.4 816.5 1437 816.4C1437.6 816.4 1438.3 816.5 1439 816.7C1439.7 816.8 1440.4 817.2 1441.1 817.6C1441.8 818 1442.6 818.5 1443.2 819.2C1443.9 819.8 1444.6 820.5 1445.3 821.3C1445.9 822.1 1446.5 822.9 1447 823.8C1447.5 824.7 1448 825.6 1448.4 826.5C1448.7 827.5 1449 828.4 1449.2 829.3C1449.4 830.2 1449.5 831.2 1449.6 832C1449.6 832.8 1449.5 833.6 1449.3 834.3C1449.2 835 1448.9 835.6 1448.5 836.1C1448.2 836.6 1447.5 837.1 1447.3 837.3"/>
<path class="t" d="M1441.7 813.2C1442 813.1 1442.8 812.8 1443.4 812.7C1444 812.7 1444.7 812.7 1445.4 812.9C1446 813.1 1446.8 813.4 1447.5 813.8C1448.2 814.3 1448.9 814.8 1449.6 815.4C1450.3 816 1451 816.8 1451.6 817.5C1452.3 818.3 1452.9 819.2 1453.4 820.1C1453.9 820.9 1454.4 821.9 1454.7 822.8C1455.1 823.7 1455.4 824.7 1455.6 825.6C1455.8 826.5 1455.9 827.4 1455.9 828.2C1456 829.1 1455.9 829.9 1455.7 830.5C1455.5 831.2 1455.3 831.9 1454.9 832.4C1454.6 832.9 1453.9 833.4 1453.7 833.6"/>
<path class="t" d="M1448.1 809.5C1448.4 809.4 1449.2 809 1449.8 809C1450.4 808.9 1451.1 809 1451.7 809.2C1452.4 809.4 1453.2 809.7 1453.9 810.1C1454.6 810.5 1455.3 811.1 1456 811.7C1456.7 812.3 1457.4 813 1458 813.8C1458.6 814.6 1459.2 815.4 1459.8 816.3C1460.3 817.2 1460.7 818.1 1461.1 819.1C1461.5 820 1461.8 820.9 1462 821.8C1462.2 822.8 1462.3 823.7 1462.3 824.5C1462.3 825.3 1462.3 826.1 1462.1 826.8C1461.9 827.5 1461.6 828.1 1461.3 828.6C1461 829.1 1460.2 829.6 1460 829.8"/>
<path class="wf" d="M1478.1 805.5C1478.6 806.3 1479.9 808.8 1480.6 810.4C1481.3 812 1481.9 813.7 1482.4 815.4C1482.8 817 1483.1 818.7 1483.3 820.2C1483.5 821.8 1483.5 823.3 1483.4 824.7C1483.3 826 1483 827.4 1482.6 828.5C1482.2 829.6 1481.7 830.7 1481 831.5C1480.4 832.4 1479.6 833.1 1478.7 833.6C1477.8 834.1 1476.8 834.5 1475.8 834.6C1474.7 834.8 1473.5 834.7 1472.3 834.5C1471.2 834.3 1469.9 833.9 1468.6 833.3C1467.4 832.7 1466.1 832 1464.8 831.1C1463.5 830.2 1462.2 829.1 1461 827.9C1459.8 826.7 1458.6 825.4 1457.5 823.9C1456.4 822.5 1455.4 821 1454.5 819.4C1453.6 817.8 1452.7 816.2 1452 814.5C1451.3 812.9 1450.7 811.2 1450.3 809.6C1449.8 807.9 1449.5 806.3 1449.3 804.7C1449.2 803.2 1449.1 801.7 1449.2 800.3C1449.4 798.9 1449.6 797.6 1450 796.4C1450.4 795.3 1450.9 794.3 1451.6 793.4C1452.2 792.6 1453 791.9 1453.9 791.3C1454.8 790.8 1455.8 790.5 1456.9 790.3C1457.9 790.2 1459.1 790.2 1460.3 790.4C1461.5 790.6 1462.7 791 1464 791.6C1465.3 792.2 1466.6 793 1467.8 793.9C1469.1 794.8 1470.4 795.9 1471.6 797C1472.8 798.2 1474 799.6 1475.1 801C1476.2 802.4 1477.6 804.8 1478.1 805.5C1478.7 806.3 1477.7 804.7 1478.1 805.5Z"/>
<path class="o" d="M1449.7 797.6C1449.9 797 1450.6 794.9 1451.3 793.9C1452 792.8 1452.9 791.9 1453.9 791.3C1454.9 790.7 1456.1 790.4 1457.4 790.3C1458.7 790.2 1460.1 790.3 1461.5 790.7C1462.9 791.1 1464.4 791.8 1465.9 792.6C1467.4 793.5 1468.9 794.6 1470.4 795.9C1471.8 797.2 1473.2 798.7 1474.5 800.3C1475.8 801.9 1477.1 803.7 1478.1 805.5C1479.2 807.4 1480.2 809.3 1481 811.2C1481.7 813.1 1482.3 815.1 1482.8 817C1483.2 818.9 1483.4 820.8 1483.4 822.5C1483.5 824.2 1483.3 825.9 1483 827.3C1482.6 828.7 1482.1 830 1481.4 831.1C1480.6 832.1 1479.7 833 1478.7 833.6C1477.7 834.2 1476.5 834.6 1475.2 834.7C1474 834.8 1471.8 834.3 1471.1 834.2"/>
<path class="wf" d="M1474.3 807.8C1474.7 808.6 1476.1 811.1 1476.9 812.8C1477.6 814.6 1478.2 816.3 1478.7 818C1479.2 819.7 1479.5 821.5 1479.7 823.1C1479.9 824.7 1479.9 826.3 1479.8 827.7C1479.7 829.1 1479.4 830.5 1479 831.7C1478.6 832.9 1478 833.9 1477.3 834.8C1476.6 835.7 1475.8 836.5 1474.9 837C1474 837.5 1472.9 837.9 1471.8 838.1C1470.7 838.2 1469.5 838.2 1468.3 838C1467 837.7 1465.7 837.3 1464.4 836.7C1463.1 836.1 1461.7 835.3 1460.4 834.4C1459.1 833.4 1457.8 832.3 1456.5 831.1C1455.2 829.8 1454 828.4 1452.9 826.9C1451.7 825.5 1450.6 823.9 1449.7 822.2C1448.7 820.6 1447.9 818.9 1447.1 817.2C1446.4 815.4 1445.8 813.7 1445.3 812C1444.8 810.3 1444.5 808.5 1444.3 806.9C1444.1 805.3 1444.1 803.7 1444.2 802.3C1444.3 800.9 1444.6 799.5 1445 798.3C1445.4 797.1 1446 796.1 1446.7 795.2C1447.4 794.3 1448.2 793.5 1449.1 793C1450 792.5 1451.1 792.1 1452.2 791.9C1453.3 791.8 1454.5 791.8 1455.7 792C1457 792.3 1458.3 792.7 1459.6 793.3C1460.9 793.9 1462.3 794.7 1463.6 795.6C1464.9 796.6 1466.2 797.7 1467.5 798.9C1468.8 800.2 1470 801.6 1471.1 803.1C1472.3 804.5 1473.8 807 1474.3 807.8C1474.8 808.6 1473.9 806.9 1474.3 807.8Z"/>
<path class="o" d="M1474.3 807.8C1475.3 809.4 1476.1 811.1 1476.9 812.8C1477.6 814.6 1478.2 816.3 1478.7 818C1479.2 819.7 1479.5 821.5 1479.7 823.1C1479.9 824.7 1479.9 826.3 1479.8 827.7C1479.7 829.1 1479.4 830.5 1479 831.7C1478.6 832.9 1478 833.9 1477.3 834.8C1476.6 835.7 1475.8 836.5 1474.9 837C1474 837.5 1472.9 837.9 1471.8 838.1C1470.7 838.2 1469.5 838.2 1468.3 838C1467 837.7 1465.7 837.3 1464.4 836.7C1463.1 836.1 1461.7 835.3 1460.4 834.4C1459.1 833.4 1457.8 832.3 1456.5 831.1C1455.2 829.8 1454 828.4 1452.9 826.9C1451.7 825.5 1450.6 823.9 1449.7 822.2C1448.7 820.6 1447.9 818.9 1447.1 817.2C1446.4 815.4 1445.8 813.7 1445.3 812C1444.8 810.3 1444.5 808.5 1444.3 806.9C1444.1 805.3 1444.1 803.7 1444.2 802.3C1444.3 800.9 1444.6 799.5 1445 798.3C1445.4 797.1 1446 796.1 1446.7 795.2C1447.4 794.3 1448.2 793.5 1449.1 793C1450 792.5 1451.1 792.1 1452.2 791.9C1453.3 791.8 1454.5 791.8 1455.7 792C1457 792.3 1458.3 792.7 1459.6 793.3C1460.9 793.9 1462.3 794.7 1463.6 795.6C1464.9 796.6 1466.2 797.7 1467.5 798.9C1468.8 800.2 1470 801.6 1471.1 803.1C1472.3 804.5 1473.4 806.1 1474.3 807.8Z"/>
<path class="t" d="M1447.3 810.6C1447.2 809.7 1446.7 807.1 1446.7 805.5C1446.7 804 1446.8 802.4 1447.1 801.1C1447.5 799.8 1448 798.6 1448.6 797.7C1449.3 796.7 1450.1 795.9 1451 795.3C1452 794.8 1453.1 794.4 1454.2 794.4C1455.4 794.3 1456.7 794.4 1458 794.8C1459.3 795.1 1460.7 795.7 1462.1 796.5C1463.4 797.3 1464.8 798.3 1466.2 799.5C1467.5 800.7 1468.8 802.1 1470 803.6C1471.2 805 1472.3 806.7 1473.3 808.4C1474.3 810 1475.2 811.9 1475.9 813.6C1476.6 815.4 1477.2 817.2 1477.5 818.9C1477.9 820.7 1478.1 822.4 1478.2 824C1478.2 825.5 1478 827.1 1477.7 828.4C1477.4 829.7 1476.9 830.9 1476.2 831.8C1475.6 832.8 1474.8 833.6 1473.8 834.2C1472.9 834.7 1471.8 835 1470.6 835.1C1469.5 835.2 1468.2 835.1 1466.9 834.7C1465.6 834.4 1464.2 833.8 1462.8 833C1461.4 832.2 1459.4 830.5 1458.7 830"/>
<path class="t" d="M1468.8 811C1469.5 812.3 1470.1 813.6 1470.6 815C1471.1 816.3 1471.5 817.6 1471.6 818.9C1471.8 820.1 1471.8 821.4 1471.7 822.4C1471.6 823.5 1471.3 824.5 1470.8 825.3C1470.4 826 1469.8 826.7 1469.1 827.1C1468.4 827.5 1467.5 827.7 1466.6 827.7C1465.8 827.7 1464.7 827.5 1463.8 827.1C1462.8 826.7 1461.7 826.1 1460.7 825.3C1459.7 824.5 1458.7 823.6 1457.8 822.5C1456.8 821.4 1456 820.2 1455.2 819C1454.5 817.7 1453.9 816.4 1453.4 815C1452.9 813.7 1452.5 812.4 1452.4 811.1C1452.2 809.9 1452.2 808.6 1452.3 807.6C1452.4 806.5 1452.7 805.5 1453.2 804.7C1453.6 804 1454.2 803.3 1454.9 802.9C1455.6 802.5 1456.5 802.3 1457.4 802.3C1458.2 802.3 1459.3 802.5 1460.2 802.9C1461.2 803.3 1462.3 803.9 1463.3 804.7C1464.3 805.5 1465.3 806.4 1466.2 807.5C1467.2 808.6 1468 809.8 1468.8 811Z"/>
<path class="t" d="M1455.2 819C1454.9 818.4 1454 816.7 1453.6 815.5C1453.1 814.4 1452.8 813.2 1452.7 812.1C1452.5 811 1452.5 809.9 1452.6 809C1452.7 808 1453 807.2 1453.4 806.5C1453.8 805.8 1454.3 805.3 1454.9 804.9C1455.5 804.5 1456.3 804.3 1457.1 804.3C1457.8 804.3 1458.7 804.5 1459.6 804.9C1460.5 805.2 1461.4 805.8 1462.3 806.5C1463.2 807.1 1464.1 808 1464.9 808.9C1465.7 809.8 1466.4 810.9 1467.1 812C1467.7 813.1 1468.3 814.3 1468.7 815.5C1469.1 816.6 1469.4 817.8 1469.6 818.9C1469.8 820 1469.8 821.1 1469.7 822C1469.5 823 1469.3 823.8 1468.9 824.5C1468.5 825.2 1468 825.8 1467.4 826.1C1466.7 826.5 1466 826.7 1465.2 826.7C1464.4 826.7 1463.6 826.5 1462.7 826.1C1461.8 825.8 1460.9 825.2 1460 824.6C1459.1 823.9 1458.2 823 1457.4 822.1C1456.6 821.2 1455.6 819.5 1455.2 819"/>
<path class="wf" d="M1444 811.9L1455.2 805.3L1455.2 805.3L1456.8 804.8L1458.8 805L1460.9 805.9L1463.1 807.5L1465.1 809.6L1466.8 812.2L1468.2 814.9L1469.1 817.7L1469.4 820.3L1469.2 822.6L1468.4 824.5L1467.1 825.7L1455.9 832.3Z"/>
<path class="o" d="M1444 811.9L1453.4 806.3"/>
<path class="o" d="M1455.9 832.3L1469.3 824.4"/>
<path class="t" d="M1454.3 805.8C1454.6 805.7 1455.4 805.4 1456 805.3C1456.6 805.3 1457.3 805.3 1458 805.5C1458.6 805.7 1459.4 806 1460.1 806.5C1460.8 806.9 1461.5 807.4 1462.2 808C1462.9 808.6 1463.6 809.4 1464.2 810.1C1464.9 810.9 1465.5 811.8 1466 812.7C1466.5 813.5 1467 814.5 1467.3 815.4C1467.7 816.3 1468 817.3 1468.2 818.2C1468.4 819.1 1468.5 820 1468.5 820.8C1468.5 821.7 1468.5 822.5 1468.3 823.2C1468.1 823.8 1467.9 824.5 1467.5 825C1467.2 825.5 1466.5 826 1466.2 826.2"/>
<path class="t" d="M1449.1 808.9C1449.4 808.8 1450.2 808.4 1450.8 808.4C1451.4 808.3 1452.1 808.4 1452.8 808.6C1453.5 808.8 1454.2 809.1 1454.9 809.5C1455.6 809.9 1456.4 810.4 1457.1 811.1C1457.7 811.7 1458.4 812.4 1459.1 813.2C1459.7 814 1460.3 814.8 1460.8 815.7C1461.3 816.6 1461.8 817.5 1462.2 818.5C1462.5 819.4 1462.8 820.3 1463 821.2C1463.2 822.1 1463.3 823.1 1463.4 823.9C1463.4 824.7 1463.3 825.5 1463.1 826.2C1463 826.9 1462.7 827.5 1462.3 828C1462 828.5 1461.3 829 1461.1 829.2"/>
<path class="wf" d="M414.9 700L435.3 700L435.3 738L433 743L428 745.4L422 745.4L417 743L414.9 738Z"/>
<path class="o" d="M414.9 704C414.9 709.7 414.5 731.5 414.9 738C415.2 744.5 415.8 741.8 417 743C418.2 744.2 420.2 745 422 745.4C423.8 745.8 426.2 745.8 428 745.4C429.8 745 431.8 744.2 433 743C434.2 741.8 434.9 744.5 435.3 738C435.7 731.5 435.3 709.7 435.3 704"/>
<path class="t" d="M435.2 711.5C435.2 711.6 435.1 712 435 712.2C434.8 712.5 434.6 712.7 434.3 713C434 713.2 433.7 713.4 433.3 713.6C432.8 713.8 432.4 714 431.8 714.2C431.3 714.3 430.7 714.5 430.1 714.6C429.5 714.7 428.8 714.8 428.2 714.9C427.5 715 426.8 715.1 426.1 715.1C425.4 715.1 424.6 715.1 423.9 715.1C423.2 715.1 422.5 715 421.8 714.9C421.2 714.8 420.5 714.7 419.9 714.6C419.3 714.5 418.7 714.3 418.2 714.2C417.6 714 417.2 713.8 416.7 713.6C416.3 713.4 416 713.2 415.7 713C415.4 712.7 415.2 712.5 415 712.2C414.9 712 414.8 711.6 414.8 711.5"/>
<path class="m" d="M435.2 714C435.2 714.1 435.1 714.5 435 714.7C434.8 715 434.6 715.2 434.3 715.5C434 715.7 433.7 715.9 433.3 716.1C432.8 716.3 432.4 716.5 431.8 716.7C431.3 716.8 430.7 717 430.1 717.1C429.5 717.2 428.8 717.3 428.2 717.4C427.5 717.5 426.8 717.6 426.1 717.6C425.4 717.6 424.6 717.6 423.9 717.6C423.2 717.6 422.5 717.5 421.8 717.4C421.2 717.3 420.5 717.2 419.9 717.1C419.3 717 418.7 716.8 418.2 716.7C417.6 716.5 417.2 716.3 416.7 716.1C416.3 715.9 416 715.7 415.7 715.5C415.4 715.2 415.2 715 415 714.7C414.9 714.5 414.8 714.1 414.8 714"/>
<path class="wf" d="M445.9 693.7L445.2 696.7L443.1 699.5L439.7 701.9L435.4 703.7L430.3 704.9L424.9 705.3L419.5 704.9L414.4 703.7L410.1 701.9L406.7 699.5L404.6 696.7L403.9 693.7L404.6 690.7L406.7 687.9L410.1 685.5L414.4 683.7L419.5 682.5L424.9 682.1L430.3 682.5L435.4 683.7L439.7 685.5L443.1 687.9L445.2 690.7L445.9 693.7Z"/>
<ellipse class="o" cx="424.9" cy="692.2" rx="21" ry="11.4"/>
<path class="m" d="M445.8 695.6C445.7 696 445.4 697.2 445 698C444.5 698.7 443.9 699.5 443.2 700.2C442.5 700.9 441.6 701.5 440.6 702.1C439.7 702.7 438.6 703.3 437.4 703.8C436.2 704.2 434.9 704.7 433.5 705C432.2 705.3 430.8 705.6 429.3 705.7C427.9 705.9 426.4 706 424.9 706C423.4 706 421.9 705.9 420.5 705.7C419 705.6 417.6 705.3 416.3 705C414.9 704.7 413.6 704.2 412.4 703.8C411.2 703.3 410.1 702.7 409.2 702.1C408.2 701.5 407.3 700.9 406.6 700.2C405.9 699.5 405.3 698.7 404.8 698C404.4 697.2 404.1 696 404 695.6"/>
<path class="t" d="M440.3 700.4C440 700.7 439.1 701.5 438.3 702C437.5 702.5 436.6 703 435.6 703.4C434.6 703.8 433.5 704.2 432.4 704.4C431.2 704.7 430 704.9 428.7 705.1C427.5 705.2 426.2 705.3 424.9 705.3C423.6 705.3 422.3 705.2 421.1 705.1C419.8 704.9 418.6 704.7 417.4 704.4C416.3 704.2 415.2 703.8 414.2 703.4C413.2 703 412.3 702.5 411.5 702C410.7 701.5 409.8 700.7 409.5 700.4"/>
<path class="wf" d="M413.8 693L414.5 678L417 674.5L423 673.2L430 673L435 675.5L436.8 680L436.7 693L431 696L425 696.6L418.5 695.6Z"/>
<path class="o" d="M413.8 692C413.9 689.7 414 680.9 414.5 678C415 675.1 415.6 675.3 417 674.5C418.4 673.7 420.8 673.5 423 673.2C425.2 673 428 672.6 430 673C432 673.4 433.9 674.3 435 675.5C436.1 676.7 436.5 677.2 436.8 680C437.1 682.8 436.7 690 436.7 692"/>
<path class="m" d="M413.8 692C414.6 692.6 416.6 694.8 418.5 695.6C420.4 696.4 422.9 696.5 425 696.6C427.1 696.7 429.1 696.8 431 696C432.9 695.2 435.8 692.7 436.7 692"/>
<path class="t" d="M418 677C418.5 676.7 419.5 675.3 421 675C422.5 674.7 425.3 674.6 427 675C428.7 675.4 430.3 677.1 431 677.5"/>
<path class="t" d="M416.8 681L416.8 693.5"/>
<path class="t" d="M420 681L420 693.5"/>
<path class="t" d="M423.5 681L423.5 693.5"/>
<path class="t" d="M428 681L428 693.5"/>
<path class="t" d="M432 681L432 693.5"/>
<path class="t" d="M434.5 681L434.5 692"/>
<path class="t" d="M420 681L425.5 690"/>
<path class="t" d="M432 681L426.5 690"/>
<path class="m" d="M423.5 682L423.5 694"/>
<path class="t" d="M418 677C418.2 677.7 418.2 680.1 419 681C419.8 681.9 422.3 682.2 423 682.5"/>
<path class="t" d="M431 677.5C430.9 678.2 431 680.7 430.5 681.5C430 682.3 428.4 682.3 428 682.5"/>
<path class="wf" d="M726.2 138.8L728.5 133.5L733 129L733.4 124L736.4 117.4L741.5 114L751.6 112.7L760.6 114.6L766.2 118.6L769.3 122.5L769.6 128.7L773 133L775.8 138.8L775.8 142L772 148.5L765 153L756 155.7L746 155.7L737 153L730 148.5L726.2 142Z"/>
<path class="o" d="M733 129C732.2 129.8 729.6 131.9 728.5 133.5C727.4 135.1 726.6 137.4 726.2 138.8C725.8 140.2 725.6 140.4 726.2 142C726.8 143.6 728.2 146.7 730 148.5C731.8 150.3 734.3 151.8 737 153C739.7 154.2 742.8 155.2 746 155.7C749.2 156.1 752.8 156.1 756 155.7C759.2 155.2 762.3 154.2 765 153C767.7 151.8 770.2 150.3 772 148.5C773.8 146.7 775.2 143.6 775.8 142C776.4 140.4 776.3 140.3 775.8 138.8C775.3 137.3 774 134.6 773 133C772 131.4 770.2 129.8 769.6 129.2"/>
<path class="o" d="M733 129.5C733.1 128.6 732.8 126 733.4 124C734 122 735 119.1 736.4 117.4C737.8 115.7 739 114.8 741.5 114C744 113.2 748.4 112.6 751.6 112.7C754.8 112.8 758.2 113.6 760.6 114.6C763 115.6 764.8 117.3 766.2 118.6C767.7 119.9 768.7 120.7 769.3 122.5C769.9 124.3 769.5 128.1 769.6 129.2"/>
<path class="t" d="M772.1 135.2C772.3 135.6 773.1 136.9 773.3 137.8C773.5 138.7 773.6 139.6 773.4 140.5C773.3 141.4 773 142.3 772.6 143.1C772.1 144 771.5 144.8 770.7 145.6C769.9 146.4 769 147.1 768 147.8C766.9 148.5 765.7 149.1 764.4 149.6C763.2 150.1 761.8 150.6 760.3 151C758.9 151.3 757.3 151.6 755.8 151.8C754.2 152 752.6 152.1 751 152.1C749.4 152.1 747.8 152 746.2 151.8C744.7 151.6 743.1 151.3 741.7 151C740.2 150.6 738.8 150.1 737.6 149.6C736.3 149.1 735.1 148.5 734 147.8C733 147.1 732.1 146.4 731.3 145.6C730.5 144.8 729.9 144 729.4 143.1C729 142.3 728.7 141.4 728.6 140.5C728.4 139.6 728.5 138.7 728.7 137.8C728.9 136.9 729.7 135.6 729.9 135.2"/>
<path class="t" d="M771.5 138.6C771.4 139 771.3 140.2 771.1 141C770.8 141.7 770.3 142.5 769.7 143.2C769.1 144 768.4 144.7 767.6 145.3C766.7 145.9 765.8 146.5 764.7 147.1C763.7 147.6 762.5 148.1 761.2 148.5C760 148.9 758.7 149.2 757.3 149.4C756 149.7 754.6 149.9 753.1 149.9C751.7 150 750.3 150 748.9 149.9C747.4 149.9 746 149.7 744.7 149.4C743.3 149.2 742 148.9 740.8 148.5C739.5 148.1 738.3 147.6 737.3 147.1C736.2 146.5 735.3 145.9 734.4 145.3C733.6 144.7 732.9 144 732.3 143.2C731.7 142.5 731.2 141.7 730.9 141C730.7 140.2 730.6 139 730.5 138.6"/>
<path class="t" d="M775.2 143.2C775 143.6 774.4 145.1 773.8 146C773.1 146.9 772.2 147.7 771.2 148.5C770.3 149.3 769.1 150.1 767.8 150.7C766.5 151.4 765.1 152 763.6 152.5C762.1 153 760.4 153.4 758.8 153.7C757.1 154 755.4 154.2 753.6 154.3C751.9 154.4 750.1 154.4 748.4 154.3C746.6 154.2 744.9 154 743.2 153.7C741.6 153.4 739.9 153 738.4 152.5C736.9 152 735.5 151.4 734.2 150.7C732.9 150.1 731.7 149.3 730.8 148.5C729.8 147.7 728.9 146.9 728.2 146C727.6 145.1 727 143.6 726.8 143.2"/>
<path class="t" d="M735 127.6L746.3 133.2L764 130.9L769.4 124.5"/>
<path class="t" d="M735 127.6L735 139.4L746.3 146.1L764 143.3L769.6 134"/>
<path class="m" d="M746.3 133.2L746.3 146.1"/>
<path class="m" d="M764 130.9L764 143.3"/>
<path class="t" d="M735 139.4C735.8 139.8 738.5 140.8 740 142C741.5 143.2 743.3 145.8 744 146.5"/>
<path class="t" d="M764 143.3C764.5 142.8 765.9 141.1 767 140C768.1 138.9 769.9 137.5 770.5 137"/>
<ellipse class="t" cx="751.6" cy="123.6" rx="13.8" ry="7.9"/>
<ellipse class="m" cx="751.6" cy="123.8" rx="10.1" ry="5.9"/>
<path class="t" d="M735 127.6C735.4 126.8 736.9 124.3 737.6 123C738.3 121.7 738.8 120.5 739 120"/>
<path class="wf" d="M411.3 898L411.8 907.5L417 912.3L425 914.2L433 912.3L437.5 907.5L438 898Z"/>
<path class="o" d="M411.3 898C411.4 899.6 410.9 905.1 411.8 907.5C412.8 909.9 414.8 911.2 417 912.3C419.2 913.4 422.3 914.2 425 914.2C427.7 914.2 430.9 913.4 433 912.3C435.1 911.2 436.7 909.9 437.5 907.5C438.3 905.1 437.9 899.6 438 898"/>
<path class="wf" d="M443.8 892.6L443.2 895.2L441.3 897.6L438.3 899.7L434.4 901.3L429.9 902.3L425 902.6L420.1 902.3L415.6 901.3L411.7 899.7L408.7 897.6L406.8 895.2L406.2 892.6L406.8 890L408.7 887.6L411.7 885.5L415.6 883.9L420.1 882.9L425 882.6L429.9 882.9L434.4 883.9L438.3 885.5L441.3 887.6L443.2 890L443.8 892.6Z"/>
<ellipse class="o" cx="425" cy="891.3" rx="18.8" ry="9.8"/>
<path class="m" d="M443.7 894.5C443.6 894.8 443.4 895.8 443 896.5C442.6 897.1 442 897.8 441.4 898.4C440.8 899 440 899.6 439.1 900.1C438.2 900.6 437.2 901.1 436.2 901.5C435.1 901.9 433.9 902.3 432.7 902.5C431.5 902.8 430.2 903 429 903.2C427.7 903.3 426.3 903.4 425 903.4C423.7 903.4 422.3 903.3 421 903.2C419.8 903 418.5 902.8 417.3 902.5C416.1 902.3 414.9 901.9 413.8 901.5C412.8 901.1 411.8 900.6 410.9 900.1C410 899.6 409.2 899 408.6 898.4C408 897.8 407.4 897.1 407 896.5C406.6 895.8 406.4 894.8 406.3 894.5"/>
<path class="t" d="M440 898.2C439.8 898.5 439.1 899.2 438.5 899.7C437.8 900.2 437.1 900.6 436.2 901C435.4 901.4 434.4 901.8 433.4 902.1C432.4 902.4 431.3 902.6 430.2 902.8C429.1 903 427.9 903.1 426.8 903.2C425.6 903.2 424.4 903.2 423.2 903.2C422.1 903.1 420.9 903 419.8 902.8C418.7 902.6 417.6 902.4 416.6 902.1C415.6 901.8 414.6 901.4 413.8 901C412.9 900.6 412.2 900.2 411.5 899.7C410.9 899.2 410.2 898.5 410 898.2"/>
<ellipse class="t" cx="425" cy="890.6" rx="9.5" ry="5.1"/>
<ellipse class="t" cx="425" cy="890.8" rx="7" ry="3.7"/>
<path class="t" d="M417 903.5L417 912.3"/>
<path class="t" d="M431.5 903.8L431.5 912.8"/>
<path class="t" d="M411.5 901C412.4 901.4 414.8 902.9 417 903.5C419.2 904.1 422.6 904.5 425 904.5C427.4 904.5 429.3 904.4 431.5 903.8C433.7 903.2 436.9 901.5 438 901"/>
<path class="wf" d="M903.2 1114.7L906 1109.6L910.5 1106.2L916.1 1105.4L923.4 1109L930.7 1116.4L935.8 1124.2L938.6 1133.2L938.3 1140L935.8 1145L930.7 1148.4L925.1 1149.6L919.5 1148.6L919.5 1148.6L916.7 1150.1L912.7 1152.4L908.2 1150.1L901.5 1145.6L897 1140L894.2 1133.2L894.2 1126.5L897 1122L901.5 1118.6L903.2 1114.7Z"/>
<path class="o" d="M903.2 1114.7C903.7 1113.8 904.8 1111 906 1109.6C907.2 1108.2 908.8 1106.9 910.5 1106.2C912.2 1105.5 914 1104.9 916.1 1105.4C918.2 1105.9 921 1107.2 923.4 1109C925.8 1110.8 928.6 1113.9 930.7 1116.4C932.8 1118.9 934.5 1121.4 935.8 1124.2C937.1 1127 938.2 1130.6 938.6 1133.2C939 1135.8 938.8 1138 938.3 1140C937.8 1142 937.1 1143.6 935.8 1145C934.5 1146.4 932.5 1147.6 930.7 1148.4C928.9 1149.2 927 1149.6 925.1 1149.6C923.2 1149.6 920.4 1148.8 919.5 1148.6"/>
<path class="o" d="M919.5 1148.6C919 1148.8 917.8 1149.5 916.7 1150.1C915.6 1150.7 914.1 1152.4 912.7 1152.4C911.3 1152.4 910.1 1151.2 908.2 1150.1C906.3 1149 903.4 1147.3 901.5 1145.6C899.6 1143.9 898.2 1142.1 897 1140C895.8 1137.9 894.7 1135.5 894.2 1133.2C893.7 1131 893.7 1128.4 894.2 1126.5C894.7 1124.6 895.8 1123.3 897 1122C898.2 1120.7 900.5 1119.8 901.5 1118.6C902.5 1117.4 902.9 1115.3 903.2 1114.7"/>
<path class="t" d="M905.5 1114C905.9 1113.4 906.9 1111.4 908 1110.5C909.1 1109.6 910.5 1108.8 912 1108.5C913.5 1108.2 915.2 1108.1 917 1108.8C918.8 1109.5 921 1110.8 923 1112.5C925 1114.2 927.2 1116.6 929 1119C930.8 1121.4 932.4 1124.3 933.5 1127C934.6 1129.7 935.3 1132.5 935.5 1135C935.7 1137.5 935.2 1140.1 934.5 1142C933.8 1143.9 931.6 1145.8 931 1146.5"/>
<path class="t" d="M907.5 1113.5C908.1 1113.1 909.6 1111.3 911 1111C912.4 1110.7 914.2 1110.8 916 1111.5C917.8 1112.2 919.7 1113.3 921.5 1115C923.3 1116.7 925.4 1119.2 927 1121.5C928.6 1123.8 930 1126.5 931 1129C932 1131.5 932.6 1134.2 932.7 1136.5C932.8 1138.8 932.3 1140.8 931.5 1142.5C930.7 1144.2 928.6 1145.8 928 1146.5"/>
<ellipse class="m" cx="906" cy="1135.5" rx="13.2" ry="7.6" transform="rotate(62 906 1135.5)"/>
<ellipse class="t" cx="906.2" cy="1135.7" rx="11" ry="6" transform="rotate(62 906.2 1135.7)"/>
<ellipse class="t" cx="905.8" cy="1135.4" rx="15" ry="9.2" transform="rotate(62 905.8 1135.4)"/>
<path class="t" d="M903.5 1116.5L913.3 1127L916.7 1142.2L912.7 1151.5"/>
<path class="t" d="M913.3 1127L922.3 1121.4L928.5 1136.6L916.7 1142.2"/>
<path class="t" d="M903.5 1116.5L910.5 1113.5L922.3 1121.4"/>
<path class="t" d="M916.7 1142.2L920 1148.5"/>
<path class="t" d="M928.5 1136.6L929.5 1146"/>
<path class="t" d="M920 1148.5L928.5 1137"/>
<defs><pattern id="hat" width="3.3" height="3.3" patternUnits="userSpaceOnUse" patternTransform="rotate(-32)"><rect width="3.3" height="3.3" fill="#d2d2d2"/><rect width="3.3" height="1.8" fill="#3c3c3c"/></pattern></defs>
<path class="wf" d="M401.3 805L405.6 813.8L400 818.8L396.9 827.5L398.8 836.3L407.5 845L422.5 852.5L435 860L447.5 868.8L460 875L475 878L481.3 881.3L485 887.5L492.5 891.3L503.8 892.5L516.3 895L528.8 895L545 891.3L557.5 885L566.3 875L570 862.5L569.4 851.3L565 846.3L566.3 840L565 832.5L560 826.3L552.5 822.5L545 820L538.8 817.5L533.8 807.5L531.3 797.5L530 787.5L526.3 780L520 776.3L507.5 776.9L501.3 780L498 788.8L497.5 785.6L488.8 782.5L475 781.3L462.5 783L452.5 787.5L446.3 788L438.8 785L430 782.5L420 781.5L412.5 782.8L407 785L402 789L399.4 795.6Z"/>
<path class="o" d="M399.4 795.6C399.5 796.3 399.7 798.4 400 800C400.3 801.6 400.4 802.7 401.3 805C402.2 807.3 404.9 812.3 405.6 813.8"/>
<path class="o" d="M405.6 813.8C404.7 814.6 401.4 816.5 400 818.8C398.6 821.1 397.1 824.6 396.9 827.5C396.7 830.4 397 833.4 398.8 836.3C400.6 839.2 403.6 842.3 407.5 845C411.4 847.7 417.9 850 422.5 852.5C427.1 855 430.8 857.3 435 860C439.2 862.7 443.3 866.3 447.5 868.8C451.7 871.3 455.4 873.5 460 875C464.6 876.5 471.4 877 475 878C478.6 879 479.6 879.7 481.3 881.3C483 882.9 483.1 885.8 485 887.5C486.9 889.2 489.4 890.5 492.5 891.3C495.6 892.1 499.8 891.9 503.8 892.5C507.8 893.1 512.1 894.6 516.3 895C520.5 895.4 524 895.6 528.8 895C533.6 894.4 540.2 893 545 891.3C549.8 889.6 554 887.7 557.5 885C561 882.3 564.2 878.8 566.3 875C568.4 871.2 569.5 866.5 570 862.5C570.5 858.5 570.2 854 569.4 851.3C568.6 848.6 565.5 848.2 565 846.3C564.5 844.4 566.3 842.3 566.3 840C566.3 837.7 566 834.8 565 832.5C564 830.2 562.1 828 560 826.3C557.9 824.6 555 823.5 552.5 822.5C550 821.5 547.3 820.8 545 820C542.7 819.2 539.8 817.9 538.8 817.5"/>
<path class="o" d="M399.4 795.6C399.8 794.5 400.7 790.8 402 789C403.3 787.2 405.2 786 407 785C408.8 784 410.3 783.4 412.5 782.8C414.7 782.2 418.8 781.7 420 781.5"/>
<path class="o" d="M430 782.5C431.5 782.9 436.1 784.1 438.8 785C441.5 785.9 444 787.6 446.3 788C448.6 788.4 449.8 788.3 452.5 787.5C455.2 786.7 458.8 784 462.5 783C466.2 782 470.6 781.4 475 781.3C479.4 781.2 485.1 781.8 488.8 782.5C492.6 783.2 496.1 785.1 497.5 785.6"/>
<ellipse cx="422.5" cy="795.6" rx="23" ry="13" fill="url(#hat)" stroke="#000" stroke-width="1.9"/>
<ellipse cx="424.4" cy="798.8" rx="8.7" ry="4.7" fill="#fdfdfd" stroke="#111" stroke-width="1.1"/>
<path class="t" d="M416.8 800.3C416.9 800.2 417 799.8 417.1 799.5C417.3 799.3 417.5 799.1 417.8 798.8C418 798.6 418.3 798.4 418.7 798.2C419.1 798 419.5 797.9 419.9 797.7C420.3 797.6 420.8 797.4 421.3 797.3C421.8 797.2 422.3 797.1 422.8 797.1C423.3 797 423.9 797 424.4 797C424.9 797 425.5 797 426 797.1C426.5 797.1 427 797.2 427.5 797.3C428 797.4 428.5 797.6 428.9 797.7C429.3 797.9 429.7 798 430.1 798.2C430.5 798.4 430.8 798.6 431 798.8C431.3 799.1 431.5 799.3 431.7 799.5C431.8 799.8 431.9 800.2 432 800.3"/>
<ellipse cx="477" cy="798.2" rx="24" ry="15.8" fill="url(#hat)" stroke="#000" stroke-width="1.9"/>
<ellipse cx="480" cy="797.5" rx="8.7" ry="4.7" fill="#fdfdfd" stroke="#111" stroke-width="1.1"/>
<path class="t" d="M472.4 799C472.5 798.9 472.6 798.5 472.7 798.2C472.9 798 473.1 797.8 473.4 797.5C473.6 797.3 473.9 797.1 474.3 796.9C474.7 796.7 475.1 796.6 475.5 796.4C475.9 796.3 476.4 796.1 476.9 796C477.4 795.9 477.9 795.8 478.4 795.8C478.9 795.7 479.5 795.7 480 795.7C480.5 795.7 481.1 795.7 481.6 795.8C482.1 795.8 482.6 795.9 483.1 796C483.6 796.1 484.1 796.3 484.5 796.4C484.9 796.6 485.3 796.7 485.7 796.9C486.1 797.1 486.4 797.3 486.6 797.5C486.9 797.8 487.1 798 487.3 798.2C487.4 798.5 487.5 798.9 487.6 799"/>
<ellipse cx="426.3" cy="830.4" rx="29.3" ry="16" fill="url(#hat)" stroke="#000" stroke-width="1.9"/>
<ellipse cx="425" cy="829.4" rx="8.7" ry="4.7" fill="#fdfdfd" stroke="#111" stroke-width="1.1"/>
<path class="t" d="M417.4 830.9C417.5 830.8 417.6 830.4 417.7 830.1C417.9 829.9 418.1 829.7 418.4 829.4C418.6 829.2 418.9 829 419.3 828.8C419.7 828.6 420.1 828.5 420.5 828.3C420.9 828.2 421.4 828 421.9 827.9C422.4 827.8 422.9 827.7 423.4 827.7C423.9 827.6 424.5 827.6 425 827.6C425.5 827.6 426.1 827.6 426.6 827.7C427.1 827.7 427.6 827.8 428.1 827.9C428.6 828 429.1 828.2 429.5 828.3C429.9 828.5 430.3 828.6 430.7 828.8C431.1 829 431.4 829.2 431.6 829.4C431.9 829.7 432.1 829.9 432.3 830.1C432.4 830.4 432.5 830.8 432.6 830.9"/>
<path class="t" d="M431 850C433.8 851.2 442.2 855 447.5 857.5C452.8 860 457.1 863.1 462.5 865C467.9 866.9 474.2 868.2 480 868.8C485.8 869.4 491.7 869 497.5 868.8C503.3 868.6 512.1 867.7 515 867.5"/>
<path class="t" d="M410 847.5C413.1 848.8 422.6 852.1 428.8 855C435.1 857.9 441.2 862.1 447.5 865C453.8 867.9 460.1 870.6 466.3 872.5C472.6 874.4 477.7 875.5 485 876.3C492.3 877.1 503.8 877.7 510 877.5C516.2 877.3 520.4 875.4 522.5 875"/>
<path class="t" d="M515 868.8C516.2 869.6 520.6 871.5 522.5 873.8C524.4 876.1 525.5 879.6 526.3 882.5C527.1 885.4 527.3 889.8 527.5 891.3"/>
<path class="wf" d="M484.4 850L486.3 842.5L492.5 836.3L500 832.5L545 820L552.5 822.5L560 826.3L565 832.5L566.3 840L563.8 842.5L553.8 853.8L535 861.3L510 865L491.3 862.5Z"/>
<path class="t" d="M500 832.5C498.8 833.1 494.8 834.6 492.5 836.3C490.2 838 487.7 840.2 486.3 842.5C484.9 844.8 484.4 847.6 484.4 850C484.4 852.4 485.4 854.9 486.5 857C487.6 859.1 490.5 861.6 491.3 862.5"/>
<path class="m" d="M491.3 862.5C492.8 862.8 496.9 864.1 500 864.5C503.1 864.9 506.3 865.1 510 865C513.7 864.9 517.8 864.6 522 864C526.2 863.4 531 862.4 535 861.3C539 860.2 542.9 858.8 546 857.5C549.1 856.2 551.5 855.4 553.8 853.8C556.1 852.2 558.3 849.9 560 848C561.7 846.1 563.2 843.4 563.8 842.5"/>
<path d="M496 865.5C498.3 865.8 505.3 867.2 510 867.3C514.7 867.4 519.3 866.8 524 866C528.7 865.2 533.7 863.9 538 862.5C542.3 861.1 546.5 859.4 550 857.5C553.5 855.6 556.6 853 559 851C561.4 849 563.6 846.4 564.5 845.5" style="fill:none;stroke:#1a1a1a;stroke-width:3;stroke-dasharray:1.4 0.7"/>
<path class="t" d="M494 868C496.7 868.3 504.8 869.9 510 870C515.2 870.1 520 869.5 525 868.6C530 867.7 535.5 866.2 540 864.7C544.5 863.2 548.5 861.5 552 859.5C555.5 857.5 558.6 855.1 561 853C563.4 850.9 565.6 848 566.5 847"/>
<path class="o" d="M552.5 822.5C553.8 823.1 557.9 824.6 560 826.3C562.1 828 564 830.2 565 832.5C566 834.8 566.5 837.9 566.3 840C566.1 842.1 564.2 844.2 563.8 845"/>
<path class="t" d="M565.8 848C566.1 849.3 567.4 853 567.5 856C567.6 859 567.2 863 566.5 866C565.8 869 563.6 872.7 563 874"/>
<path class="wf" d="M546.5 831.5L545.7 833.7L543.3 835.8L539.5 837.6L534.5 838.9L528.7 839.8L522.5 840.1L516.3 839.8L510.5 838.9L505.5 837.6L501.7 835.8L499.3 833.7L498.5 831.5L499.3 829.3L501.7 827.2L505.5 825.4L510.5 824.1L516.3 823.2L522.5 822.9L528.7 823.2L534.5 824.1L539.5 825.4L543.3 827.2L545.7 829.3L546.5 831.5Z"/>
<path class="m" d="M543.3 827.2C543.6 827.5 544.8 828.3 545.3 828.8C545.8 829.4 546.2 830 546.4 830.6C546.5 831.2 546.5 831.8 546.4 832.4C546.2 833 545.8 833.6 545.3 834.2C544.8 834.7 544.1 835.3 543.3 835.8C542.5 836.3 541.4 836.8 540.3 837.3C539.2 837.7 538 838.1 536.6 838.5C535.3 838.8 533.8 839.1 532.3 839.4C530.7 839.6 529.1 839.8 527.5 839.9C525.9 840 524.2 840.1 522.5 840.1C520.8 840.1 519.1 840 517.5 839.9C515.9 839.8 514.3 839.6 512.7 839.4C511.2 839.1 509.7 838.8 508.4 838.5C507 838.1 505.8 837.7 504.7 837.3C503.6 836.8 502.5 836.3 501.7 835.8C500.9 835.3 500.2 834.7 499.7 834.2C499.2 833.6 498.8 833 498.6 832.4C498.5 831.8 498.5 831.2 498.6 830.6C498.8 830 499.2 829.4 499.7 828.8C500.2 828.3 501.4 827.5 501.7 827.2"/>
<path class="t" d="M543.4 829.7C543.4 829.9 543.5 830.7 543.3 831.3C543.1 831.8 542.7 832.3 542.2 832.8C541.7 833.3 540.9 833.8 540.1 834.2C539.3 834.7 538.3 835.1 537.2 835.5C536.1 835.8 534.8 836.2 533.5 836.4C532.2 836.7 530.8 836.9 529.3 837.1C527.9 837.3 526.3 837.4 524.8 837.5C523.3 837.5 521.7 837.5 520.2 837.5C518.7 837.4 517.1 837.3 515.7 837.1C514.2 836.9 512.8 836.7 511.5 836.4C510.2 836.2 508.9 835.8 507.8 835.5C506.7 835.1 505.7 834.7 504.9 834.2C504.1 833.8 503.3 833.3 502.8 832.8C502.3 832.3 501.9 831.8 501.7 831.3C501.5 830.7 501.6 829.9 501.6 829.7"/>
<path class="t" d="M541.1 829.3C541 829.5 541 830.1 540.7 830.5C540.4 831 540 831.4 539.5 831.7C539 832.1 538.3 832.5 537.5 832.8C536.8 833.2 535.9 833.5 534.9 833.8C534 834 532.9 834.3 531.8 834.5C530.7 834.7 529.5 834.9 528.2 835C527 835.1 525.7 835.2 524.4 835.3C523.2 835.3 521.8 835.3 520.6 835.3C519.3 835.2 518 835.1 516.8 835C515.5 834.9 514.3 834.7 513.2 834.5C512.1 834.3 511 834 510.1 833.8C509.1 833.5 508.2 833.2 507.5 832.8C506.7 832.5 506 832.1 505.5 831.7C505 831.4 504.6 831 504.3 830.5C504 830.1 504 829.5 503.9 829.3"/>
<path class="wf" d="M498 788.8L501.3 780L507.5 776.9L520 776.3L526.3 780L530 787.5L531.3 797.5L533.8 807.5L538.8 820L540 828L530 832.5L520 833.5L510 831.5L505.5 828L503.8 817.5L502.5 807.5L499.4 797.5Z"/>
<path class="o" d="M505.5 828C505.2 826.2 504.3 820.9 503.8 817.5C503.3 814.1 503.2 810.8 502.5 807.5C501.8 804.2 500.1 800.6 499.4 797.5C498.6 794.4 497.7 791.7 498 788.8C498.3 785.9 499.7 782 501.3 780C502.9 778 504.4 777.5 507.5 776.9C510.6 776.3 516.9 775.8 520 776.3C523.1 776.8 524.6 778.1 526.3 780C528 781.9 529.2 784.6 530 787.5C530.8 790.4 530.7 794.2 531.3 797.5C531.9 800.8 532.5 803.8 533.8 807.5C535 811.2 537.8 816.8 538.8 820C539.8 823.2 539.8 825.8 540 827"/>
<ellipse class="t" cx="511.9" cy="781.9" rx="4" ry="2.2"/>
<path class="t" d="M498.6 791.5C499.8 792.2 503.1 794.7 506 795.5C508.9 796.3 512.8 796.5 516 796.3C519.2 796.1 522.6 795.3 525 794.3C527.4 793.3 529.7 791.1 530.6 790.5"/>
<path class="t" d="M502.5 807.5C503.8 808.1 507.2 810.3 510 811C512.8 811.7 516.1 811.8 519 811.6C521.9 811.4 525 810.5 527.5 809.6C530 808.7 532.8 806.6 533.8 806"/>
<path class="t" d="M503.8 818.5C505 819.1 508.1 821.3 511 822C513.9 822.7 517.7 823 521 822.8C524.3 822.5 528.2 821.5 531 820.5C533.8 819.5 536.4 817.6 537.5 817"/>
<path d="M424.4 779V801" style="stroke:#fdfdfd;stroke-width:7;fill:none"/>
<path d="M324 522.2L336 515.2" style="stroke:#fdfdfd;stroke-width:6;fill:none"/>
<g class="a">
<path d="M751 160.7V186.3M751 210.6V229.8"/>
<path d="M751 398.5V424.2"/>
<path d="M275 551.6L283.1 546.6M290.3 542.5L298.4 537.8M305.9 533.4L344 511.3"/>
<path d="M813 830.3L852 853.1M858.5 857.2L867.5 862M874 866L913 888M919.5 892L928.5 897M935 901L974 923M980.5 927L989.4 932M996 936L1035 958.8M1041.3 962.5L1042.7 963.3"/>
<path d="M996 1082.5L957 1105.2M950 1109.2L942.5 1113.6"/>
<path d="M1369 867.3L1349.9 878.5M1342.8 882.6L1334.9 887.1M1327.8 891.3L1288.4 913.8"/>
<path d="M424.4 771.9V801M424.4 860.6V876.3M424.4 877.8V893.8"/>
</g>
</g>
</svg>
</body></html>
